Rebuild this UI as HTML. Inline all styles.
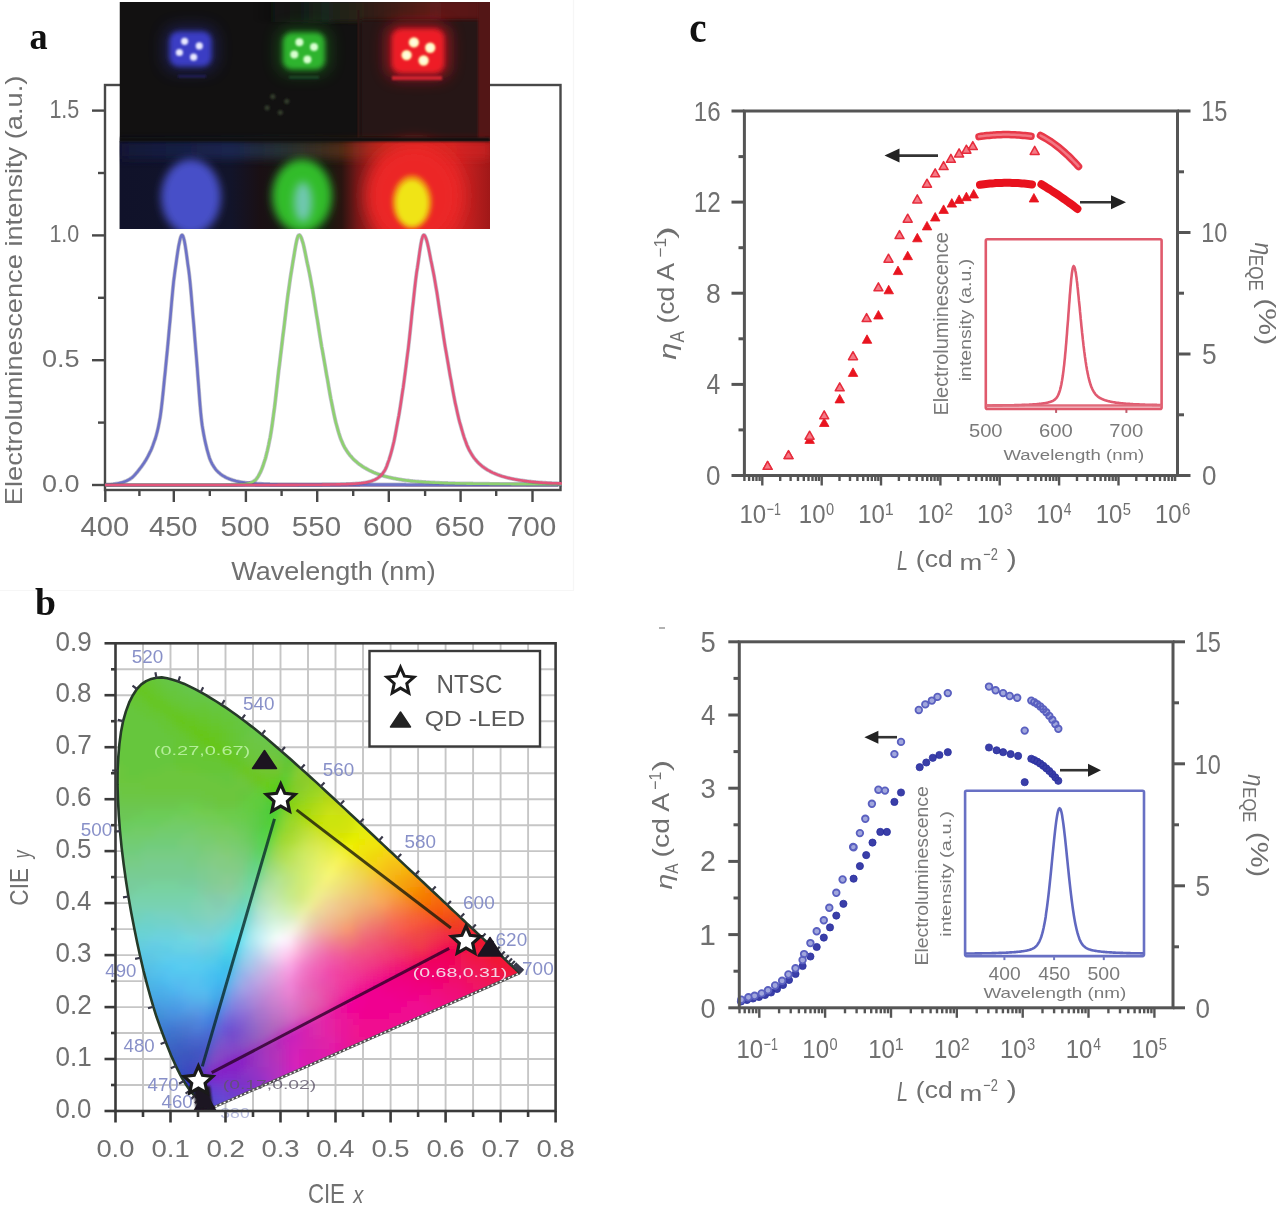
<!DOCTYPE html><html><head><meta charset="utf-8"><style>html,body{margin:0;padding:0;background:#fff;overflow:hidden}svg{display:block;filter:blur(0.45px)}</style></head><body>
<svg width="1280" height="1209" viewBox="0 0 1280 1209">
<rect width="1280" height="1209" fill="#fff"/>
<path d="M0 590.5 H573.5 V0" stroke="#f6f6f6" stroke-width="1.2" fill="none"/>
<rect x="105" y="85" width="455.5" height="405" fill="none" stroke="#484848" stroke-width="2.4"/>
<line x1="92.0" y1="485.0" x2="105.0" y2="485.0" stroke="#484848" stroke-width="2.4" />
<line x1="98.0" y1="422.6" x2="105.0" y2="422.6" stroke="#484848" stroke-width="2.4" />
<line x1="92.0" y1="360.2" x2="105.0" y2="360.2" stroke="#484848" stroke-width="2.4" />
<line x1="98.0" y1="297.8" x2="105.0" y2="297.8" stroke="#484848" stroke-width="2.4" />
<line x1="92.0" y1="235.4" x2="105.0" y2="235.4" stroke="#484848" stroke-width="2.4" />
<line x1="98.0" y1="173.0" x2="105.0" y2="173.0" stroke="#484848" stroke-width="2.4" />
<line x1="92.0" y1="110.6" x2="105.0" y2="110.6" stroke="#484848" stroke-width="2.4" />
<line x1="105.3" y1="490.0" x2="105.3" y2="502.0" stroke="#484848" stroke-width="2.4" />
<line x1="139.4" y1="490.0" x2="139.4" y2="496.0" stroke="#484848" stroke-width="2.4" />
<line x1="173.8" y1="490.0" x2="173.8" y2="502.0" stroke="#484848" stroke-width="2.4" />
<line x1="209.8" y1="490.0" x2="209.8" y2="496.0" stroke="#484848" stroke-width="2.4" />
<line x1="245.9" y1="490.0" x2="245.9" y2="502.0" stroke="#484848" stroke-width="2.4" />
<line x1="281.6" y1="490.0" x2="281.6" y2="496.0" stroke="#484848" stroke-width="2.4" />
<line x1="317.2" y1="490.0" x2="317.2" y2="502.0" stroke="#484848" stroke-width="2.4" />
<line x1="353.2" y1="490.0" x2="353.2" y2="496.0" stroke="#484848" stroke-width="2.4" />
<line x1="388.8" y1="490.0" x2="388.8" y2="502.0" stroke="#484848" stroke-width="2.4" />
<line x1="425.1" y1="490.0" x2="425.1" y2="496.0" stroke="#484848" stroke-width="2.4" />
<line x1="460.6" y1="490.0" x2="460.6" y2="502.0" stroke="#484848" stroke-width="2.4" />
<line x1="496.2" y1="490.0" x2="496.2" y2="496.0" stroke="#484848" stroke-width="2.4" />
<line x1="532.5" y1="490.0" x2="532.5" y2="502.0" stroke="#484848" stroke-width="2.4" />
<path d="M107 485.5 H558" stroke="#b9a0c8" stroke-width="3" fill="none"/>
<path d="M120 485 H250" stroke="#c8d890" stroke-width="2" fill="none"/>
<path d="M255 485.5 H360" stroke="#a070b0" stroke-width="2" fill="none"/>
<path d="M105.0 484.7 L105.7 484.7 L106.4 484.7 L107.1 484.6 L107.9 484.6 L108.6 484.5 L109.3 484.5 L110.0 484.4 L110.7 484.4 L111.4 484.3 L112.2 484.2 L112.9 484.2 L113.6 484.1 L114.3 484.0 L115.0 483.9 L115.7 483.8 L116.4 483.7 L117.2 483.6 L117.9 483.5 L118.6 483.3 L119.3 483.2 L120.0 483.0 L120.7 482.8 L121.4 482.6 L122.2 482.4 L122.9 482.2 L123.6 482.0 L124.3 481.7 L125.0 481.5 L125.7 481.2 L126.5 480.9 L127.2 480.5 L127.9 480.2 L128.6 479.8 L129.3 479.4 L130.0 479.0 L130.7 478.5 L131.5 478.0 L132.2 477.4 L132.9 476.8 L133.6 476.1 L134.3 475.4 L135.0 474.6 L135.7 473.8 L136.5 472.9 L137.2 472.1 L137.9 471.2 L138.6 470.3 L139.3 469.4 L140.0 468.5 L140.8 467.5 L141.5 466.6 L142.2 465.6 L142.9 464.6 L143.6 463.6 L144.3 462.5 L145.0 461.4 L145.8 460.2 L146.5 458.9 L147.2 457.7 L147.9 456.4 L148.6 455.0 L149.3 453.6 L150.0 452.2 L150.8 450.6 L151.5 449.0 L152.2 447.2 L152.9 445.4 L153.6 443.4 L154.3 441.4 L155.1 439.3 L155.8 437.0 L156.5 434.5 L157.2 431.8 L157.9 428.9 L158.6 425.6 L159.3 421.9 L160.1 417.6 L160.8 412.7 L161.5 407.2 L162.2 401.1 L162.9 394.5 L163.6 387.6 L164.3 380.3 L165.1 372.9 L165.8 365.6 L166.5 358.5 L167.2 351.5 L167.9 344.1 L168.6 336.4 L169.3 328.4 L170.1 320.3 L170.8 312.1 L171.5 304.0 L172.2 296.2 L172.9 288.7 L173.6 281.7 L174.4 275.4 L175.1 270.1 L175.8 265.2 L176.5 260.2 L177.2 255.3 L177.9 250.6 L178.6 246.3 L179.4 242.5 L180.1 239.2 L180.8 236.8 L181.5 235.4 L182.2 235.0 L182.9 235.9 L183.6 238.0 L184.4 241.1 L185.1 244.9 L185.8 249.4 L186.5 254.3 L187.2 259.5 L187.9 264.8 L188.7 270.1 L189.4 275.8 L190.1 282.4 L190.8 289.8 L191.5 297.8 L192.2 306.3 L192.9 315.0 L193.7 323.8 L194.4 332.7 L195.1 341.5 L195.8 350.1 L196.5 358.5 L197.2 367.4 L197.9 377.2 L198.7 387.1 L199.4 396.7 L200.1 405.5 L200.8 413.3 L201.5 420.1 L202.2 425.6 L203.0 430.3 L203.7 434.3 L204.4 438.0 L205.1 441.3 L205.8 444.4 L206.5 447.3 L207.2 450.2 L208.0 452.9 L208.7 455.4 L209.4 457.7 L210.1 459.6 L210.8 461.2 L211.5 462.7 L212.2 464.1 L213.0 465.4 L213.7 466.5 L214.4 467.6 L215.1 468.6 L215.8 469.5 L216.5 470.3 L217.3 471.1 L218.0 471.8 L218.7 472.5 L219.4 473.1 L220.1 473.7 L220.8 474.3 L221.5 474.8 L222.3 475.3 L223.0 475.8 L223.7 476.2 L224.4 476.6 L225.1 477.0 L225.8 477.4 L226.6 477.8 L227.3 478.1 L228.0 478.4 L228.7 478.7 L229.4 479.0 L230.1 479.2 L230.8 479.5 L231.6 479.7 L232.3 480.0 L233.0 480.2 L233.7 480.4 L234.4 480.6 L235.1 480.8 L235.8 481.0 L236.6 481.2 L237.3 481.4 L238.0 481.5 L238.7 481.7 L239.4 481.8 L240.1 482.0 L240.8 482.1 L241.6 482.2 L242.3 482.3 L243.0 482.4 L243.7 482.5 L244.4 482.6 L245.1 482.7 L245.9 482.8 L246.6 482.9 L247.3 482.9 L248.0 483.0 L248.7 483.1 L249.4 483.1 L250.1 483.2 L250.9 483.2 L251.6 483.3 L252.3 483.3 L253.0 483.4 L253.7 483.4 L254.4 483.5 L255.2 483.5 L255.9 483.6 L256.6 483.6 L257.3 483.7 L258.0 483.7 L258.7 483.7 L259.4 483.8 L260.2 483.8 L260.9 483.8 L261.6 483.9 L262.3 483.9 L263.0 483.9 L263.7 484.0 L264.4 484.0 L265.2 484.0 L265.9 484.0 L266.6 484.1 L267.3 484.1 L268.0 484.1 L268.7 484.1 L269.4 484.1 L270.2 484.2 L270.9 484.2 L271.6 484.2 L272.3 484.2 L273.0 484.2 L273.7 484.2 L274.5 484.2 L275.2 484.2 L275.9 484.2 L276.6 484.2 L277.3 484.3 L278.0 484.3 L278.7 484.3 L279.5 484.3 L280.2 484.3 L280.9 484.3 L281.6 484.3 L282.3 484.3 L283.0 484.3 L283.8 484.3 L284.5 484.3 L285.2 484.3 L285.9 484.3 L286.6 484.3 L287.3 484.3 L288.0 484.3 L288.8 484.3 L289.5 484.3 L290.2 484.3 L290.9 484.3 L291.6 484.3 L292.3 484.3 L293.0 484.3 L293.8 484.3 L294.5 484.3 L295.2 484.3 L295.9 484.3 L296.6 484.3 L297.3 484.3 L298.0 484.4 L298.8 484.4 L299.5 484.4 L300.2 484.4 L300.9 484.4 L301.6 484.4 L302.3 484.4 L303.1 484.4 L303.8 484.4 L304.5 484.4 L305.2 484.4 L305.9 484.4 L306.6 484.4 L307.3 484.4 L308.1 484.4 L308.8 484.4 L309.5 484.4 L310.2 484.4 L310.9 484.4 L311.6 484.4 L312.4 484.4 L313.1 484.4 L313.8 484.4 L314.5 484.4 L315.2 484.4 L315.9 484.4 L316.6 484.4 L317.4 484.4 L318.1 484.4 L318.8 484.4 L319.5 484.4 L320.2 484.4 L320.9 484.4 L321.6 484.4 L322.4 484.4 L323.1 484.5 L323.8 484.5 L324.5 484.5 L325.2 484.5 L325.9 484.5 L326.6 484.5 L327.4 484.5 L328.1 484.5 L328.8 484.5 L329.5 484.5 L330.2 484.5 L330.9 484.5 L331.7 484.5 L332.4 484.5 L333.1 484.5 L333.8 484.5 L334.5 484.5 L335.2 484.5 L335.9 484.5 L336.7 484.5 L337.4 484.5 L338.1 484.5 L338.8 484.5 L339.5 484.5 L340.2 484.5 L340.9 484.5 L341.7 484.5 L342.4 484.5 L343.1 484.5 L343.8 484.5 L344.5 484.5 L345.2 484.5 L346.0 484.5 L346.7 484.5 L347.4 484.5 L348.1 484.5 L348.8 484.5 L349.5 484.5 L350.2 484.5 L351.0 484.5 L351.7 484.5 L352.4 484.5 L353.1 484.5 L353.8 484.5 L354.5 484.5 L355.2 484.5 L356.0 484.5 L356.7 484.6 L357.4 484.6 L358.1 484.6 L358.8 484.6 L359.5 484.6 L360.3 484.6 L361.0 484.6 L361.7 484.6 L362.4 484.6 L363.1 484.6 L363.8 484.6 L364.5 484.6 L365.3 484.6 L366.0 484.6 L366.7 484.6 L367.4 484.6 L368.1 484.6 L368.8 484.6 L369.6 484.6 L370.3 484.6 L371.0 484.6 L371.7 484.6 L372.4 484.6 L373.1 484.6 L373.8 484.6 L374.6 484.6 L375.3 484.6 L376.0 484.6 L376.7 484.6 L377.4 484.6 L378.1 484.6 L378.8 484.6 L379.6 484.6 L380.3 484.6 L381.0 484.6 L381.7 484.6 L382.4 484.6 L383.1 484.6 L383.8 484.6 L384.6 484.6 L385.3 484.6 L386.0 484.6 L386.7 484.6 L387.4 484.6 L388.1 484.6 L388.9 484.6 L389.6 484.6 L390.3 484.6 L391.0 484.6 L391.7 484.6 L392.4 484.6 L393.1 484.6 L393.9 484.6 L394.6 484.6 L395.3 484.6 L396.0 484.6 L396.7 484.6 L397.4 484.6 L398.1 484.6 L398.9 484.6 L399.6 484.6 L400.3 484.6 L401.0 484.6 L401.7 484.6 L402.4 484.6 L403.2 484.6 L403.9 484.6 L404.6 484.6 L405.3 484.6 L406.0 484.7 L406.7 484.7 L407.4 484.7 L408.2 484.7 L408.9 484.7 L409.6 484.7 L410.3 484.7 L411.0 484.7 L411.7 484.7 L412.4 484.7 L413.2 484.7 L413.9 484.7 L414.6 484.7 L415.3 484.7 L416.0 484.7 L416.7 484.7 L417.5 484.7 L418.2 484.7 L418.9 484.7 L419.6 484.7 L420.3 484.7 L421.0 484.7 L421.7 484.7 L422.5 484.7 L423.2 484.7 L423.9 484.7 L424.6 484.7 L425.3 484.7 L426.0 484.7 L426.8 484.7 L427.5 484.7 L428.2 484.7 L428.9 484.7 L429.6 484.7 L430.3 484.7 L431.0 484.7 L431.8 484.7 L432.5 484.7 L433.2 484.7 L433.9 484.7 L434.6 484.7 L435.3 484.7 L436.0 484.7 L436.8 484.7 L437.5 484.7 L438.2 484.7 L438.9 484.7 L439.6 484.7 L440.3 484.7 L441.1 484.7 L441.8 484.7 L442.5 484.7 L443.2 484.7 L443.9 484.7 L444.6 484.7 L445.3 484.7 L446.1 484.7 L446.8 484.7 L447.5 484.7 L448.2 484.7 L448.9 484.7 L449.6 484.7 L450.3 484.7 L451.1 484.7 L451.8 484.7 L452.5 484.7 L453.2 484.7 L453.9 484.7 L454.6 484.7 L455.3 484.7 L456.1 484.7 L456.8 484.7 L457.5 484.7 L458.2 484.7 L458.9 484.7 L459.6 484.7 L460.4 484.7 L461.1 484.7 L461.8 484.7 L462.5 484.7 L463.2 484.7 L463.9 484.7 L464.6 484.7 L465.4 484.7 L466.1 484.7 L466.8 484.7 L467.5 484.7 L468.2 484.7 L468.9 484.7 L469.6 484.7 L470.4 484.7 L471.1 484.7 L471.8 484.7 L472.5 484.7 L473.2 484.7 L473.9 484.7 L474.7 484.7 L475.4 484.7 L476.1 484.7 L476.8 484.7 L477.5 484.7 L478.2 484.7 L478.9 484.7 L479.7 484.7 L480.4 484.7 L481.1 484.7 L481.8 484.7 L482.5 484.7 L483.2 484.7 L483.9 484.7 L484.7 484.7 L485.4 484.7 L486.1 484.7 L486.8 484.7 L487.5 484.7 L488.2 484.7 L489.0 484.7 L489.7 484.7 L490.4 484.7 L491.1 484.7 L491.8 484.7 L492.5 484.7 L493.2 484.7 L494.0 484.7 L494.7 484.7 L495.4 484.7 L496.1 484.7 L496.8 484.7 L497.5 484.7 L498.2 484.7 L499.0 484.7 L499.7 484.7 L500.4 484.7 L501.1 484.7 L501.8 484.7 L502.5 484.7 L503.3 484.7 L504.0 484.7 L504.7 484.7 L505.4 484.7 L506.1 484.7 L506.8 484.7 L507.5 484.7 L508.3 484.7 L509.0 484.7 L509.7 484.7 L510.4 484.7 L511.1 484.7 L511.8 484.7 L512.5 484.7 L513.3 484.7 L514.0 484.7 L514.7 484.7 L515.4 484.7 L516.1 484.7 L516.8 484.7 L517.6 484.7 L518.3 484.7 L519.0 484.7 L519.7 484.7 L520.4 484.7 L521.1 484.7 L521.8 484.7 L522.6 484.7 L523.3 484.7 L524.0 484.7 L524.7 484.7 L525.4 484.7 L526.1 484.7 L526.8 484.7 L527.6 484.7 L528.3 484.7 L529.0 484.7 L529.7 484.7 L530.4 484.7 L531.1 484.7 L531.9 484.7 L532.6 484.7 L533.3 484.7 L534.0 484.7 L534.7 484.7 L535.4 484.7 L536.1 484.7 L536.9 484.7 L537.6 484.7 L538.3 484.7 L539.0 484.7 L539.7 484.7 L540.4 484.7 L541.1 484.7 L541.9 484.7 L542.6 484.7 L543.3 484.7 L544.0 484.7 L544.7 484.7 L545.4 484.7 L546.2 484.7 L546.9 484.7 L547.6 484.7 L548.3 484.7 L549.0 484.7 L549.7 484.7 L550.4 484.7 L551.2 484.7 L551.9 484.7 L552.6 484.7 L553.3 484.7 L554.0 484.7 L554.7 484.7 L555.5 484.7 L556.2 484.7 L556.9 484.7 L557.6 484.7 L558.3 484.7 L559.0 484.7 L559.7 484.7 L560.5 484.7 L561.2 484.7 L561.9 484.7" stroke="#505070" stroke-opacity="0.35" stroke-width="4" fill="none" stroke-linejoin="round"/>
<path d="M105.0 484.7 L105.7 484.7 L106.4 484.7 L107.1 484.6 L107.9 484.6 L108.6 484.5 L109.3 484.5 L110.0 484.4 L110.7 484.4 L111.4 484.3 L112.2 484.2 L112.9 484.2 L113.6 484.1 L114.3 484.0 L115.0 483.9 L115.7 483.8 L116.4 483.7 L117.2 483.6 L117.9 483.5 L118.6 483.3 L119.3 483.2 L120.0 483.0 L120.7 482.8 L121.4 482.6 L122.2 482.4 L122.9 482.2 L123.6 482.0 L124.3 481.7 L125.0 481.5 L125.7 481.2 L126.5 480.9 L127.2 480.5 L127.9 480.2 L128.6 479.8 L129.3 479.4 L130.0 479.0 L130.7 478.5 L131.5 478.0 L132.2 477.4 L132.9 476.8 L133.6 476.1 L134.3 475.4 L135.0 474.6 L135.7 473.8 L136.5 472.9 L137.2 472.1 L137.9 471.2 L138.6 470.3 L139.3 469.4 L140.0 468.5 L140.8 467.5 L141.5 466.6 L142.2 465.6 L142.9 464.6 L143.6 463.6 L144.3 462.5 L145.0 461.4 L145.8 460.2 L146.5 458.9 L147.2 457.7 L147.9 456.4 L148.6 455.0 L149.3 453.6 L150.0 452.2 L150.8 450.6 L151.5 449.0 L152.2 447.2 L152.9 445.4 L153.6 443.4 L154.3 441.4 L155.1 439.3 L155.8 437.0 L156.5 434.5 L157.2 431.8 L157.9 428.9 L158.6 425.6 L159.3 421.9 L160.1 417.6 L160.8 412.7 L161.5 407.2 L162.2 401.1 L162.9 394.5 L163.6 387.6 L164.3 380.3 L165.1 372.9 L165.8 365.6 L166.5 358.5 L167.2 351.5 L167.9 344.1 L168.6 336.4 L169.3 328.4 L170.1 320.3 L170.8 312.1 L171.5 304.0 L172.2 296.2 L172.9 288.7 L173.6 281.7 L174.4 275.4 L175.1 270.1 L175.8 265.2 L176.5 260.2 L177.2 255.3 L177.9 250.6 L178.6 246.3 L179.4 242.5 L180.1 239.2 L180.8 236.8 L181.5 235.4 L182.2 235.0 L182.9 235.9 L183.6 238.0 L184.4 241.1 L185.1 244.9 L185.8 249.4 L186.5 254.3 L187.2 259.5 L187.9 264.8 L188.7 270.1 L189.4 275.8 L190.1 282.4 L190.8 289.8 L191.5 297.8 L192.2 306.3 L192.9 315.0 L193.7 323.8 L194.4 332.7 L195.1 341.5 L195.8 350.1 L196.5 358.5 L197.2 367.4 L197.9 377.2 L198.7 387.1 L199.4 396.7 L200.1 405.5 L200.8 413.3 L201.5 420.1 L202.2 425.6 L203.0 430.3 L203.7 434.3 L204.4 438.0 L205.1 441.3 L205.8 444.4 L206.5 447.3 L207.2 450.2 L208.0 452.9 L208.7 455.4 L209.4 457.7 L210.1 459.6 L210.8 461.2 L211.5 462.7 L212.2 464.1 L213.0 465.4 L213.7 466.5 L214.4 467.6 L215.1 468.6 L215.8 469.5 L216.5 470.3 L217.3 471.1 L218.0 471.8 L218.7 472.5 L219.4 473.1 L220.1 473.7 L220.8 474.3 L221.5 474.8 L222.3 475.3 L223.0 475.8 L223.7 476.2 L224.4 476.6 L225.1 477.0 L225.8 477.4 L226.6 477.8 L227.3 478.1 L228.0 478.4 L228.7 478.7 L229.4 479.0 L230.1 479.2 L230.8 479.5 L231.6 479.7 L232.3 480.0 L233.0 480.2 L233.7 480.4 L234.4 480.6 L235.1 480.8 L235.8 481.0 L236.6 481.2 L237.3 481.4 L238.0 481.5 L238.7 481.7 L239.4 481.8 L240.1 482.0 L240.8 482.1 L241.6 482.2 L242.3 482.3 L243.0 482.4 L243.7 482.5 L244.4 482.6 L245.1 482.7 L245.9 482.8 L246.6 482.9 L247.3 482.9 L248.0 483.0 L248.7 483.1 L249.4 483.1 L250.1 483.2 L250.9 483.2 L251.6 483.3 L252.3 483.3 L253.0 483.4 L253.7 483.4 L254.4 483.5 L255.2 483.5 L255.9 483.6 L256.6 483.6 L257.3 483.7 L258.0 483.7 L258.7 483.7 L259.4 483.8 L260.2 483.8 L260.9 483.8 L261.6 483.9 L262.3 483.9 L263.0 483.9 L263.7 484.0 L264.4 484.0 L265.2 484.0 L265.9 484.0 L266.6 484.1 L267.3 484.1 L268.0 484.1 L268.7 484.1 L269.4 484.1 L270.2 484.2 L270.9 484.2 L271.6 484.2 L272.3 484.2 L273.0 484.2 L273.7 484.2 L274.5 484.2 L275.2 484.2 L275.9 484.2 L276.6 484.2 L277.3 484.3 L278.0 484.3 L278.7 484.3 L279.5 484.3 L280.2 484.3 L280.9 484.3 L281.6 484.3 L282.3 484.3 L283.0 484.3 L283.8 484.3 L284.5 484.3 L285.2 484.3 L285.9 484.3 L286.6 484.3 L287.3 484.3 L288.0 484.3 L288.8 484.3 L289.5 484.3 L290.2 484.3 L290.9 484.3 L291.6 484.3 L292.3 484.3 L293.0 484.3 L293.8 484.3 L294.5 484.3 L295.2 484.3 L295.9 484.3 L296.6 484.3 L297.3 484.3 L298.0 484.4 L298.8 484.4 L299.5 484.4 L300.2 484.4 L300.9 484.4 L301.6 484.4 L302.3 484.4 L303.1 484.4 L303.8 484.4 L304.5 484.4 L305.2 484.4 L305.9 484.4 L306.6 484.4 L307.3 484.4 L308.1 484.4 L308.8 484.4 L309.5 484.4 L310.2 484.4 L310.9 484.4 L311.6 484.4 L312.4 484.4 L313.1 484.4 L313.8 484.4 L314.5 484.4 L315.2 484.4 L315.9 484.4 L316.6 484.4 L317.4 484.4 L318.1 484.4 L318.8 484.4 L319.5 484.4 L320.2 484.4 L320.9 484.4 L321.6 484.4 L322.4 484.4 L323.1 484.5 L323.8 484.5 L324.5 484.5 L325.2 484.5 L325.9 484.5 L326.6 484.5 L327.4 484.5 L328.1 484.5 L328.8 484.5 L329.5 484.5 L330.2 484.5 L330.9 484.5 L331.7 484.5 L332.4 484.5 L333.1 484.5 L333.8 484.5 L334.5 484.5 L335.2 484.5 L335.9 484.5 L336.7 484.5 L337.4 484.5 L338.1 484.5 L338.8 484.5 L339.5 484.5 L340.2 484.5 L340.9 484.5 L341.7 484.5 L342.4 484.5 L343.1 484.5 L343.8 484.5 L344.5 484.5 L345.2 484.5 L346.0 484.5 L346.7 484.5 L347.4 484.5 L348.1 484.5 L348.8 484.5 L349.5 484.5 L350.2 484.5 L351.0 484.5 L351.7 484.5 L352.4 484.5 L353.1 484.5 L353.8 484.5 L354.5 484.5 L355.2 484.5 L356.0 484.5 L356.7 484.6 L357.4 484.6 L358.1 484.6 L358.8 484.6 L359.5 484.6 L360.3 484.6 L361.0 484.6 L361.7 484.6 L362.4 484.6 L363.1 484.6 L363.8 484.6 L364.5 484.6 L365.3 484.6 L366.0 484.6 L366.7 484.6 L367.4 484.6 L368.1 484.6 L368.8 484.6 L369.6 484.6 L370.3 484.6 L371.0 484.6 L371.7 484.6 L372.4 484.6 L373.1 484.6 L373.8 484.6 L374.6 484.6 L375.3 484.6 L376.0 484.6 L376.7 484.6 L377.4 484.6 L378.1 484.6 L378.8 484.6 L379.6 484.6 L380.3 484.6 L381.0 484.6 L381.7 484.6 L382.4 484.6 L383.1 484.6 L383.8 484.6 L384.6 484.6 L385.3 484.6 L386.0 484.6 L386.7 484.6 L387.4 484.6 L388.1 484.6 L388.9 484.6 L389.6 484.6 L390.3 484.6 L391.0 484.6 L391.7 484.6 L392.4 484.6 L393.1 484.6 L393.9 484.6 L394.6 484.6 L395.3 484.6 L396.0 484.6 L396.7 484.6 L397.4 484.6 L398.1 484.6 L398.9 484.6 L399.6 484.6 L400.3 484.6 L401.0 484.6 L401.7 484.6 L402.4 484.6 L403.2 484.6 L403.9 484.6 L404.6 484.6 L405.3 484.6 L406.0 484.7 L406.7 484.7 L407.4 484.7 L408.2 484.7 L408.9 484.7 L409.6 484.7 L410.3 484.7 L411.0 484.7 L411.7 484.7 L412.4 484.7 L413.2 484.7 L413.9 484.7 L414.6 484.7 L415.3 484.7 L416.0 484.7 L416.7 484.7 L417.5 484.7 L418.2 484.7 L418.9 484.7 L419.6 484.7 L420.3 484.7 L421.0 484.7 L421.7 484.7 L422.5 484.7 L423.2 484.7 L423.9 484.7 L424.6 484.7 L425.3 484.7 L426.0 484.7 L426.8 484.7 L427.5 484.7 L428.2 484.7 L428.9 484.7 L429.6 484.7 L430.3 484.7 L431.0 484.7 L431.8 484.7 L432.5 484.7 L433.2 484.7 L433.9 484.7 L434.6 484.7 L435.3 484.7 L436.0 484.7 L436.8 484.7 L437.5 484.7 L438.2 484.7 L438.9 484.7 L439.6 484.7 L440.3 484.7 L441.1 484.7 L441.8 484.7 L442.5 484.7 L443.2 484.7 L443.9 484.7 L444.6 484.7 L445.3 484.7 L446.1 484.7 L446.8 484.7 L447.5 484.7 L448.2 484.7 L448.9 484.7 L449.6 484.7 L450.3 484.7 L451.1 484.7 L451.8 484.7 L452.5 484.7 L453.2 484.7 L453.9 484.7 L454.6 484.7 L455.3 484.7 L456.1 484.7 L456.8 484.7 L457.5 484.7 L458.2 484.7 L458.9 484.7 L459.6 484.7 L460.4 484.7 L461.1 484.7 L461.8 484.7 L462.5 484.7 L463.2 484.7 L463.9 484.7 L464.6 484.7 L465.4 484.7 L466.1 484.7 L466.8 484.7 L467.5 484.7 L468.2 484.7 L468.9 484.7 L469.6 484.7 L470.4 484.7 L471.1 484.7 L471.8 484.7 L472.5 484.7 L473.2 484.7 L473.9 484.7 L474.7 484.7 L475.4 484.7 L476.1 484.7 L476.8 484.7 L477.5 484.7 L478.2 484.7 L478.9 484.7 L479.7 484.7 L480.4 484.7 L481.1 484.7 L481.8 484.7 L482.5 484.7 L483.2 484.7 L483.9 484.7 L484.7 484.7 L485.4 484.7 L486.1 484.7 L486.8 484.7 L487.5 484.7 L488.2 484.7 L489.0 484.7 L489.7 484.7 L490.4 484.7 L491.1 484.7 L491.8 484.7 L492.5 484.7 L493.2 484.7 L494.0 484.7 L494.7 484.7 L495.4 484.7 L496.1 484.7 L496.8 484.7 L497.5 484.7 L498.2 484.7 L499.0 484.7 L499.7 484.7 L500.4 484.7 L501.1 484.7 L501.8 484.7 L502.5 484.7 L503.3 484.7 L504.0 484.7 L504.7 484.7 L505.4 484.7 L506.1 484.7 L506.8 484.7 L507.5 484.7 L508.3 484.7 L509.0 484.7 L509.7 484.7 L510.4 484.7 L511.1 484.7 L511.8 484.7 L512.5 484.7 L513.3 484.7 L514.0 484.7 L514.7 484.7 L515.4 484.7 L516.1 484.7 L516.8 484.7 L517.6 484.7 L518.3 484.7 L519.0 484.7 L519.7 484.7 L520.4 484.7 L521.1 484.7 L521.8 484.7 L522.6 484.7 L523.3 484.7 L524.0 484.7 L524.7 484.7 L525.4 484.7 L526.1 484.7 L526.8 484.7 L527.6 484.7 L528.3 484.7 L529.0 484.7 L529.7 484.7 L530.4 484.7 L531.1 484.7 L531.9 484.7 L532.6 484.7 L533.3 484.7 L534.0 484.7 L534.7 484.7 L535.4 484.7 L536.1 484.7 L536.9 484.7 L537.6 484.7 L538.3 484.7 L539.0 484.7 L539.7 484.7 L540.4 484.7 L541.1 484.7 L541.9 484.7 L542.6 484.7 L543.3 484.7 L544.0 484.7 L544.7 484.7 L545.4 484.7 L546.2 484.7 L546.9 484.7 L547.6 484.7 L548.3 484.7 L549.0 484.7 L549.7 484.7 L550.4 484.7 L551.2 484.7 L551.9 484.7 L552.6 484.7 L553.3 484.7 L554.0 484.7 L554.7 484.7 L555.5 484.7 L556.2 484.7 L556.9 484.7 L557.6 484.7 L558.3 484.7 L559.0 484.7 L559.7 484.7 L560.5 484.7 L561.2 484.7 L561.9 484.7" stroke="#6d72c6" stroke-width="2.6" fill="none" stroke-linejoin="round"/>
<path d="M105.0 485.0 L105.7 485.0 L106.4 485.0 L107.1 485.0 L107.9 485.0 L108.6 485.0 L109.3 485.0 L110.0 485.0 L110.7 485.0 L111.4 485.0 L112.2 485.0 L112.9 485.0 L113.6 485.0 L114.3 485.0 L115.0 485.0 L115.7 485.0 L116.4 485.0 L117.2 485.0 L117.9 485.0 L118.6 485.0 L119.3 485.0 L120.0 485.0 L120.7 485.0 L121.4 485.0 L122.2 485.0 L122.9 485.0 L123.6 485.0 L124.3 485.0 L125.0 485.0 L125.7 485.0 L126.5 485.0 L127.2 485.0 L127.9 485.0 L128.6 485.0 L129.3 485.0 L130.0 485.0 L130.7 485.0 L131.5 485.0 L132.2 485.0 L132.9 485.0 L133.6 485.0 L134.3 485.0 L135.0 485.0 L135.7 485.0 L136.5 485.0 L137.2 485.0 L137.9 485.0 L138.6 485.0 L139.3 485.0 L140.0 485.0 L140.8 485.0 L141.5 485.0 L142.2 485.0 L142.9 485.0 L143.6 485.0 L144.3 485.0 L145.0 485.0 L145.8 485.0 L146.5 485.0 L147.2 485.0 L147.9 485.0 L148.6 485.0 L149.3 485.0 L150.0 485.0 L150.8 485.0 L151.5 485.0 L152.2 485.0 L152.9 485.0 L153.6 485.0 L154.3 485.0 L155.1 485.0 L155.8 485.0 L156.5 485.0 L157.2 485.0 L157.9 485.0 L158.6 485.0 L159.3 485.0 L160.1 485.0 L160.8 485.0 L161.5 485.0 L162.2 485.0 L162.9 485.0 L163.6 485.0 L164.3 485.0 L165.1 485.0 L165.8 485.0 L166.5 485.0 L167.2 485.0 L167.9 485.0 L168.6 485.0 L169.3 485.0 L170.1 485.0 L170.8 485.0 L171.5 485.0 L172.2 485.0 L172.9 485.0 L173.6 485.0 L174.4 485.0 L175.1 485.0 L175.8 485.0 L176.5 485.0 L177.2 485.0 L177.9 485.0 L178.6 485.0 L179.4 485.0 L180.1 485.0 L180.8 485.0 L181.5 485.0 L182.2 485.0 L182.9 485.0 L183.6 485.0 L184.4 485.0 L185.1 485.0 L185.8 485.0 L186.5 485.0 L187.2 485.0 L187.9 485.0 L188.7 485.0 L189.4 485.0 L190.1 485.0 L190.8 485.0 L191.5 485.0 L192.2 485.0 L192.9 485.0 L193.7 485.0 L194.4 485.0 L195.1 485.0 L195.8 485.0 L196.5 485.0 L197.2 485.0 L197.9 485.0 L198.7 485.0 L199.4 485.0 L200.1 485.0 L200.8 485.0 L201.5 485.0 L202.2 485.0 L203.0 485.0 L203.7 485.0 L204.4 485.0 L205.1 485.0 L205.8 485.0 L206.5 485.0 L207.2 485.0 L208.0 485.0 L208.7 485.0 L209.4 485.0 L210.1 485.0 L210.8 485.0 L211.5 485.0 L212.2 485.0 L213.0 485.0 L213.7 485.0 L214.4 485.0 L215.1 485.0 L215.8 485.0 L216.5 485.0 L217.3 485.0 L218.0 485.0 L218.7 485.0 L219.4 485.0 L220.1 485.0 L220.8 485.0 L221.5 485.0 L222.3 485.0 L223.0 485.0 L223.7 485.0 L224.4 485.0 L225.1 485.0 L225.8 485.0 L226.6 484.9 L227.3 484.9 L228.0 484.9 L228.7 484.9 L229.4 484.9 L230.1 484.9 L230.8 484.9 L231.6 484.8 L232.3 484.8 L233.0 484.8 L233.7 484.8 L234.4 484.8 L235.1 484.7 L235.8 484.7 L236.6 484.7 L237.3 484.6 L238.0 484.6 L238.7 484.6 L239.4 484.5 L240.1 484.5 L240.8 484.4 L241.6 484.4 L242.3 484.4 L243.0 484.3 L243.7 484.2 L244.4 484.2 L245.1 484.1 L245.9 484.0 L246.6 483.9 L247.3 483.8 L248.0 483.6 L248.7 483.4 L249.4 483.2 L250.1 483.0 L250.9 482.7 L251.6 482.4 L252.3 482.1 L253.0 481.7 L253.7 481.3 L254.4 480.8 L255.2 480.3 L255.9 479.6 L256.6 478.7 L257.3 477.8 L258.0 476.7 L258.7 475.5 L259.4 474.1 L260.2 472.7 L260.9 471.1 L261.6 469.5 L262.3 467.7 L263.0 465.8 L263.7 463.7 L264.4 461.5 L265.2 459.1 L265.9 456.6 L266.6 453.8 L267.3 451.0 L268.0 447.9 L268.7 444.7 L269.4 441.1 L270.2 437.3 L270.9 433.1 L271.6 428.7 L272.3 423.9 L273.0 418.8 L273.7 413.4 L274.5 407.8 L275.2 401.9 L275.9 395.8 L276.6 389.5 L277.3 383.2 L278.0 376.8 L278.7 370.5 L279.5 364.4 L280.2 358.5 L280.9 352.7 L281.6 346.9 L282.3 341.0 L283.0 335.1 L283.8 329.1 L284.5 323.2 L285.2 317.2 L285.9 311.4 L286.6 305.6 L287.3 299.9 L288.0 294.4 L288.8 289.1 L289.5 283.9 L290.2 279.0 L290.9 274.4 L291.6 270.1 L292.3 265.8 L293.0 261.4 L293.8 256.9 L294.5 252.5 L295.2 248.4 L295.9 244.5 L296.6 241.1 L297.3 238.3 L298.0 236.3 L298.8 235.2 L299.5 235.1 L300.2 235.7 L300.9 236.9 L301.6 238.6 L302.3 240.8 L303.1 243.4 L303.8 246.3 L304.5 249.5 L305.2 252.8 L305.9 256.3 L306.6 259.8 L307.3 263.3 L308.1 266.7 L308.8 270.1 L309.5 273.4 L310.2 277.0 L310.9 280.8 L311.6 284.8 L312.4 288.9 L313.1 293.2 L313.8 297.5 L314.5 301.9 L315.2 306.4 L315.9 310.9 L316.6 315.4 L317.4 319.9 L318.1 324.4 L318.8 328.9 L319.5 333.4 L320.2 337.8 L320.9 342.1 L321.6 346.3 L322.4 350.5 L323.1 354.5 L323.8 358.5 L324.5 362.5 L325.2 366.5 L325.9 370.7 L326.6 374.8 L327.4 379.0 L328.1 383.1 L328.8 387.3 L329.5 391.3 L330.2 395.3 L330.9 399.1 L331.7 402.9 L332.4 406.5 L333.1 410.0 L333.8 413.4 L334.5 416.6 L335.2 419.7 L335.9 422.7 L336.7 425.5 L337.4 428.1 L338.1 430.6 L338.8 433.0 L339.5 435.2 L340.2 437.3 L340.9 439.3 L341.7 441.1 L342.4 442.8 L343.1 444.4 L343.8 445.8 L344.5 447.2 L345.2 448.4 L346.0 449.6 L346.7 450.7 L347.4 451.8 L348.1 452.8 L348.8 453.7 L349.5 454.7 L350.2 455.6 L351.0 456.4 L351.7 457.2 L352.4 458.0 L353.1 458.8 L353.8 459.5 L354.5 460.2 L355.2 460.8 L356.0 461.5 L356.7 462.1 L357.4 462.7 L358.1 463.3 L358.8 463.8 L359.5 464.4 L360.3 464.9 L361.0 465.4 L361.7 465.9 L362.4 466.4 L363.1 466.8 L363.8 467.3 L364.5 467.7 L365.3 468.1 L366.0 468.5 L366.7 469.0 L367.4 469.3 L368.1 469.7 L368.8 470.1 L369.6 470.5 L370.3 470.8 L371.0 471.2 L371.7 471.5 L372.4 471.8 L373.1 472.2 L373.8 472.5 L374.6 472.8 L375.3 473.1 L376.0 473.3 L376.7 473.6 L377.4 473.9 L378.1 474.1 L378.8 474.4 L379.6 474.6 L380.3 474.9 L381.0 475.1 L381.7 475.3 L382.4 475.6 L383.1 475.8 L383.8 476.0 L384.6 476.2 L385.3 476.4 L386.0 476.6 L386.7 476.8 L387.4 476.9 L388.1 477.1 L388.9 477.3 L389.6 477.5 L390.3 477.6 L391.0 477.8 L391.7 477.9 L392.4 478.1 L393.1 478.2 L393.9 478.4 L394.6 478.5 L395.3 478.6 L396.0 478.8 L396.7 478.9 L397.4 479.0 L398.1 479.2 L398.9 479.3 L399.6 479.4 L400.3 479.5 L401.0 479.6 L401.7 479.8 L402.4 479.9 L403.2 480.0 L403.9 480.1 L404.6 480.2 L405.3 480.3 L406.0 480.4 L406.7 480.5 L407.4 480.6 L408.2 480.6 L408.9 480.7 L409.6 480.8 L410.3 480.9 L411.0 481.0 L411.7 481.1 L412.4 481.1 L413.2 481.2 L413.9 481.3 L414.6 481.3 L415.3 481.4 L416.0 481.5 L416.7 481.5 L417.5 481.6 L418.2 481.6 L418.9 481.7 L419.6 481.7 L420.3 481.8 L421.0 481.8 L421.7 481.9 L422.5 481.9 L423.2 482.0 L423.9 482.0 L424.6 482.1 L425.3 482.1 L426.0 482.2 L426.8 482.2 L427.5 482.3 L428.2 482.3 L428.9 482.3 L429.6 482.4 L430.3 482.4 L431.0 482.5 L431.8 482.5 L432.5 482.5 L433.2 482.6 L433.9 482.6 L434.6 482.6 L435.3 482.7 L436.0 482.7 L436.8 482.7 L437.5 482.8 L438.2 482.8 L438.9 482.8 L439.6 482.9 L440.3 482.9 L441.1 482.9 L441.8 482.9 L442.5 483.0 L443.2 483.0 L443.9 483.0 L444.6 483.1 L445.3 483.1 L446.1 483.1 L446.8 483.1 L447.5 483.1 L448.2 483.2 L448.9 483.2 L449.6 483.2 L450.3 483.2 L451.1 483.3 L451.8 483.3 L452.5 483.3 L453.2 483.3 L453.9 483.3 L454.6 483.3 L455.3 483.4 L456.1 483.4 L456.8 483.4 L457.5 483.4 L458.2 483.4 L458.9 483.4 L459.6 483.4 L460.4 483.5 L461.1 483.5 L461.8 483.5 L462.5 483.5 L463.2 483.5 L463.9 483.5 L464.6 483.5 L465.4 483.5 L466.1 483.5 L466.8 483.6 L467.5 483.6 L468.2 483.6 L468.9 483.6 L469.6 483.6 L470.4 483.6 L471.1 483.6 L471.8 483.6 L472.5 483.6 L473.2 483.7 L473.9 483.7 L474.7 483.7 L475.4 483.7 L476.1 483.7 L476.8 483.7 L477.5 483.7 L478.2 483.7 L478.9 483.7 L479.7 483.7 L480.4 483.7 L481.1 483.8 L481.8 483.8 L482.5 483.8 L483.2 483.8 L483.9 483.8 L484.7 483.8 L485.4 483.8 L486.1 483.8 L486.8 483.8 L487.5 483.8 L488.2 483.8 L489.0 483.8 L489.7 483.9 L490.4 483.9 L491.1 483.9 L491.8 483.9 L492.5 483.9 L493.2 483.9 L494.0 483.9 L494.7 483.9 L495.4 483.9 L496.1 483.9 L496.8 483.9 L497.5 483.9 L498.2 483.9 L499.0 483.9 L499.7 484.0 L500.4 484.0 L501.1 484.0 L501.8 484.0 L502.5 484.0 L503.3 484.0 L504.0 484.0 L504.7 484.0 L505.4 484.0 L506.1 484.0 L506.8 484.0 L507.5 484.0 L508.3 484.0 L509.0 484.0 L509.7 484.0 L510.4 484.0 L511.1 484.0 L511.8 484.1 L512.5 484.1 L513.3 484.1 L514.0 484.1 L514.7 484.1 L515.4 484.1 L516.1 484.1 L516.8 484.1 L517.6 484.1 L518.3 484.1 L519.0 484.1 L519.7 484.1 L520.4 484.1 L521.1 484.1 L521.8 484.1 L522.6 484.1 L523.3 484.1 L524.0 484.1 L524.7 484.1 L525.4 484.1 L526.1 484.1 L526.8 484.2 L527.6 484.2 L528.3 484.2 L529.0 484.2 L529.7 484.2 L530.4 484.2 L531.1 484.2 L531.9 484.2 L532.6 484.2 L533.3 484.2 L534.0 484.2 L534.7 484.2 L535.4 484.2 L536.1 484.2 L536.9 484.2 L537.6 484.2 L538.3 484.2 L539.0 484.2 L539.7 484.2 L540.4 484.2 L541.1 484.2 L541.9 484.2 L542.6 484.2 L543.3 484.2 L544.0 484.2 L544.7 484.2 L545.4 484.2 L546.2 484.2 L546.9 484.2 L547.6 484.2 L548.3 484.2 L549.0 484.2 L549.7 484.2 L550.4 484.2 L551.2 484.2 L551.9 484.2 L552.6 484.2 L553.3 484.2 L554.0 484.2 L554.7 484.2 L555.5 484.2 L556.2 484.2 L556.9 484.2 L557.6 484.2 L558.3 484.2 L559.0 484.2 L559.7 484.2 L560.5 484.2 L561.2 484.2 L561.9 484.2" stroke="#505070" stroke-opacity="0.35" stroke-width="4" fill="none" stroke-linejoin="round"/>
<path d="M105.0 485.0 L105.7 485.0 L106.4 485.0 L107.1 485.0 L107.9 485.0 L108.6 485.0 L109.3 485.0 L110.0 485.0 L110.7 485.0 L111.4 485.0 L112.2 485.0 L112.9 485.0 L113.6 485.0 L114.3 485.0 L115.0 485.0 L115.7 485.0 L116.4 485.0 L117.2 485.0 L117.9 485.0 L118.6 485.0 L119.3 485.0 L120.0 485.0 L120.7 485.0 L121.4 485.0 L122.2 485.0 L122.9 485.0 L123.6 485.0 L124.3 485.0 L125.0 485.0 L125.7 485.0 L126.5 485.0 L127.2 485.0 L127.9 485.0 L128.6 485.0 L129.3 485.0 L130.0 485.0 L130.7 485.0 L131.5 485.0 L132.2 485.0 L132.9 485.0 L133.6 485.0 L134.3 485.0 L135.0 485.0 L135.7 485.0 L136.5 485.0 L137.2 485.0 L137.9 485.0 L138.6 485.0 L139.3 485.0 L140.0 485.0 L140.8 485.0 L141.5 485.0 L142.2 485.0 L142.9 485.0 L143.6 485.0 L144.3 485.0 L145.0 485.0 L145.8 485.0 L146.5 485.0 L147.2 485.0 L147.9 485.0 L148.6 485.0 L149.3 485.0 L150.0 485.0 L150.8 485.0 L151.5 485.0 L152.2 485.0 L152.9 485.0 L153.6 485.0 L154.3 485.0 L155.1 485.0 L155.8 485.0 L156.5 485.0 L157.2 485.0 L157.9 485.0 L158.6 485.0 L159.3 485.0 L160.1 485.0 L160.8 485.0 L161.5 485.0 L162.2 485.0 L162.9 485.0 L163.6 485.0 L164.3 485.0 L165.1 485.0 L165.8 485.0 L166.5 485.0 L167.2 485.0 L167.9 485.0 L168.6 485.0 L169.3 485.0 L170.1 485.0 L170.8 485.0 L171.5 485.0 L172.2 485.0 L172.9 485.0 L173.6 485.0 L174.4 485.0 L175.1 485.0 L175.8 485.0 L176.5 485.0 L177.2 485.0 L177.9 485.0 L178.6 485.0 L179.4 485.0 L180.1 485.0 L180.8 485.0 L181.5 485.0 L182.2 485.0 L182.9 485.0 L183.6 485.0 L184.4 485.0 L185.1 485.0 L185.8 485.0 L186.5 485.0 L187.2 485.0 L187.9 485.0 L188.7 485.0 L189.4 485.0 L190.1 485.0 L190.8 485.0 L191.5 485.0 L192.2 485.0 L192.9 485.0 L193.7 485.0 L194.4 485.0 L195.1 485.0 L195.8 485.0 L196.5 485.0 L197.2 485.0 L197.9 485.0 L198.7 485.0 L199.4 485.0 L200.1 485.0 L200.8 485.0 L201.5 485.0 L202.2 485.0 L203.0 485.0 L203.7 485.0 L204.4 485.0 L205.1 485.0 L205.8 485.0 L206.5 485.0 L207.2 485.0 L208.0 485.0 L208.7 485.0 L209.4 485.0 L210.1 485.0 L210.8 485.0 L211.5 485.0 L212.2 485.0 L213.0 485.0 L213.7 485.0 L214.4 485.0 L215.1 485.0 L215.8 485.0 L216.5 485.0 L217.3 485.0 L218.0 485.0 L218.7 485.0 L219.4 485.0 L220.1 485.0 L220.8 485.0 L221.5 485.0 L222.3 485.0 L223.0 485.0 L223.7 485.0 L224.4 485.0 L225.1 485.0 L225.8 485.0 L226.6 484.9 L227.3 484.9 L228.0 484.9 L228.7 484.9 L229.4 484.9 L230.1 484.9 L230.8 484.9 L231.6 484.8 L232.3 484.8 L233.0 484.8 L233.7 484.8 L234.4 484.8 L235.1 484.7 L235.8 484.7 L236.6 484.7 L237.3 484.6 L238.0 484.6 L238.7 484.6 L239.4 484.5 L240.1 484.5 L240.8 484.4 L241.6 484.4 L242.3 484.4 L243.0 484.3 L243.7 484.2 L244.4 484.2 L245.1 484.1 L245.9 484.0 L246.6 483.9 L247.3 483.8 L248.0 483.6 L248.7 483.4 L249.4 483.2 L250.1 483.0 L250.9 482.7 L251.6 482.4 L252.3 482.1 L253.0 481.7 L253.7 481.3 L254.4 480.8 L255.2 480.3 L255.9 479.6 L256.6 478.7 L257.3 477.8 L258.0 476.7 L258.7 475.5 L259.4 474.1 L260.2 472.7 L260.9 471.1 L261.6 469.5 L262.3 467.7 L263.0 465.8 L263.7 463.7 L264.4 461.5 L265.2 459.1 L265.9 456.6 L266.6 453.8 L267.3 451.0 L268.0 447.9 L268.7 444.7 L269.4 441.1 L270.2 437.3 L270.9 433.1 L271.6 428.7 L272.3 423.9 L273.0 418.8 L273.7 413.4 L274.5 407.8 L275.2 401.9 L275.9 395.8 L276.6 389.5 L277.3 383.2 L278.0 376.8 L278.7 370.5 L279.5 364.4 L280.2 358.5 L280.9 352.7 L281.6 346.9 L282.3 341.0 L283.0 335.1 L283.8 329.1 L284.5 323.2 L285.2 317.2 L285.9 311.4 L286.6 305.6 L287.3 299.9 L288.0 294.4 L288.8 289.1 L289.5 283.9 L290.2 279.0 L290.9 274.4 L291.6 270.1 L292.3 265.8 L293.0 261.4 L293.8 256.9 L294.5 252.5 L295.2 248.4 L295.9 244.5 L296.6 241.1 L297.3 238.3 L298.0 236.3 L298.8 235.2 L299.5 235.1 L300.2 235.7 L300.9 236.9 L301.6 238.6 L302.3 240.8 L303.1 243.4 L303.8 246.3 L304.5 249.5 L305.2 252.8 L305.9 256.3 L306.6 259.8 L307.3 263.3 L308.1 266.7 L308.8 270.1 L309.5 273.4 L310.2 277.0 L310.9 280.8 L311.6 284.8 L312.4 288.9 L313.1 293.2 L313.8 297.5 L314.5 301.9 L315.2 306.4 L315.9 310.9 L316.6 315.4 L317.4 319.9 L318.1 324.4 L318.8 328.9 L319.5 333.4 L320.2 337.8 L320.9 342.1 L321.6 346.3 L322.4 350.5 L323.1 354.5 L323.8 358.5 L324.5 362.5 L325.2 366.5 L325.9 370.7 L326.6 374.8 L327.4 379.0 L328.1 383.1 L328.8 387.3 L329.5 391.3 L330.2 395.3 L330.9 399.1 L331.7 402.9 L332.4 406.5 L333.1 410.0 L333.8 413.4 L334.5 416.6 L335.2 419.7 L335.9 422.7 L336.7 425.5 L337.4 428.1 L338.1 430.6 L338.8 433.0 L339.5 435.2 L340.2 437.3 L340.9 439.3 L341.7 441.1 L342.4 442.8 L343.1 444.4 L343.8 445.8 L344.5 447.2 L345.2 448.4 L346.0 449.6 L346.7 450.7 L347.4 451.8 L348.1 452.8 L348.8 453.7 L349.5 454.7 L350.2 455.6 L351.0 456.4 L351.7 457.2 L352.4 458.0 L353.1 458.8 L353.8 459.5 L354.5 460.2 L355.2 460.8 L356.0 461.5 L356.7 462.1 L357.4 462.7 L358.1 463.3 L358.8 463.8 L359.5 464.4 L360.3 464.9 L361.0 465.4 L361.7 465.9 L362.4 466.4 L363.1 466.8 L363.8 467.3 L364.5 467.7 L365.3 468.1 L366.0 468.5 L366.7 469.0 L367.4 469.3 L368.1 469.7 L368.8 470.1 L369.6 470.5 L370.3 470.8 L371.0 471.2 L371.7 471.5 L372.4 471.8 L373.1 472.2 L373.8 472.5 L374.6 472.8 L375.3 473.1 L376.0 473.3 L376.7 473.6 L377.4 473.9 L378.1 474.1 L378.8 474.4 L379.6 474.6 L380.3 474.9 L381.0 475.1 L381.7 475.3 L382.4 475.6 L383.1 475.8 L383.8 476.0 L384.6 476.2 L385.3 476.4 L386.0 476.6 L386.7 476.8 L387.4 476.9 L388.1 477.1 L388.9 477.3 L389.6 477.5 L390.3 477.6 L391.0 477.8 L391.7 477.9 L392.4 478.1 L393.1 478.2 L393.9 478.4 L394.6 478.5 L395.3 478.6 L396.0 478.8 L396.7 478.9 L397.4 479.0 L398.1 479.2 L398.9 479.3 L399.6 479.4 L400.3 479.5 L401.0 479.6 L401.7 479.8 L402.4 479.9 L403.2 480.0 L403.9 480.1 L404.6 480.2 L405.3 480.3 L406.0 480.4 L406.7 480.5 L407.4 480.6 L408.2 480.6 L408.9 480.7 L409.6 480.8 L410.3 480.9 L411.0 481.0 L411.7 481.1 L412.4 481.1 L413.2 481.2 L413.9 481.3 L414.6 481.3 L415.3 481.4 L416.0 481.5 L416.7 481.5 L417.5 481.6 L418.2 481.6 L418.9 481.7 L419.6 481.7 L420.3 481.8 L421.0 481.8 L421.7 481.9 L422.5 481.9 L423.2 482.0 L423.9 482.0 L424.6 482.1 L425.3 482.1 L426.0 482.2 L426.8 482.2 L427.5 482.3 L428.2 482.3 L428.9 482.3 L429.6 482.4 L430.3 482.4 L431.0 482.5 L431.8 482.5 L432.5 482.5 L433.2 482.6 L433.9 482.6 L434.6 482.6 L435.3 482.7 L436.0 482.7 L436.8 482.7 L437.5 482.8 L438.2 482.8 L438.9 482.8 L439.6 482.9 L440.3 482.9 L441.1 482.9 L441.8 482.9 L442.5 483.0 L443.2 483.0 L443.9 483.0 L444.6 483.1 L445.3 483.1 L446.1 483.1 L446.8 483.1 L447.5 483.1 L448.2 483.2 L448.9 483.2 L449.6 483.2 L450.3 483.2 L451.1 483.3 L451.8 483.3 L452.5 483.3 L453.2 483.3 L453.9 483.3 L454.6 483.3 L455.3 483.4 L456.1 483.4 L456.8 483.4 L457.5 483.4 L458.2 483.4 L458.9 483.4 L459.6 483.4 L460.4 483.5 L461.1 483.5 L461.8 483.5 L462.5 483.5 L463.2 483.5 L463.9 483.5 L464.6 483.5 L465.4 483.5 L466.1 483.5 L466.8 483.6 L467.5 483.6 L468.2 483.6 L468.9 483.6 L469.6 483.6 L470.4 483.6 L471.1 483.6 L471.8 483.6 L472.5 483.6 L473.2 483.7 L473.9 483.7 L474.7 483.7 L475.4 483.7 L476.1 483.7 L476.8 483.7 L477.5 483.7 L478.2 483.7 L478.9 483.7 L479.7 483.7 L480.4 483.7 L481.1 483.8 L481.8 483.8 L482.5 483.8 L483.2 483.8 L483.9 483.8 L484.7 483.8 L485.4 483.8 L486.1 483.8 L486.8 483.8 L487.5 483.8 L488.2 483.8 L489.0 483.8 L489.7 483.9 L490.4 483.9 L491.1 483.9 L491.8 483.9 L492.5 483.9 L493.2 483.9 L494.0 483.9 L494.7 483.9 L495.4 483.9 L496.1 483.9 L496.8 483.9 L497.5 483.9 L498.2 483.9 L499.0 483.9 L499.7 484.0 L500.4 484.0 L501.1 484.0 L501.8 484.0 L502.5 484.0 L503.3 484.0 L504.0 484.0 L504.7 484.0 L505.4 484.0 L506.1 484.0 L506.8 484.0 L507.5 484.0 L508.3 484.0 L509.0 484.0 L509.7 484.0 L510.4 484.0 L511.1 484.0 L511.8 484.1 L512.5 484.1 L513.3 484.1 L514.0 484.1 L514.7 484.1 L515.4 484.1 L516.1 484.1 L516.8 484.1 L517.6 484.1 L518.3 484.1 L519.0 484.1 L519.7 484.1 L520.4 484.1 L521.1 484.1 L521.8 484.1 L522.6 484.1 L523.3 484.1 L524.0 484.1 L524.7 484.1 L525.4 484.1 L526.1 484.1 L526.8 484.2 L527.6 484.2 L528.3 484.2 L529.0 484.2 L529.7 484.2 L530.4 484.2 L531.1 484.2 L531.9 484.2 L532.6 484.2 L533.3 484.2 L534.0 484.2 L534.7 484.2 L535.4 484.2 L536.1 484.2 L536.9 484.2 L537.6 484.2 L538.3 484.2 L539.0 484.2 L539.7 484.2 L540.4 484.2 L541.1 484.2 L541.9 484.2 L542.6 484.2 L543.3 484.2 L544.0 484.2 L544.7 484.2 L545.4 484.2 L546.2 484.2 L546.9 484.2 L547.6 484.2 L548.3 484.2 L549.0 484.2 L549.7 484.2 L550.4 484.2 L551.2 484.2 L551.9 484.2 L552.6 484.2 L553.3 484.2 L554.0 484.2 L554.7 484.2 L555.5 484.2 L556.2 484.2 L556.9 484.2 L557.6 484.2 L558.3 484.2 L559.0 484.2 L559.7 484.2 L560.5 484.2 L561.2 484.2 L561.9 484.2" stroke="#8ed070" stroke-width="2.6" fill="none" stroke-linejoin="round"/>
<path d="M105.0 485.0 L105.7 485.0 L106.4 485.0 L107.1 485.0 L107.9 485.0 L108.6 485.0 L109.3 485.0 L110.0 485.0 L110.7 485.0 L111.4 485.0 L112.2 485.0 L112.9 485.0 L113.6 485.0 L114.3 485.0 L115.0 485.0 L115.7 485.0 L116.4 485.0 L117.2 485.0 L117.9 485.0 L118.6 485.0 L119.3 485.0 L120.0 485.0 L120.7 485.0 L121.4 485.0 L122.2 485.0 L122.9 485.0 L123.6 485.0 L124.3 485.0 L125.0 485.0 L125.7 485.0 L126.5 485.0 L127.2 485.0 L127.9 485.0 L128.6 485.0 L129.3 485.0 L130.0 485.0 L130.7 485.0 L131.5 485.0 L132.2 485.0 L132.9 485.0 L133.6 485.0 L134.3 485.0 L135.0 485.0 L135.7 485.0 L136.5 485.0 L137.2 485.0 L137.9 485.0 L138.6 485.0 L139.3 485.0 L140.0 485.0 L140.8 485.0 L141.5 485.0 L142.2 485.0 L142.9 485.0 L143.6 485.0 L144.3 485.0 L145.0 485.0 L145.8 485.0 L146.5 485.0 L147.2 485.0 L147.9 485.0 L148.6 485.0 L149.3 485.0 L150.0 485.0 L150.8 485.0 L151.5 485.0 L152.2 485.0 L152.9 485.0 L153.6 485.0 L154.3 485.0 L155.1 485.0 L155.8 485.0 L156.5 485.0 L157.2 485.0 L157.9 485.0 L158.6 485.0 L159.3 485.0 L160.1 485.0 L160.8 485.0 L161.5 485.0 L162.2 485.0 L162.9 485.0 L163.6 485.0 L164.3 485.0 L165.1 485.0 L165.8 485.0 L166.5 485.0 L167.2 485.0 L167.9 485.0 L168.6 485.0 L169.3 485.0 L170.1 485.0 L170.8 485.0 L171.5 485.0 L172.2 485.0 L172.9 485.0 L173.6 485.0 L174.4 485.0 L175.1 485.0 L175.8 485.0 L176.5 485.0 L177.2 485.0 L177.9 485.0 L178.6 485.0 L179.4 485.0 L180.1 485.0 L180.8 485.0 L181.5 485.0 L182.2 485.0 L182.9 485.0 L183.6 485.0 L184.4 485.0 L185.1 485.0 L185.8 485.0 L186.5 485.0 L187.2 485.0 L187.9 485.0 L188.7 485.0 L189.4 485.0 L190.1 485.0 L190.8 485.0 L191.5 485.0 L192.2 485.0 L192.9 485.0 L193.7 485.0 L194.4 485.0 L195.1 485.0 L195.8 485.0 L196.5 485.0 L197.2 485.0 L197.9 485.0 L198.7 485.0 L199.4 485.0 L200.1 485.0 L200.8 485.0 L201.5 485.0 L202.2 485.0 L203.0 485.0 L203.7 485.0 L204.4 485.0 L205.1 485.0 L205.8 485.0 L206.5 485.0 L207.2 485.0 L208.0 485.0 L208.7 485.0 L209.4 485.0 L210.1 485.0 L210.8 485.0 L211.5 485.0 L212.2 485.0 L213.0 485.0 L213.7 485.0 L214.4 485.0 L215.1 485.0 L215.8 485.0 L216.5 485.0 L217.3 485.0 L218.0 485.0 L218.7 485.0 L219.4 485.0 L220.1 485.0 L220.8 485.0 L221.5 485.0 L222.3 485.0 L223.0 485.0 L223.7 485.0 L224.4 485.0 L225.1 485.0 L225.8 485.0 L226.6 485.0 L227.3 485.0 L228.0 485.0 L228.7 485.0 L229.4 485.0 L230.1 485.0 L230.8 485.0 L231.6 485.0 L232.3 485.0 L233.0 485.0 L233.7 485.0 L234.4 485.0 L235.1 485.0 L235.8 485.0 L236.6 485.0 L237.3 485.0 L238.0 485.0 L238.7 485.0 L239.4 485.0 L240.1 485.0 L240.8 485.0 L241.6 485.0 L242.3 485.0 L243.0 485.0 L243.7 485.0 L244.4 485.0 L245.1 485.0 L245.9 485.0 L246.6 485.0 L247.3 485.0 L248.0 485.0 L248.7 485.0 L249.4 485.0 L250.1 485.0 L250.9 485.0 L251.6 485.0 L252.3 485.0 L253.0 485.0 L253.7 485.0 L254.4 485.0 L255.2 485.0 L255.9 485.0 L256.6 485.0 L257.3 485.0 L258.0 485.0 L258.7 485.0 L259.4 485.0 L260.2 485.0 L260.9 485.0 L261.6 485.0 L262.3 485.0 L263.0 485.0 L263.7 485.0 L264.4 485.0 L265.2 485.0 L265.9 485.0 L266.6 485.0 L267.3 485.0 L268.0 485.0 L268.7 485.0 L269.4 485.0 L270.2 485.0 L270.9 485.0 L271.6 485.0 L272.3 485.0 L273.0 485.0 L273.7 485.0 L274.5 485.0 L275.2 485.0 L275.9 485.0 L276.6 485.0 L277.3 485.0 L278.0 484.9 L278.7 484.9 L279.5 484.9 L280.2 484.9 L280.9 484.9 L281.6 484.9 L282.3 484.9 L283.0 484.9 L283.8 484.9 L284.5 484.9 L285.2 484.9 L285.9 484.9 L286.6 484.9 L287.3 484.9 L288.0 484.9 L288.8 484.9 L289.5 484.9 L290.2 484.9 L290.9 484.9 L291.6 484.9 L292.3 484.9 L293.0 484.9 L293.8 484.9 L294.5 484.9 L295.2 484.9 L295.9 484.9 L296.6 484.9 L297.3 484.9 L298.0 484.9 L298.8 484.8 L299.5 484.8 L300.2 484.8 L300.9 484.8 L301.6 484.8 L302.3 484.8 L303.1 484.8 L303.8 484.8 L304.5 484.8 L305.2 484.8 L305.9 484.8 L306.6 484.8 L307.3 484.8 L308.1 484.8 L308.8 484.8 L309.5 484.8 L310.2 484.8 L310.9 484.8 L311.6 484.7 L312.4 484.7 L313.1 484.7 L313.8 484.7 L314.5 484.7 L315.2 484.7 L315.9 484.7 L316.6 484.7 L317.4 484.7 L318.1 484.7 L318.8 484.7 L319.5 484.7 L320.2 484.7 L320.9 484.7 L321.6 484.7 L322.4 484.6 L323.1 484.6 L323.8 484.6 L324.5 484.6 L325.2 484.6 L325.9 484.6 L326.6 484.6 L327.4 484.6 L328.1 484.6 L328.8 484.6 L329.5 484.6 L330.2 484.5 L330.9 484.5 L331.7 484.5 L332.4 484.5 L333.1 484.5 L333.8 484.5 L334.5 484.5 L335.2 484.5 L335.9 484.5 L336.7 484.4 L337.4 484.4 L338.1 484.4 L338.8 484.4 L339.5 484.4 L340.2 484.4 L340.9 484.3 L341.7 484.3 L342.4 484.3 L343.1 484.3 L343.8 484.3 L344.5 484.2 L345.2 484.2 L346.0 484.2 L346.7 484.1 L347.4 484.1 L348.1 484.1 L348.8 484.0 L349.5 484.0 L350.2 484.0 L351.0 483.9 L351.7 483.9 L352.4 483.9 L353.1 483.8 L353.8 483.8 L354.5 483.7 L355.2 483.7 L356.0 483.6 L356.7 483.5 L357.4 483.5 L358.1 483.4 L358.8 483.4 L359.5 483.3 L360.3 483.2 L361.0 483.2 L361.7 483.1 L362.4 483.0 L363.1 482.9 L363.8 482.8 L364.5 482.7 L365.3 482.6 L366.0 482.5 L366.7 482.3 L367.4 482.2 L368.1 482.0 L368.8 481.8 L369.6 481.6 L370.3 481.4 L371.0 481.2 L371.7 481.0 L372.4 480.7 L373.1 480.4 L373.8 480.1 L374.6 479.8 L375.3 479.5 L376.0 479.1 L376.7 478.7 L377.4 478.3 L378.1 477.8 L378.8 477.3 L379.6 476.7 L380.3 476.1 L381.0 475.4 L381.7 474.6 L382.4 473.8 L383.1 472.8 L383.8 471.8 L384.6 470.7 L385.3 469.4 L386.0 467.9 L386.7 466.2 L387.4 464.3 L388.1 462.2 L388.9 460.1 L389.6 457.9 L390.3 455.6 L391.0 453.2 L391.7 450.6 L392.4 447.9 L393.1 445.0 L393.9 441.8 L394.6 438.3 L395.3 434.7 L396.0 430.9 L396.7 427.1 L397.4 423.3 L398.1 419.4 L398.9 415.3 L399.6 411.0 L400.3 406.6 L401.0 402.0 L401.7 397.3 L402.4 392.5 L403.2 387.5 L403.9 382.4 L404.6 377.1 L405.3 371.8 L406.0 366.3 L406.7 360.7 L407.4 355.1 L408.2 349.1 L408.9 342.9 L409.6 336.5 L410.3 329.9 L411.0 323.1 L411.7 316.2 L412.4 309.3 L413.2 302.5 L413.9 295.8 L414.6 289.3 L415.3 283.1 L416.0 277.3 L416.7 272.0 L417.5 267.2 L418.2 262.2 L418.9 257.2 L419.6 252.2 L420.3 247.6 L421.0 243.4 L421.7 239.8 L422.5 237.1 L423.2 235.4 L423.9 235.0 L424.6 235.5 L425.3 236.7 L426.0 238.5 L426.8 240.8 L427.5 243.5 L428.2 246.6 L428.9 249.9 L429.6 253.4 L430.3 257.1 L431.0 260.8 L431.8 264.4 L432.5 268.0 L433.2 271.5 L433.9 275.1 L434.6 279.0 L435.3 283.1 L436.0 287.4 L436.8 291.8 L437.5 296.4 L438.2 301.0 L438.9 305.7 L439.6 310.5 L440.3 315.2 L441.1 320.0 L441.8 324.7 L442.5 329.4 L443.2 334.1 L443.9 338.7 L444.6 343.2 L445.3 347.6 L446.1 351.9 L446.8 356.0 L447.5 360.1 L448.2 364.2 L448.9 368.3 L449.6 372.5 L450.3 376.6 L451.1 380.6 L451.8 384.6 L452.5 388.6 L453.2 392.4 L453.9 396.2 L454.6 399.8 L455.3 403.4 L456.1 406.8 L456.8 410.1 L457.5 413.3 L458.2 416.3 L458.9 419.2 L459.6 422.0 L460.4 424.6 L461.1 427.1 L461.8 429.6 L462.5 432.0 L463.2 434.4 L463.9 436.7 L464.6 438.8 L465.4 440.9 L466.1 442.8 L466.8 444.7 L467.5 446.4 L468.2 447.9 L468.9 449.4 L469.6 450.8 L470.4 452.1 L471.1 453.4 L471.8 454.5 L472.5 455.7 L473.2 456.7 L473.9 457.7 L474.7 458.7 L475.4 459.5 L476.1 460.4 L476.8 461.2 L477.5 462.0 L478.2 462.7 L478.9 463.4 L479.7 464.1 L480.4 464.7 L481.1 465.3 L481.8 465.9 L482.5 466.5 L483.2 467.0 L483.9 467.5 L484.7 468.1 L485.4 468.5 L486.1 469.0 L486.8 469.5 L487.5 469.9 L488.2 470.3 L489.0 470.7 L489.7 471.1 L490.4 471.5 L491.1 471.9 L491.8 472.2 L492.5 472.6 L493.2 472.9 L494.0 473.2 L494.7 473.5 L495.4 473.8 L496.1 474.1 L496.8 474.4 L497.5 474.7 L498.2 474.9 L499.0 475.2 L499.7 475.5 L500.4 475.7 L501.1 475.9 L501.8 476.2 L502.5 476.4 L503.3 476.6 L504.0 476.8 L504.7 477.0 L505.4 477.2 L506.1 477.4 L506.8 477.6 L507.5 477.8 L508.3 478.0 L509.0 478.1 L509.7 478.3 L510.4 478.4 L511.1 478.6 L511.8 478.8 L512.5 478.9 L513.3 479.0 L514.0 479.2 L514.7 479.3 L515.4 479.5 L516.1 479.6 L516.8 479.7 L517.6 479.8 L518.3 480.0 L519.0 480.1 L519.7 480.2 L520.4 480.3 L521.1 480.4 L521.8 480.5 L522.6 480.6 L523.3 480.7 L524.0 480.8 L524.7 480.9 L525.4 481.0 L526.1 481.1 L526.8 481.2 L527.6 481.3 L528.3 481.4 L529.0 481.5 L529.7 481.6 L530.4 481.6 L531.1 481.7 L531.9 481.8 L532.6 481.9 L533.3 481.9 L534.0 482.0 L534.7 482.1 L535.4 482.1 L536.1 482.2 L536.9 482.3 L537.6 482.3 L538.3 482.4 L539.0 482.4 L539.7 482.5 L540.4 482.5 L541.1 482.6 L541.9 482.6 L542.6 482.7 L543.3 482.7 L544.0 482.8 L544.7 482.8 L545.4 482.8 L546.2 482.9 L546.9 482.9 L547.6 483.0 L548.3 483.0 L549.0 483.0 L549.7 483.1 L550.4 483.1 L551.2 483.1 L551.9 483.2 L552.6 483.2 L553.3 483.2 L554.0 483.2 L554.7 483.3 L555.5 483.3 L556.2 483.3 L556.9 483.3 L557.6 483.4 L558.3 483.4 L559.0 483.4 L559.7 483.4 L560.5 483.4 L561.2 483.5 L561.9 483.5" stroke="#505070" stroke-opacity="0.35" stroke-width="4" fill="none" stroke-linejoin="round"/>
<path d="M105.0 485.0 L105.7 485.0 L106.4 485.0 L107.1 485.0 L107.9 485.0 L108.6 485.0 L109.3 485.0 L110.0 485.0 L110.7 485.0 L111.4 485.0 L112.2 485.0 L112.9 485.0 L113.6 485.0 L114.3 485.0 L115.0 485.0 L115.7 485.0 L116.4 485.0 L117.2 485.0 L117.9 485.0 L118.6 485.0 L119.3 485.0 L120.0 485.0 L120.7 485.0 L121.4 485.0 L122.2 485.0 L122.9 485.0 L123.6 485.0 L124.3 485.0 L125.0 485.0 L125.7 485.0 L126.5 485.0 L127.2 485.0 L127.9 485.0 L128.6 485.0 L129.3 485.0 L130.0 485.0 L130.7 485.0 L131.5 485.0 L132.2 485.0 L132.9 485.0 L133.6 485.0 L134.3 485.0 L135.0 485.0 L135.7 485.0 L136.5 485.0 L137.2 485.0 L137.9 485.0 L138.6 485.0 L139.3 485.0 L140.0 485.0 L140.8 485.0 L141.5 485.0 L142.2 485.0 L142.9 485.0 L143.6 485.0 L144.3 485.0 L145.0 485.0 L145.8 485.0 L146.5 485.0 L147.2 485.0 L147.9 485.0 L148.6 485.0 L149.3 485.0 L150.0 485.0 L150.8 485.0 L151.5 485.0 L152.2 485.0 L152.9 485.0 L153.6 485.0 L154.3 485.0 L155.1 485.0 L155.8 485.0 L156.5 485.0 L157.2 485.0 L157.9 485.0 L158.6 485.0 L159.3 485.0 L160.1 485.0 L160.8 485.0 L161.5 485.0 L162.2 485.0 L162.9 485.0 L163.6 485.0 L164.3 485.0 L165.1 485.0 L165.8 485.0 L166.5 485.0 L167.2 485.0 L167.9 485.0 L168.6 485.0 L169.3 485.0 L170.1 485.0 L170.8 485.0 L171.5 485.0 L172.2 485.0 L172.9 485.0 L173.6 485.0 L174.4 485.0 L175.1 485.0 L175.8 485.0 L176.5 485.0 L177.2 485.0 L177.9 485.0 L178.6 485.0 L179.4 485.0 L180.1 485.0 L180.8 485.0 L181.5 485.0 L182.2 485.0 L182.9 485.0 L183.6 485.0 L184.4 485.0 L185.1 485.0 L185.8 485.0 L186.5 485.0 L187.2 485.0 L187.9 485.0 L188.7 485.0 L189.4 485.0 L190.1 485.0 L190.8 485.0 L191.5 485.0 L192.2 485.0 L192.9 485.0 L193.7 485.0 L194.4 485.0 L195.1 485.0 L195.8 485.0 L196.5 485.0 L197.2 485.0 L197.9 485.0 L198.7 485.0 L199.4 485.0 L200.1 485.0 L200.8 485.0 L201.5 485.0 L202.2 485.0 L203.0 485.0 L203.7 485.0 L204.4 485.0 L205.1 485.0 L205.8 485.0 L206.5 485.0 L207.2 485.0 L208.0 485.0 L208.7 485.0 L209.4 485.0 L210.1 485.0 L210.8 485.0 L211.5 485.0 L212.2 485.0 L213.0 485.0 L213.7 485.0 L214.4 485.0 L215.1 485.0 L215.8 485.0 L216.5 485.0 L217.3 485.0 L218.0 485.0 L218.7 485.0 L219.4 485.0 L220.1 485.0 L220.8 485.0 L221.5 485.0 L222.3 485.0 L223.0 485.0 L223.7 485.0 L224.4 485.0 L225.1 485.0 L225.8 485.0 L226.6 485.0 L227.3 485.0 L228.0 485.0 L228.7 485.0 L229.4 485.0 L230.1 485.0 L230.8 485.0 L231.6 485.0 L232.3 485.0 L233.0 485.0 L233.7 485.0 L234.4 485.0 L235.1 485.0 L235.8 485.0 L236.6 485.0 L237.3 485.0 L238.0 485.0 L238.7 485.0 L239.4 485.0 L240.1 485.0 L240.8 485.0 L241.6 485.0 L242.3 485.0 L243.0 485.0 L243.7 485.0 L244.4 485.0 L245.1 485.0 L245.9 485.0 L246.6 485.0 L247.3 485.0 L248.0 485.0 L248.7 485.0 L249.4 485.0 L250.1 485.0 L250.9 485.0 L251.6 485.0 L252.3 485.0 L253.0 485.0 L253.7 485.0 L254.4 485.0 L255.2 485.0 L255.9 485.0 L256.6 485.0 L257.3 485.0 L258.0 485.0 L258.7 485.0 L259.4 485.0 L260.2 485.0 L260.9 485.0 L261.6 485.0 L262.3 485.0 L263.0 485.0 L263.7 485.0 L264.4 485.0 L265.2 485.0 L265.9 485.0 L266.6 485.0 L267.3 485.0 L268.0 485.0 L268.7 485.0 L269.4 485.0 L270.2 485.0 L270.9 485.0 L271.6 485.0 L272.3 485.0 L273.0 485.0 L273.7 485.0 L274.5 485.0 L275.2 485.0 L275.9 485.0 L276.6 485.0 L277.3 485.0 L278.0 484.9 L278.7 484.9 L279.5 484.9 L280.2 484.9 L280.9 484.9 L281.6 484.9 L282.3 484.9 L283.0 484.9 L283.8 484.9 L284.5 484.9 L285.2 484.9 L285.9 484.9 L286.6 484.9 L287.3 484.9 L288.0 484.9 L288.8 484.9 L289.5 484.9 L290.2 484.9 L290.9 484.9 L291.6 484.9 L292.3 484.9 L293.0 484.9 L293.8 484.9 L294.5 484.9 L295.2 484.9 L295.9 484.9 L296.6 484.9 L297.3 484.9 L298.0 484.9 L298.8 484.8 L299.5 484.8 L300.2 484.8 L300.9 484.8 L301.6 484.8 L302.3 484.8 L303.1 484.8 L303.8 484.8 L304.5 484.8 L305.2 484.8 L305.9 484.8 L306.6 484.8 L307.3 484.8 L308.1 484.8 L308.8 484.8 L309.5 484.8 L310.2 484.8 L310.9 484.8 L311.6 484.7 L312.4 484.7 L313.1 484.7 L313.8 484.7 L314.5 484.7 L315.2 484.7 L315.9 484.7 L316.6 484.7 L317.4 484.7 L318.1 484.7 L318.8 484.7 L319.5 484.7 L320.2 484.7 L320.9 484.7 L321.6 484.7 L322.4 484.6 L323.1 484.6 L323.8 484.6 L324.5 484.6 L325.2 484.6 L325.9 484.6 L326.6 484.6 L327.4 484.6 L328.1 484.6 L328.8 484.6 L329.5 484.6 L330.2 484.5 L330.9 484.5 L331.7 484.5 L332.4 484.5 L333.1 484.5 L333.8 484.5 L334.5 484.5 L335.2 484.5 L335.9 484.5 L336.7 484.4 L337.4 484.4 L338.1 484.4 L338.8 484.4 L339.5 484.4 L340.2 484.4 L340.9 484.3 L341.7 484.3 L342.4 484.3 L343.1 484.3 L343.8 484.3 L344.5 484.2 L345.2 484.2 L346.0 484.2 L346.7 484.1 L347.4 484.1 L348.1 484.1 L348.8 484.0 L349.5 484.0 L350.2 484.0 L351.0 483.9 L351.7 483.9 L352.4 483.9 L353.1 483.8 L353.8 483.8 L354.5 483.7 L355.2 483.7 L356.0 483.6 L356.7 483.5 L357.4 483.5 L358.1 483.4 L358.8 483.4 L359.5 483.3 L360.3 483.2 L361.0 483.2 L361.7 483.1 L362.4 483.0 L363.1 482.9 L363.8 482.8 L364.5 482.7 L365.3 482.6 L366.0 482.5 L366.7 482.3 L367.4 482.2 L368.1 482.0 L368.8 481.8 L369.6 481.6 L370.3 481.4 L371.0 481.2 L371.7 481.0 L372.4 480.7 L373.1 480.4 L373.8 480.1 L374.6 479.8 L375.3 479.5 L376.0 479.1 L376.7 478.7 L377.4 478.3 L378.1 477.8 L378.8 477.3 L379.6 476.7 L380.3 476.1 L381.0 475.4 L381.7 474.6 L382.4 473.8 L383.1 472.8 L383.8 471.8 L384.6 470.7 L385.3 469.4 L386.0 467.9 L386.7 466.2 L387.4 464.3 L388.1 462.2 L388.9 460.1 L389.6 457.9 L390.3 455.6 L391.0 453.2 L391.7 450.6 L392.4 447.9 L393.1 445.0 L393.9 441.8 L394.6 438.3 L395.3 434.7 L396.0 430.9 L396.7 427.1 L397.4 423.3 L398.1 419.4 L398.9 415.3 L399.6 411.0 L400.3 406.6 L401.0 402.0 L401.7 397.3 L402.4 392.5 L403.2 387.5 L403.9 382.4 L404.6 377.1 L405.3 371.8 L406.0 366.3 L406.7 360.7 L407.4 355.1 L408.2 349.1 L408.9 342.9 L409.6 336.5 L410.3 329.9 L411.0 323.1 L411.7 316.2 L412.4 309.3 L413.2 302.5 L413.9 295.8 L414.6 289.3 L415.3 283.1 L416.0 277.3 L416.7 272.0 L417.5 267.2 L418.2 262.2 L418.9 257.2 L419.6 252.2 L420.3 247.6 L421.0 243.4 L421.7 239.8 L422.5 237.1 L423.2 235.4 L423.9 235.0 L424.6 235.5 L425.3 236.7 L426.0 238.5 L426.8 240.8 L427.5 243.5 L428.2 246.6 L428.9 249.9 L429.6 253.4 L430.3 257.1 L431.0 260.8 L431.8 264.4 L432.5 268.0 L433.2 271.5 L433.9 275.1 L434.6 279.0 L435.3 283.1 L436.0 287.4 L436.8 291.8 L437.5 296.4 L438.2 301.0 L438.9 305.7 L439.6 310.5 L440.3 315.2 L441.1 320.0 L441.8 324.7 L442.5 329.4 L443.2 334.1 L443.9 338.7 L444.6 343.2 L445.3 347.6 L446.1 351.9 L446.8 356.0 L447.5 360.1 L448.2 364.2 L448.9 368.3 L449.6 372.5 L450.3 376.6 L451.1 380.6 L451.8 384.6 L452.5 388.6 L453.2 392.4 L453.9 396.2 L454.6 399.8 L455.3 403.4 L456.1 406.8 L456.8 410.1 L457.5 413.3 L458.2 416.3 L458.9 419.2 L459.6 422.0 L460.4 424.6 L461.1 427.1 L461.8 429.6 L462.5 432.0 L463.2 434.4 L463.9 436.7 L464.6 438.8 L465.4 440.9 L466.1 442.8 L466.8 444.7 L467.5 446.4 L468.2 447.9 L468.9 449.4 L469.6 450.8 L470.4 452.1 L471.1 453.4 L471.8 454.5 L472.5 455.7 L473.2 456.7 L473.9 457.7 L474.7 458.7 L475.4 459.5 L476.1 460.4 L476.8 461.2 L477.5 462.0 L478.2 462.7 L478.9 463.4 L479.7 464.1 L480.4 464.7 L481.1 465.3 L481.8 465.9 L482.5 466.5 L483.2 467.0 L483.9 467.5 L484.7 468.1 L485.4 468.5 L486.1 469.0 L486.8 469.5 L487.5 469.9 L488.2 470.3 L489.0 470.7 L489.7 471.1 L490.4 471.5 L491.1 471.9 L491.8 472.2 L492.5 472.6 L493.2 472.9 L494.0 473.2 L494.7 473.5 L495.4 473.8 L496.1 474.1 L496.8 474.4 L497.5 474.7 L498.2 474.9 L499.0 475.2 L499.7 475.5 L500.4 475.7 L501.1 475.9 L501.8 476.2 L502.5 476.4 L503.3 476.6 L504.0 476.8 L504.7 477.0 L505.4 477.2 L506.1 477.4 L506.8 477.6 L507.5 477.8 L508.3 478.0 L509.0 478.1 L509.7 478.3 L510.4 478.4 L511.1 478.6 L511.8 478.8 L512.5 478.9 L513.3 479.0 L514.0 479.2 L514.7 479.3 L515.4 479.5 L516.1 479.6 L516.8 479.7 L517.6 479.8 L518.3 480.0 L519.0 480.1 L519.7 480.2 L520.4 480.3 L521.1 480.4 L521.8 480.5 L522.6 480.6 L523.3 480.7 L524.0 480.8 L524.7 480.9 L525.4 481.0 L526.1 481.1 L526.8 481.2 L527.6 481.3 L528.3 481.4 L529.0 481.5 L529.7 481.6 L530.4 481.6 L531.1 481.7 L531.9 481.8 L532.6 481.9 L533.3 481.9 L534.0 482.0 L534.7 482.1 L535.4 482.1 L536.1 482.2 L536.9 482.3 L537.6 482.3 L538.3 482.4 L539.0 482.4 L539.7 482.5 L540.4 482.5 L541.1 482.6 L541.9 482.6 L542.6 482.7 L543.3 482.7 L544.0 482.8 L544.7 482.8 L545.4 482.8 L546.2 482.9 L546.9 482.9 L547.6 483.0 L548.3 483.0 L549.0 483.0 L549.7 483.1 L550.4 483.1 L551.2 483.1 L551.9 483.2 L552.6 483.2 L553.3 483.2 L554.0 483.2 L554.7 483.3 L555.5 483.3 L556.2 483.3 L556.9 483.3 L557.6 483.4 L558.3 483.4 L559.0 483.4 L559.7 483.4 L560.5 483.4 L561.2 483.5 L561.9 483.5" stroke="#e2547a" stroke-width="2.6" fill="none" stroke-linejoin="round"/>
<text x="49.38" y="117.60" font-size="25.00" textLength="29.98" lengthAdjust="spacingAndGlyphs" fill="#707070" font-family="'Liberation Sans',sans-serif" font-weight="normal" >1.5</text>
<text x="49.39" y="242.40" font-size="24.65" textLength="29.87" lengthAdjust="spacingAndGlyphs" fill="#707070" font-family="'Liberation Sans',sans-serif" font-weight="normal" >1.0</text>
<text x="41.92" y="367.20" font-size="24.65" textLength="37.67" lengthAdjust="spacingAndGlyphs" fill="#707070" font-family="'Liberation Sans',sans-serif" font-weight="normal" >0.5</text>
<text x="41.92" y="492.00" font-size="24.65" textLength="37.53" lengthAdjust="spacingAndGlyphs" fill="#707070" font-family="'Liberation Sans',sans-serif" font-weight="normal" >0.0</text>
<text x="80.47" y="535.72" font-size="28.17" textLength="48.71" lengthAdjust="spacingAndGlyphs" fill="#707070" font-family="'Liberation Sans',sans-serif" font-weight="normal" >400</text>
<text x="148.92" y="535.72" font-size="28.17" textLength="48.71" lengthAdjust="spacingAndGlyphs" fill="#707070" font-family="'Liberation Sans',sans-serif" font-weight="normal" >450</text>
<text x="220.47" y="535.72" font-size="28.17" textLength="49.32" lengthAdjust="spacingAndGlyphs" fill="#707070" font-family="'Liberation Sans',sans-serif" font-weight="normal" >500</text>
<text x="291.77" y="535.72" font-size="28.17" textLength="49.32" lengthAdjust="spacingAndGlyphs" fill="#707070" font-family="'Liberation Sans',sans-serif" font-weight="normal" >550</text>
<text x="363.01" y="535.72" font-size="28.17" textLength="49.63" lengthAdjust="spacingAndGlyphs" fill="#707070" font-family="'Liberation Sans',sans-serif" font-weight="normal" >600</text>
<text x="434.86" y="535.72" font-size="28.17" textLength="49.63" lengthAdjust="spacingAndGlyphs" fill="#707070" font-family="'Liberation Sans',sans-serif" font-weight="normal" >650</text>
<text x="506.76" y="535.72" font-size="28.17" textLength="49.63" lengthAdjust="spacingAndGlyphs" fill="#707070" font-family="'Liberation Sans',sans-serif" font-weight="normal" >700</text>
<text x="231.37" y="579.72" font-size="25.13" textLength="204.30" lengthAdjust="spacingAndGlyphs" fill="#707070" font-family="'Liberation Sans',sans-serif" font-weight="normal" >Wavelength (nm)</text>
<text transform="translate(21.67,505.18) rotate(-90)" x="0" y="0" font-size="22.99" textLength="429.45" lengthAdjust="spacingAndGlyphs" fill="#707070" font-family="'Liberation Sans',sans-serif" font-weight="normal" >Electroluminescence intensity (a.u.)</text>
<text x="29.41" y="49.11" font-size="38.96" textLength="18.13" lengthAdjust="spacingAndGlyphs" fill="#111" font-family="'Liberation Serif',serif" font-weight="bold" >a</text>
<defs><filter id="b2" x="-50%" y="-50%" width="200%" height="200%"><feGaussianBlur stdDeviation="2"/></filter><filter id="b4" x="-50%" y="-50%" width="200%" height="200%"><feGaussianBlur stdDeviation="4"/></filter><filter id="b8" x="-50%" y="-50%" width="200%" height="200%"><feGaussianBlur stdDeviation="8"/></filter><filter id="b1" x="-50%" y="-50%" width="200%" height="200%"><feGaussianBlur stdDeviation="1.2"/></filter><filter id="b25" x="-50%" y="-50%" width="200%" height="200%"><feGaussianBlur stdDeviation="2.6"/></filter><clipPath id="photo"><rect x="119.5" y="2" width="370.5" height="227"/></clipPath><linearGradient id="topband" x1="0" x2="1" y1="0" y2="0"><stop offset="0" stop-color="#121212"/><stop offset="0.35" stop-color="#141a16"/><stop offset="0.55" stop-color="#1c1c14"/><stop offset="0.7" stop-color="#4a1614"/><stop offset="0.9" stop-color="#5a1818"/><stop offset="1" stop-color="#4a1414"/></linearGradient><linearGradient id="botband" x1="0" x2="1" y1="0" y2="0"><stop offset="0" stop-color="#15183a"/><stop offset="0.3" stop-color="#1c2a5a"/><stop offset="0.45" stop-color="#2a3a3a"/><stop offset="0.6" stop-color="#5a3018"/><stop offset="0.68" stop-color="#b02a1c"/><stop offset="0.8" stop-color="#e02a24"/><stop offset="1" stop-color="#c82020"/></linearGradient><linearGradient id="botbg" x1="0" x2="1" y1="0" y2="0"><stop offset="0" stop-color="#10122a"/><stop offset="0.3" stop-color="#12142a"/><stop offset="0.38" stop-color="#1a1014"/><stop offset="0.55" stop-color="#141a10"/><stop offset="0.6" stop-color="#2a1410"/><stop offset="0.64" stop-color="#701818"/><stop offset="0.72" stop-color="#d02020"/><stop offset="0.9" stop-color="#d82424"/><stop offset="1" stop-color="#a01818"/></linearGradient></defs>
<g clip-path="url(#photo)">
<rect x="119.5" y="2" width="370.5" height="227" fill="#121111"/>
<linearGradient id="tb2" x1="0" x2="1" y1="0" y2="0"><stop offset="0" stop-color="#121212" stop-opacity="0"/><stop offset="0.3" stop-color="#1a2a1e" stop-opacity="0.8"/><stop offset="0.55" stop-color="#3a1c14"/><stop offset="0.75" stop-color="#5e1a1a"/><stop offset="1" stop-color="#561616"/></linearGradient>
<rect x="250" y="0" width="245" height="22" fill="url(#tb2)" filter="url(#b2)"/>
<rect x="360" y="20" width="135" height="118" fill="#281414" filter="url(#b2)"/>
<rect x="478" y="0" width="16" height="140" fill="#521616" filter="url(#b1)"/>
<line x1="358.5" y1="10" x2="358.5" y2="138" stroke="#2a1614" stroke-width="2"/>
<rect x="164.5" y="26.5" width="52" height="45" rx="12" fill="#2a2ea0" filter="url(#b8)" opacity="0.45"/>
<rect x="169.5" y="31.5" width="42" height="35" rx="9" fill="#3a3ec4" filter="url(#b25)"/>
<circle cx="184.6" cy="41.3" r="3.6" fill="#e8e8ff" filter="url(#b1)"/>
<circle cx="199.3" cy="45.9" r="3.6" fill="#e8e8ff" filter="url(#b1)"/>
<circle cx="179.4" cy="52.5" r="3.6" fill="#e8e8ff" filter="url(#b1)"/>
<circle cx="193.6" cy="57.2" r="3.6" fill="#e8e8ff" filter="url(#b1)"/>
<rect x="277.8" y="27.5" width="52" height="47" rx="12" fill="#1a8a1e" filter="url(#b8)" opacity="0.45"/>
<rect x="282.8" y="32.5" width="42" height="37" rx="9" fill="#2eb42e" filter="url(#b25)"/>
<circle cx="299.4" cy="42.2" r="4.0" fill="#d8ffd0" filter="url(#b1)"/>
<circle cx="314" cy="46.9" r="4.0" fill="#d8ffd0" filter="url(#b1)"/>
<circle cx="294.3" cy="54.4" r="4.0" fill="#d8ffd0" filter="url(#b1)"/>
<circle cx="307.4" cy="59.6" r="4.0" fill="#d8ffd0" filter="url(#b1)"/>
<rect x="387.0" y="24.0" width="62" height="54" rx="12" fill="#d01820" filter="url(#b8)" opacity="0.75"/>
<rect x="392.0" y="29.0" width="52" height="44" rx="9" fill="#ee1a26" filter="url(#b25)"/>
<circle cx="413.9" cy="42.4" r="5.2" fill="#fff4b0" filter="url(#b1)"/>
<circle cx="430.2" cy="47.8" r="5.2" fill="#fff4b0" filter="url(#b1)"/>
<circle cx="406.6" cy="55.1" r="5.2" fill="#fff4b0" filter="url(#b1)"/>
<circle cx="423.6" cy="60.5" r="5.2" fill="#fff4b0" filter="url(#b1)"/>
<circle cx="413.9" cy="42.4" r="3.2" fill="#fffce0" filter="url(#b1)"/>
<circle cx="430.2" cy="47.8" r="3.2" fill="#fffce0" filter="url(#b1)"/>
<circle cx="406.6" cy="55.1" r="3.2" fill="#fffce0" filter="url(#b1)"/>
<circle cx="423.6" cy="60.5" r="3.2" fill="#fffce0" filter="url(#b1)"/>
<rect x="178" y="75" width="28" height="2.5" fill="#221e58" filter="url(#b1)"/>
<rect x="289" y="76" width="30" height="2.5" fill="#1a4a28" filter="url(#b1)"/>
<rect x="392" y="76" width="50" height="4" fill="#d02030" filter="url(#b1)"/>
<circle cx="272.8" cy="96.6" r="2.6" fill="#303a2c" filter="url(#b1)"/>
<circle cx="286.8" cy="101.3" r="2.6" fill="#303a2c" filter="url(#b1)"/>
<circle cx="267.1" cy="107.8" r="2.6" fill="#303a2c" filter="url(#b1)"/>
<circle cx="280.3" cy="112.5" r="2.6" fill="#303a2c" filter="url(#b1)"/>
<rect x="119.5" y="141" width="370.5" height="88" fill="url(#botbg)"/>
<rect x="119.5" y="141" width="370.5" height="18" fill="url(#botband)" filter="url(#b4)" opacity="0.8"/>
<ellipse cx="191" cy="197" rx="30" ry="38" fill="#4650c8" filter="url(#b4)"/>
<ellipse cx="302" cy="196" rx="30" ry="37" fill="#30bc2a" filter="url(#b4)"/>
<ellipse cx="303" cy="202" rx="9" ry="20" fill="#70c8b0" filter="url(#b4)"/>
<ellipse cx="414" cy="196" rx="48" ry="52" fill="#ec2626" filter="url(#b8)"/>
<ellipse cx="412" cy="202" rx="20" ry="27" fill="#f08a18" filter="url(#b2)"/>
<ellipse cx="412" cy="203" rx="16" ry="23" fill="#f0e418" filter="url(#b2)"/>
<rect x="119.5" y="137.5" width="370.5" height="4" fill="#0e0e0e" filter="url(#b1)"/>
</g>
<path d="M143.0 643.3V1111M170.5 643.3V1111M198.0 643.3V1111M225.5 643.3V1111M253.0 643.3V1111M280.5 643.3V1111M308.0 643.3V1111M335.5 643.3V1111M363.0 643.3V1111M390.6 643.3V1111M418.1 643.3V1111M445.6 643.3V1111M473.1 643.3V1111M500.6 643.3V1111M528.1 643.3V1111M115.5 1085.0H555.6M115.5 1059.0H555.6M115.5 1033.0H555.6M115.5 1007.1H555.6M115.5 981.1H555.6M115.5 955.1H555.6M115.5 929.1H555.6M115.5 903.1H555.6M115.5 877.1H555.6M115.5 851.1H555.6M115.5 825.2H555.6M115.5 799.2H555.6M115.5 773.2H555.6M115.5 747.2H555.6M115.5 721.2H555.6M115.5 695.2H555.6M115.5 669.3H555.6" stroke="#c6c6c6" stroke-width="1.9" fill="none"/>
<defs><clipPath id="hs"><path d="M211.3 1108.4 L211.3 1108.4 L211.3 1108.4 L211.2 1108.4 L211.2 1108.4 L211.2 1108.4 L211.2 1108.4 L211.1 1108.4 L211.1 1108.5 L211.1 1108.5 L211.1 1108.5 L211.0 1108.5 L211.0 1108.5 L211.0 1108.5 L210.9 1108.5 L210.9 1108.5 L210.8 1108.5 L210.8 1108.5 L210.8 1108.5 L210.7 1108.5 L210.7 1108.5 L210.6 1108.5 L210.6 1108.5 L210.5 1108.5 L210.4 1108.5 L210.4 1108.5 L210.3 1108.5 L210.2 1108.5 L210.2 1108.5 L210.1 1108.5 L210.0 1108.5 L209.9 1108.4 L209.8 1108.3 L209.7 1108.3 L209.5 1108.2 L209.4 1108.1 L209.2 1108.0 L209.0 1107.9 L208.8 1107.7 L208.6 1107.6 L208.4 1107.4 L208.2 1107.2 L207.9 1107.0 L207.6 1106.8 L207.3 1106.5 L207.0 1106.3 L206.7 1106.0 L206.3 1105.7 L205.9 1105.3 L205.5 1105.0 L205.1 1104.6 L204.6 1104.2 L204.1 1103.8 L203.6 1103.4 L203.0 1102.9 L202.3 1102.4 L201.6 1101.8 L200.9 1101.2 L200.2 1100.6 L199.4 1099.9 L198.6 1099.2 L197.7 1098.4 L196.7 1097.6 L195.8 1096.6 L194.7 1095.6 L193.6 1094.5 L192.5 1093.3 L191.3 1091.9 L190.0 1090.3 L188.6 1088.4 L187.1 1086.2 L185.5 1083.8 L183.8 1081.0 L181.9 1077.8 L180.0 1074.3 L178.0 1070.4 L175.8 1065.9 L173.5 1060.8 L171.0 1055.2 L168.5 1049.0 L165.7 1042.0 L162.8 1034.3 L159.7 1025.9 L156.5 1016.8 L153.3 1006.7 L150.1 995.7 L146.9 983.8 L143.6 971.1 L140.5 957.7 L137.3 943.3 L134.2 928.1 L131.2 912.4 L128.4 896.5 L125.9 880.4 L123.6 863.8 L121.6 847.3 L120.0 831.2 L118.8 815.5 L118.0 800.0 L117.5 784.9 L117.6 770.7 L118.3 757.1 L119.4 744.1 L121.0 732.0 L123.1 721.1 L125.9 711.4 L129.1 702.7 L132.9 695.2 L136.9 689.0 L141.3 684.4 L146.1 681.1 L151.2 678.9 L156.4 677.7 L161.7 677.4 L167.2 678.3 L172.8 679.8 L178.3 681.6 L183.9 683.7 L189.5 686.4 L195.1 689.2 L200.6 692.2 L206.0 695.1 L211.2 698.3 L216.4 701.5 L221.6 704.8 L226.7 708.2 L231.8 711.7 L236.8 715.3 L241.8 719.0 L246.8 722.8 L251.8 726.6 L256.8 730.6 L261.7 734.6 L266.7 738.6 L271.6 742.8 L276.5 747.0 L281.4 751.2 L286.3 755.5 L291.2 759.8 L296.1 764.2 L301.0 768.6 L306.0 773.0 L310.9 777.5 L315.8 781.9 L320.7 786.4 L325.6 791.0 L330.5 795.5 L335.4 800.0 L340.3 804.6 L345.2 809.1 L350.1 813.7 L355.0 818.2 L359.8 822.7 L364.6 827.2 L369.4 831.7 L374.2 836.2 L378.9 840.7 L383.6 845.1 L388.2 849.5 L392.9 853.8 L397.4 858.1 L401.9 862.4 L406.4 866.6 L410.8 870.8 L415.2 874.8 L419.5 878.9 L423.7 882.8 L427.9 886.7 L431.9 890.5 L435.9 894.3 L439.8 897.9 L443.5 901.5 L447.2 904.9 L450.6 908.2 L454.0 911.4 L457.3 914.4 L460.4 917.4 L463.5 920.3 L466.5 923.1 L469.3 925.8 L472.1 928.4 L474.7 930.8 L477.2 933.1 L479.5 935.3 L481.8 937.4 L483.9 939.4 L485.9 941.3 L487.8 943.1 L489.6 944.9 L491.3 946.5 L492.9 948.0 L494.5 949.4 L495.9 950.8 L497.3 952.1 L498.5 953.2 L499.7 954.4 L500.9 955.5 L502.0 956.5 L503.0 957.4 L504.0 958.4 L504.9 959.2 L505.8 960.1 L506.7 960.9 L507.5 961.7 L508.3 962.4 L509.0 963.1 L509.7 963.8 L510.4 964.4 L511.0 965.0 L511.6 965.6 L512.2 966.1 L512.7 966.6 L513.2 967.0 L513.7 967.5 L514.1 967.9 L514.5 968.2 L514.9 968.6 L515.2 968.9 L515.5 969.2 L515.9 969.5 L516.1 969.8 L516.4 970.0 L516.6 970.3 L516.9 970.5 L517.1 970.7 L517.3 970.8 L517.4 971.0 L517.5 971.1 L517.7 971.3 L517.8 971.4 L517.9 971.5 L518.1 971.6 L518.2 971.7 L518.3 971.8 L518.4 971.9 L518.5 972.0 L518.6 972.1 L518.7 972.2 L518.8 972.3 L518.9 972.4 L518.9 972.4 L519.0 972.5 L519.1 972.6 L519.2 972.7 L519.3 972.8 L519.3 972.8 L519.4 972.9 L519.4 972.9 L519.5 973.0 L519.5 973.0 L519.6 973.0 L519.6 973.1 L519.6 973.1 L519.6 973.1 L519.6 973.1 L519.6 973.1 L519.7 973.1 Z"/></clipPath><filter id="cb" x="0" y="0" width="1" height="1"><feGaussianBlur stdDeviation="3"/></filter></defs>
<style>.cc rect{height:6px}</style>
<g clip-path="url(#hs)"><g class="cc" filter="url(#cb)">
<rect x="143" y="671" width="6" fill="#66c636"/>
<rect x="149" y="671" width="6" fill="#66c63c"/>
<rect x="155" y="671" width="6" fill="#66c642"/>
<rect x="161" y="671" width="12" fill="#66c648"/>
<rect x="173" y="671" width="6" fill="#66c64e"/>
<rect x="131" y="677" width="6" fill="#66c624"/>
<rect x="137" y="677" width="6" fill="#66c62a"/>
<rect x="143" y="677" width="6" fill="#66c630"/>
<rect x="149" y="677" width="6" fill="#66c636"/>
<rect x="155" y="677" width="6" fill="#66c63c"/>
<rect x="161" y="677" width="6" fill="#66c642"/>
<rect x="167" y="677" width="12" fill="#66c648"/>
<rect x="179" y="677" width="12" fill="#66c64e"/>
<rect x="191" y="677" width="6" fill="#66c654"/>
<rect x="125" y="683" width="18" fill="#66c624"/>
<rect x="143" y="683" width="6" fill="#66c62a"/>
<rect x="149" y="683" width="6" fill="#66c630"/>
<rect x="155" y="683" width="6" fill="#66c636"/>
<rect x="161" y="683" width="6" fill="#66c63c"/>
<rect x="167" y="683" width="12" fill="#66c642"/>
<rect x="179" y="683" width="12" fill="#66c648"/>
<rect x="191" y="683" width="18" fill="#66c64e"/>
<rect x="125" y="689" width="6" fill="#66c630"/>
<rect x="131" y="689" width="6" fill="#66c62a"/>
<rect x="137" y="689" width="12" fill="#66c624"/>
<rect x="149" y="689" width="6" fill="#66c62a"/>
<rect x="155" y="689" width="6" fill="#66c630"/>
<rect x="161" y="689" width="6" fill="#66c636"/>
<rect x="167" y="689" width="12" fill="#66c63c"/>
<rect x="179" y="689" width="6" fill="#66c642"/>
<rect x="185" y="689" width="24" fill="#66c648"/>
<rect x="209" y="689" width="6" fill="#66c64e"/>
<rect x="119" y="695" width="6" fill="#66c63c"/>
<rect x="125" y="695" width="6" fill="#66c636"/>
<rect x="131" y="695" width="12" fill="#66c630"/>
<rect x="143" y="695" width="12" fill="#66c624"/>
<rect x="155" y="695" width="6" fill="#66c62a"/>
<rect x="161" y="695" width="6" fill="#66c630"/>
<rect x="167" y="695" width="6" fill="#66c636"/>
<rect x="173" y="695" width="18" fill="#66c63c"/>
<rect x="191" y="695" width="12" fill="#66c642"/>
<rect x="203" y="695" width="24" fill="#66c648"/>
<rect x="119" y="701" width="12" fill="#66c63c"/>
<rect x="131" y="701" width="12" fill="#66c636"/>
<rect x="143" y="701" width="6" fill="#66c630"/>
<rect x="149" y="701" width="18" fill="#66c624"/>
<rect x="167" y="701" width="12" fill="#66c630"/>
<rect x="179" y="701" width="6" fill="#66c636"/>
<rect x="185" y="701" width="24" fill="#66c63c"/>
<rect x="209" y="701" width="18" fill="#66c642"/>
<rect x="227" y="701" width="6" fill="#66c648"/>
<rect x="119" y="707" width="18" fill="#66c63c"/>
<rect x="137" y="707" width="12" fill="#66c636"/>
<rect x="149" y="707" width="6" fill="#66c630"/>
<rect x="155" y="707" width="6" fill="#66c62a"/>
<rect x="161" y="707" width="12" fill="#66c624"/>
<rect x="173" y="707" width="6" fill="#66c62a"/>
<rect x="179" y="707" width="12" fill="#66c630"/>
<rect x="191" y="707" width="18" fill="#66c636"/>
<rect x="209" y="707" width="18" fill="#66c63c"/>
<rect x="227" y="707" width="6" fill="#66c642"/>
<rect x="233" y="707" width="12" fill="#66c648"/>
<rect x="119" y="713" width="24" fill="#66c63c"/>
<rect x="143" y="713" width="18" fill="#66c636"/>
<rect x="161" y="713" width="6" fill="#66c630"/>
<rect x="167" y="713" width="18" fill="#66c624"/>
<rect x="185" y="713" width="12" fill="#66c62a"/>
<rect x="197" y="713" width="12" fill="#66c630"/>
<rect x="209" y="713" width="12" fill="#66c636"/>
<rect x="221" y="713" width="12" fill="#66c63c"/>
<rect x="233" y="713" width="12" fill="#66c642"/>
<rect x="245" y="713" width="6" fill="#66c648"/>
<rect x="113" y="719" width="42" fill="#66c63c"/>
<rect x="155" y="719" width="12" fill="#66c636"/>
<rect x="167" y="719" width="6" fill="#66c630"/>
<rect x="173" y="719" width="6" fill="#66c624"/>
<rect x="179" y="719" width="6" fill="#66c61e"/>
<rect x="185" y="719" width="12" fill="#66c624"/>
<rect x="197" y="719" width="12" fill="#66c62a"/>
<rect x="209" y="719" width="12" fill="#66c630"/>
<rect x="221" y="719" width="12" fill="#66c636"/>
<rect x="233" y="719" width="6" fill="#66c63c"/>
<rect x="239" y="719" width="6" fill="#66c642"/>
<rect x="245" y="719" width="12" fill="#66c648"/>
<rect x="113" y="725" width="48" fill="#66c63c"/>
<rect x="161" y="725" width="12" fill="#66c636"/>
<rect x="173" y="725" width="6" fill="#66c630"/>
<rect x="179" y="725" width="6" fill="#66c624"/>
<rect x="185" y="725" width="12" fill="#66c61e"/>
<rect x="197" y="725" width="12" fill="#66c624"/>
<rect x="209" y="725" width="12" fill="#66c62a"/>
<rect x="221" y="725" width="6" fill="#66c630"/>
<rect x="227" y="725" width="6" fill="#66c636"/>
<rect x="233" y="725" width="12" fill="#66c63c"/>
<rect x="245" y="725" width="6" fill="#66c642"/>
<rect x="251" y="725" width="18" fill="#66c648"/>
<rect x="113" y="731" width="54" fill="#66c63c"/>
<rect x="167" y="731" width="12" fill="#66c636"/>
<rect x="179" y="731" width="6" fill="#66c630"/>
<rect x="185" y="731" width="6" fill="#66c62a"/>
<rect x="191" y="731" width="6" fill="#66c61e"/>
<rect x="197" y="731" width="6" fill="#66c618"/>
<rect x="203" y="731" width="6" fill="#66c61e"/>
<rect x="209" y="731" width="12" fill="#66c624"/>
<rect x="221" y="731" width="6" fill="#66c62a"/>
<rect x="227" y="731" width="6" fill="#66c630"/>
<rect x="233" y="731" width="6" fill="#66c636"/>
<rect x="239" y="731" width="6" fill="#66c63c"/>
<rect x="245" y="731" width="6" fill="#66c642"/>
<rect x="251" y="731" width="6" fill="#6cc648"/>
<rect x="257" y="731" width="18" fill="#66c648"/>
<rect x="113" y="737" width="60" fill="#66c63c"/>
<rect x="173" y="737" width="12" fill="#66c636"/>
<rect x="185" y="737" width="6" fill="#66c630"/>
<rect x="191" y="737" width="6" fill="#66c62a"/>
<rect x="197" y="737" width="6" fill="#66c61e"/>
<rect x="203" y="737" width="6" fill="#66c618"/>
<rect x="209" y="737" width="6" fill="#66c61e"/>
<rect x="215" y="737" width="6" fill="#66c624"/>
<rect x="221" y="737" width="6" fill="#66c62a"/>
<rect x="227" y="737" width="6" fill="#66c630"/>
<rect x="233" y="737" width="6" fill="#66c636"/>
<rect x="239" y="737" width="6" fill="#66c63c"/>
<rect x="245" y="737" width="12" fill="#6cc642"/>
<rect x="257" y="737" width="12" fill="#6cc648"/>
<rect x="269" y="737" width="12" fill="#66c648"/>
<rect x="113" y="743" width="60" fill="#66c63c"/>
<rect x="173" y="743" width="18" fill="#66c636"/>
<rect x="191" y="743" width="6" fill="#66c630"/>
<rect x="197" y="743" width="6" fill="#66c62a"/>
<rect x="203" y="743" width="6" fill="#66c624"/>
<rect x="209" y="743" width="6" fill="#66c618"/>
<rect x="215" y="743" width="6" fill="#66c61e"/>
<rect x="221" y="743" width="6" fill="#66c624"/>
<rect x="227" y="743" width="6" fill="#66c62a"/>
<rect x="233" y="743" width="6" fill="#66c630"/>
<rect x="239" y="743" width="6" fill="#66c636"/>
<rect x="245" y="743" width="6" fill="#6cc63c"/>
<rect x="251" y="743" width="12" fill="#6cc642"/>
<rect x="263" y="743" width="6" fill="#6cc648"/>
<rect x="269" y="743" width="6" fill="#6cc642"/>
<rect x="275" y="743" width="6" fill="#66c642"/>
<rect x="281" y="743" width="6" fill="#60c642"/>
<rect x="113" y="749" width="60" fill="#66c63c"/>
<rect x="173" y="749" width="24" fill="#66c636"/>
<rect x="197" y="749" width="12" fill="#66c630"/>
<rect x="209" y="749" width="6" fill="#66c624"/>
<rect x="215" y="749" width="12" fill="#66c61e"/>
<rect x="227" y="749" width="6" fill="#66c624"/>
<rect x="233" y="749" width="6" fill="#66c630"/>
<rect x="239" y="749" width="6" fill="#66c636"/>
<rect x="245" y="749" width="12" fill="#6cc63c"/>
<rect x="257" y="749" width="24" fill="#6cc642"/>
<rect x="281" y="749" width="6" fill="#66c63c"/>
<rect x="287" y="749" width="6" fill="#5ac63c"/>
<rect x="293" y="749" width="6" fill="#60c63c"/>
<rect x="113" y="755" width="60" fill="#66c63c"/>
<rect x="173" y="755" width="30" fill="#66c636"/>
<rect x="203" y="755" width="18" fill="#66c630"/>
<rect x="221" y="755" width="6" fill="#66c624"/>
<rect x="227" y="755" width="6" fill="#66c61e"/>
<rect x="233" y="755" width="6" fill="#66c624"/>
<rect x="239" y="755" width="6" fill="#66c630"/>
<rect x="245" y="755" width="6" fill="#6cc636"/>
<rect x="251" y="755" width="12" fill="#6cc63c"/>
<rect x="263" y="755" width="12" fill="#72c63c"/>
<rect x="275" y="755" width="6" fill="#6cc63c"/>
<rect x="281" y="755" width="6" fill="#66c63c"/>
<rect x="287" y="755" width="6" fill="#5ac636"/>
<rect x="293" y="755" width="6" fill="#6cc636"/>
<rect x="299" y="755" width="6" fill="#84c636"/>
<rect x="113" y="761" width="6" fill="#6cc63c"/>
<rect x="119" y="761" width="54" fill="#66c63c"/>
<rect x="173" y="761" width="48" fill="#66c636"/>
<rect x="221" y="761" width="6" fill="#66c630"/>
<rect x="227" y="761" width="6" fill="#66c62a"/>
<rect x="233" y="761" width="6" fill="#66c624"/>
<rect x="239" y="761" width="6" fill="#66c62a"/>
<rect x="245" y="761" width="6" fill="#6cc630"/>
<rect x="251" y="761" width="6" fill="#6cc636"/>
<rect x="257" y="761" width="24" fill="#72c636"/>
<rect x="281" y="761" width="6" fill="#66c636"/>
<rect x="287" y="761" width="6" fill="#60c636"/>
<rect x="293" y="761" width="6" fill="#78c630"/>
<rect x="299" y="761" width="6" fill="#84cc30"/>
<rect x="305" y="761" width="6" fill="#8acc30"/>
<rect x="113" y="767" width="12" fill="#6cc63c"/>
<rect x="125" y="767" width="36" fill="#66c63c"/>
<rect x="161" y="767" width="18" fill="#6cc63c"/>
<rect x="179" y="767" width="18" fill="#6cc636"/>
<rect x="197" y="767" width="36" fill="#66c636"/>
<rect x="233" y="767" width="6" fill="#66c630"/>
<rect x="239" y="767" width="12" fill="#6cc624"/>
<rect x="251" y="767" width="6" fill="#6cc62a"/>
<rect x="257" y="767" width="24" fill="#72c630"/>
<rect x="281" y="767" width="12" fill="#66c630"/>
<rect x="293" y="767" width="6" fill="#7ecc30"/>
<rect x="299" y="767" width="6" fill="#8acc30"/>
<rect x="305" y="767" width="6" fill="#8acc2a"/>
<rect x="311" y="767" width="6" fill="#90cc2a"/>
<rect x="113" y="773" width="12" fill="#6cc63c"/>
<rect x="125" y="773" width="18" fill="#66c63c"/>
<rect x="143" y="773" width="66" fill="#6cc63c"/>
<rect x="209" y="773" width="24" fill="#66c63c"/>
<rect x="233" y="773" width="12" fill="#6cc636"/>
<rect x="245" y="773" width="6" fill="#6cc62a"/>
<rect x="251" y="773" width="12" fill="#6cc624"/>
<rect x="263" y="773" width="18" fill="#6cc62a"/>
<rect x="281" y="773" width="6" fill="#60cc30"/>
<rect x="287" y="773" width="6" fill="#6ccc30"/>
<rect x="293" y="773" width="6" fill="#84cc30"/>
<rect x="299" y="773" width="12" fill="#8acc2a"/>
<rect x="311" y="773" width="6" fill="#90cc24"/>
<rect x="317" y="773" width="6" fill="#96cc24"/>
<rect x="113" y="779" width="108" fill="#6cc63c"/>
<rect x="221" y="779" width="12" fill="#66c63c"/>
<rect x="233" y="779" width="12" fill="#6cc63c"/>
<rect x="245" y="779" width="6" fill="#6cc636"/>
<rect x="251" y="779" width="6" fill="#6cc62a"/>
<rect x="257" y="779" width="6" fill="#6cc61e"/>
<rect x="263" y="779" width="6" fill="#6ccc1e"/>
<rect x="269" y="779" width="6" fill="#66cc24"/>
<rect x="275" y="779" width="6" fill="#60cc24"/>
<rect x="281" y="779" width="6" fill="#5acc2a"/>
<rect x="287" y="779" width="6" fill="#72cc2a"/>
<rect x="293" y="779" width="6" fill="#84cc2a"/>
<rect x="299" y="779" width="6" fill="#8acc2a"/>
<rect x="305" y="779" width="6" fill="#90cc2a"/>
<rect x="311" y="779" width="6" fill="#90d224"/>
<rect x="317" y="779" width="6" fill="#96d224"/>
<rect x="323" y="779" width="6" fill="#9cd224"/>
<rect x="113" y="785" width="30" fill="#6cc642"/>
<rect x="143" y="785" width="108" fill="#6cc63c"/>
<rect x="251" y="785" width="6" fill="#66c636"/>
<rect x="257" y="785" width="6" fill="#66cc30"/>
<rect x="263" y="785" width="6" fill="#66cc1e"/>
<rect x="269" y="785" width="6" fill="#60cc18"/>
<rect x="275" y="785" width="6" fill="#5acc1e"/>
<rect x="281" y="785" width="6" fill="#5acc24"/>
<rect x="287" y="785" width="6" fill="#78cc24"/>
<rect x="293" y="785" width="6" fill="#84cc2a"/>
<rect x="299" y="785" width="6" fill="#8acc2a"/>
<rect x="305" y="785" width="6" fill="#90d22a"/>
<rect x="311" y="785" width="6" fill="#96d224"/>
<rect x="317" y="785" width="6" fill="#9cd224"/>
<rect x="323" y="785" width="6" fill="#a2d824"/>
<rect x="329" y="785" width="6" fill="#a8d81e"/>
<rect x="113" y="791" width="6" fill="#6cc648"/>
<rect x="119" y="791" width="84" fill="#6cc642"/>
<rect x="203" y="791" width="36" fill="#6cc63c"/>
<rect x="239" y="791" width="12" fill="#66c63c"/>
<rect x="251" y="791" width="6" fill="#66cc3c"/>
<rect x="257" y="791" width="6" fill="#60cc36"/>
<rect x="263" y="791" width="6" fill="#60cc30"/>
<rect x="269" y="791" width="6" fill="#5acc24"/>
<rect x="275" y="791" width="6" fill="#4ecc18"/>
<rect x="281" y="791" width="6" fill="#60cc1e"/>
<rect x="287" y="791" width="6" fill="#7ecc24"/>
<rect x="293" y="791" width="6" fill="#84d224"/>
<rect x="299" y="791" width="6" fill="#90d22a"/>
<rect x="305" y="791" width="6" fill="#96d224"/>
<rect x="311" y="791" width="6" fill="#9cd824"/>
<rect x="317" y="791" width="6" fill="#a2d824"/>
<rect x="323" y="791" width="6" fill="#aed81e"/>
<rect x="329" y="791" width="12" fill="#b4d81e"/>
<rect x="113" y="797" width="84" fill="#6cc648"/>
<rect x="197" y="797" width="18" fill="#6cc642"/>
<rect x="215" y="797" width="24" fill="#6cc63c"/>
<rect x="239" y="797" width="6" fill="#66c63c"/>
<rect x="245" y="797" width="6" fill="#66cc3c"/>
<rect x="251" y="797" width="12" fill="#60cc3c"/>
<rect x="263" y="797" width="6" fill="#5acc36"/>
<rect x="269" y="797" width="6" fill="#54cc30"/>
<rect x="275" y="797" width="6" fill="#48cc24"/>
<rect x="281" y="797" width="6" fill="#66cc18"/>
<rect x="287" y="797" width="6" fill="#84d218"/>
<rect x="293" y="797" width="6" fill="#8ad21e"/>
<rect x="299" y="797" width="6" fill="#90d224"/>
<rect x="305" y="797" width="6" fill="#9cd81e"/>
<rect x="311" y="797" width="6" fill="#a2d81e"/>
<rect x="317" y="797" width="6" fill="#aed81e"/>
<rect x="323" y="797" width="6" fill="#b4d818"/>
<rect x="329" y="797" width="6" fill="#bad818"/>
<rect x="335" y="797" width="6" fill="#c0d818"/>
<rect x="341" y="797" width="6" fill="#c0de18"/>
<rect x="113" y="803" width="66" fill="#6cc64e"/>
<rect x="179" y="803" width="12" fill="#6ccc4e"/>
<rect x="191" y="803" width="12" fill="#6ccc48"/>
<rect x="203" y="803" width="12" fill="#6cc648"/>
<rect x="215" y="803" width="24" fill="#6cc642"/>
<rect x="239" y="803" width="12" fill="#66cc42"/>
<rect x="251" y="803" width="12" fill="#60cc3c"/>
<rect x="263" y="803" width="6" fill="#54cc3c"/>
<rect x="269" y="803" width="6" fill="#4ecc36"/>
<rect x="275" y="803" width="6" fill="#4ecc30"/>
<rect x="281" y="803" width="6" fill="#72d224"/>
<rect x="287" y="803" width="6" fill="#84d218"/>
<rect x="293" y="803" width="6" fill="#90d212"/>
<rect x="299" y="803" width="6" fill="#9cd818"/>
<rect x="305" y="803" width="6" fill="#a2d818"/>
<rect x="311" y="803" width="6" fill="#aed818"/>
<rect x="317" y="803" width="6" fill="#b4de18"/>
<rect x="323" y="803" width="12" fill="#c0de18"/>
<rect x="335" y="803" width="12" fill="#c6de18"/>
<rect x="347" y="803" width="6" fill="#c6e412"/>
<rect x="113" y="809" width="30" fill="#6cc654"/>
<rect x="143" y="809" width="48" fill="#6ccc54"/>
<rect x="191" y="809" width="6" fill="#72cc54"/>
<rect x="197" y="809" width="18" fill="#72cc4e"/>
<rect x="215" y="809" width="24" fill="#6ccc48"/>
<rect x="239" y="809" width="6" fill="#66cc48"/>
<rect x="245" y="809" width="6" fill="#66cc42"/>
<rect x="251" y="809" width="6" fill="#60cc42"/>
<rect x="257" y="809" width="6" fill="#5acc3c"/>
<rect x="263" y="809" width="6" fill="#54cc3c"/>
<rect x="269" y="809" width="6" fill="#48cc36"/>
<rect x="275" y="809" width="6" fill="#54d230"/>
<rect x="281" y="809" width="6" fill="#7ed230"/>
<rect x="287" y="809" width="6" fill="#8ad224"/>
<rect x="293" y="809" width="6" fill="#96d818"/>
<rect x="299" y="809" width="6" fill="#a2d80c"/>
<rect x="305" y="809" width="6" fill="#a8d80c"/>
<rect x="311" y="809" width="6" fill="#b4de12"/>
<rect x="317" y="809" width="6" fill="#bade12"/>
<rect x="323" y="809" width="6" fill="#c6de12"/>
<rect x="329" y="809" width="6" fill="#cce412"/>
<rect x="335" y="809" width="12" fill="#ccde12"/>
<rect x="347" y="809" width="6" fill="#cce412"/>
<rect x="353" y="809" width="6" fill="#d2e412"/>
<rect x="113" y="815" width="18" fill="#6cc654"/>
<rect x="131" y="815" width="6" fill="#6ccc54"/>
<rect x="137" y="815" width="36" fill="#6ccc5a"/>
<rect x="173" y="815" width="6" fill="#72cc60"/>
<rect x="179" y="815" width="24" fill="#72cc5a"/>
<rect x="203" y="815" width="18" fill="#72cc54"/>
<rect x="221" y="815" width="6" fill="#72cc4e"/>
<rect x="227" y="815" width="12" fill="#6ccc4e"/>
<rect x="239" y="815" width="6" fill="#6ccc48"/>
<rect x="245" y="815" width="6" fill="#66cc48"/>
<rect x="251" y="815" width="6" fill="#60cc48"/>
<rect x="257" y="815" width="6" fill="#5acc42"/>
<rect x="263" y="815" width="6" fill="#54cc3c"/>
<rect x="269" y="815" width="6" fill="#48d236"/>
<rect x="275" y="815" width="6" fill="#66d230"/>
<rect x="281" y="815" width="6" fill="#84d230"/>
<rect x="287" y="815" width="6" fill="#90d82a"/>
<rect x="293" y="815" width="6" fill="#9cd824"/>
<rect x="299" y="815" width="6" fill="#a8d818"/>
<rect x="305" y="815" width="6" fill="#aede0c"/>
<rect x="311" y="815" width="6" fill="#bade0c"/>
<rect x="317" y="815" width="6" fill="#c0de0c"/>
<rect x="323" y="815" width="24" fill="#cce40c"/>
<rect x="347" y="815" width="6" fill="#d2e40c"/>
<rect x="353" y="815" width="6" fill="#d8e40c"/>
<rect x="359" y="815" width="6" fill="#def00c"/>
<rect x="113" y="821" width="6" fill="#6cc65a"/>
<rect x="119" y="821" width="6" fill="#6ccc5a"/>
<rect x="125" y="821" width="36" fill="#6ccc60"/>
<rect x="161" y="821" width="6" fill="#72cc60"/>
<rect x="167" y="821" width="24" fill="#72cc66"/>
<rect x="191" y="821" width="18" fill="#72cc60"/>
<rect x="209" y="821" width="12" fill="#72cc5a"/>
<rect x="221" y="821" width="12" fill="#72cc54"/>
<rect x="233" y="821" width="12" fill="#6ccc54"/>
<rect x="245" y="821" width="6" fill="#66cc4e"/>
<rect x="251" y="821" width="6" fill="#60cc48"/>
<rect x="257" y="821" width="6" fill="#5acc42"/>
<rect x="263" y="821" width="6" fill="#54cc3c"/>
<rect x="269" y="821" width="6" fill="#4ed236"/>
<rect x="275" y="821" width="6" fill="#72d230"/>
<rect x="281" y="821" width="6" fill="#8ad830"/>
<rect x="287" y="821" width="6" fill="#9cd82a"/>
<rect x="293" y="821" width="6" fill="#a2d82a"/>
<rect x="299" y="821" width="6" fill="#aede24"/>
<rect x="305" y="821" width="6" fill="#b4de1e"/>
<rect x="311" y="821" width="6" fill="#c0de0c"/>
<rect x="317" y="821" width="6" fill="#c6e406"/>
<rect x="323" y="821" width="18" fill="#cce40c"/>
<rect x="341" y="821" width="12" fill="#d2e40c"/>
<rect x="353" y="821" width="6" fill="#d8ea0c"/>
<rect x="359" y="821" width="12" fill="#e4f00c"/>
<rect x="371" y="821" width="6" fill="#e4ea0c"/>
<rect x="113" y="827" width="18" fill="#6ccc60"/>
<rect x="131" y="827" width="24" fill="#72cc66"/>
<rect x="155" y="827" width="42" fill="#72cc6c"/>
<rect x="197" y="827" width="12" fill="#78cc66"/>
<rect x="209" y="827" width="24" fill="#78cc60"/>
<rect x="233" y="827" width="6" fill="#72cc5a"/>
<rect x="239" y="827" width="6" fill="#6ccc5a"/>
<rect x="245" y="827" width="6" fill="#6ccc54"/>
<rect x="251" y="827" width="6" fill="#60cc4e"/>
<rect x="257" y="827" width="6" fill="#5acc48"/>
<rect x="263" y="827" width="6" fill="#4ed242"/>
<rect x="269" y="827" width="6" fill="#54d23c"/>
<rect x="275" y="827" width="6" fill="#7ed230"/>
<rect x="281" y="827" width="6" fill="#90d830"/>
<rect x="287" y="827" width="6" fill="#9cd82a"/>
<rect x="293" y="827" width="6" fill="#a8d830"/>
<rect x="299" y="827" width="6" fill="#b4de30"/>
<rect x="305" y="827" width="6" fill="#c0de30"/>
<rect x="311" y="827" width="6" fill="#c6e42a"/>
<rect x="317" y="827" width="6" fill="#cce418"/>
<rect x="323" y="827" width="6" fill="#cce40c"/>
<rect x="329" y="827" width="18" fill="#d2e40c"/>
<rect x="347" y="827" width="6" fill="#d8e40c"/>
<rect x="353" y="827" width="6" fill="#deea0c"/>
<rect x="359" y="827" width="12" fill="#e4ea0c"/>
<rect x="371" y="827" width="12" fill="#eaea0c"/>
<rect x="113" y="833" width="6" fill="#72cc66"/>
<rect x="119" y="833" width="36" fill="#72cc6c"/>
<rect x="155" y="833" width="30" fill="#72cc72"/>
<rect x="185" y="833" width="12" fill="#78cc72"/>
<rect x="197" y="833" width="18" fill="#78cc6c"/>
<rect x="215" y="833" width="18" fill="#78cc66"/>
<rect x="233" y="833" width="6" fill="#78cc60"/>
<rect x="239" y="833" width="6" fill="#72cc60"/>
<rect x="245" y="833" width="6" fill="#6ccc5a"/>
<rect x="251" y="833" width="6" fill="#60cc54"/>
<rect x="257" y="833" width="6" fill="#5ad24e"/>
<rect x="263" y="833" width="6" fill="#54d248"/>
<rect x="269" y="833" width="6" fill="#66d23c"/>
<rect x="275" y="833" width="6" fill="#8ad836"/>
<rect x="281" y="833" width="6" fill="#9cd830"/>
<rect x="287" y="833" width="6" fill="#a8d830"/>
<rect x="293" y="833" width="6" fill="#aede36"/>
<rect x="299" y="833" width="6" fill="#bade3c"/>
<rect x="305" y="833" width="6" fill="#c0e43c"/>
<rect x="311" y="833" width="6" fill="#cce43c"/>
<rect x="317" y="833" width="6" fill="#d2e430"/>
<rect x="323" y="833" width="6" fill="#d2e424"/>
<rect x="329" y="833" width="6" fill="#d8e40c"/>
<rect x="335" y="833" width="12" fill="#d8e406"/>
<rect x="347" y="833" width="6" fill="#deea06"/>
<rect x="353" y="833" width="6" fill="#e4f006"/>
<rect x="359" y="833" width="6" fill="#e4ea0c"/>
<rect x="365" y="833" width="12" fill="#eaea0c"/>
<rect x="377" y="833" width="12" fill="#f0e40c"/>
<rect x="113" y="839" width="6" fill="#72cc6c"/>
<rect x="119" y="839" width="24" fill="#72cc72"/>
<rect x="143" y="839" width="36" fill="#72cc78"/>
<rect x="179" y="839" width="18" fill="#78cc78"/>
<rect x="197" y="839" width="18" fill="#78cc72"/>
<rect x="215" y="839" width="12" fill="#7ecc6c"/>
<rect x="227" y="839" width="12" fill="#78cc6c"/>
<rect x="239" y="839" width="6" fill="#72cc66"/>
<rect x="245" y="839" width="6" fill="#6ccc60"/>
<rect x="251" y="839" width="6" fill="#66cc5a"/>
<rect x="257" y="839" width="6" fill="#5ad254"/>
<rect x="263" y="839" width="6" fill="#54d248"/>
<rect x="269" y="839" width="6" fill="#78d842"/>
<rect x="275" y="839" width="6" fill="#90d83c"/>
<rect x="281" y="839" width="6" fill="#a2d836"/>
<rect x="287" y="839" width="6" fill="#a8de36"/>
<rect x="293" y="839" width="6" fill="#b4de3c"/>
<rect x="299" y="839" width="6" fill="#c0e448"/>
<rect x="305" y="839" width="6" fill="#cce448"/>
<rect x="311" y="839" width="6" fill="#d2e448"/>
<rect x="317" y="839" width="6" fill="#d8ea42"/>
<rect x="323" y="839" width="6" fill="#d8ea3c"/>
<rect x="329" y="839" width="6" fill="#deea2a"/>
<rect x="335" y="839" width="6" fill="#deea12"/>
<rect x="341" y="839" width="6" fill="#e4ea06"/>
<rect x="347" y="839" width="6" fill="#eaf006"/>
<rect x="353" y="839" width="12" fill="#eaea06"/>
<rect x="365" y="839" width="24" fill="#f0e40c"/>
<rect x="389" y="839" width="6" fill="#f0de0c"/>
<rect x="113" y="845" width="30" fill="#72cc78"/>
<rect x="143" y="845" width="36" fill="#72cc7e"/>
<rect x="179" y="845" width="18" fill="#78cc7e"/>
<rect x="197" y="845" width="6" fill="#78cc78"/>
<rect x="203" y="845" width="18" fill="#7ecc78"/>
<rect x="221" y="845" width="12" fill="#7ecc72"/>
<rect x="233" y="845" width="6" fill="#78cc72"/>
<rect x="239" y="845" width="6" fill="#78cc6c"/>
<rect x="245" y="845" width="6" fill="#72cc6c"/>
<rect x="251" y="845" width="6" fill="#66cc60"/>
<rect x="257" y="845" width="6" fill="#5ad25a"/>
<rect x="263" y="845" width="6" fill="#5ad254"/>
<rect x="269" y="845" width="6" fill="#84d84e"/>
<rect x="275" y="845" width="6" fill="#9cd848"/>
<rect x="281" y="845" width="6" fill="#a8de42"/>
<rect x="287" y="845" width="6" fill="#b4de48"/>
<rect x="293" y="845" width="6" fill="#c0e44e"/>
<rect x="299" y="845" width="6" fill="#c6e454"/>
<rect x="305" y="845" width="6" fill="#d2ea54"/>
<rect x="311" y="845" width="6" fill="#d8ea54"/>
<rect x="317" y="845" width="6" fill="#deea54"/>
<rect x="323" y="845" width="6" fill="#deea48"/>
<rect x="329" y="845" width="6" fill="#e4f042"/>
<rect x="335" y="845" width="6" fill="#eaf030"/>
<rect x="341" y="845" width="6" fill="#f0f018"/>
<rect x="347" y="845" width="6" fill="#f0f00c"/>
<rect x="353" y="845" width="6" fill="#f0ea06"/>
<rect x="359" y="845" width="18" fill="#f0e40c"/>
<rect x="377" y="845" width="6" fill="#f0de0c"/>
<rect x="383" y="845" width="12" fill="#f0d80c"/>
<rect x="395" y="845" width="6" fill="#f6d80c"/>
<rect x="113" y="851" width="6" fill="#72cc78"/>
<rect x="119" y="851" width="18" fill="#72cc7e"/>
<rect x="137" y="851" width="6" fill="#72cc84"/>
<rect x="143" y="851" width="54" fill="#78cc84"/>
<rect x="197" y="851" width="6" fill="#78cc7e"/>
<rect x="203" y="851" width="12" fill="#7ecc7e"/>
<rect x="215" y="851" width="6" fill="#84cc7e"/>
<rect x="221" y="851" width="12" fill="#84cc78"/>
<rect x="233" y="851" width="6" fill="#7ecc78"/>
<rect x="239" y="851" width="6" fill="#78cc78"/>
<rect x="245" y="851" width="6" fill="#72cc72"/>
<rect x="251" y="851" width="6" fill="#66d26c"/>
<rect x="257" y="851" width="6" fill="#5ad266"/>
<rect x="263" y="851" width="6" fill="#6cd860"/>
<rect x="269" y="851" width="6" fill="#90d85a"/>
<rect x="275" y="851" width="6" fill="#a2d854"/>
<rect x="281" y="851" width="6" fill="#aede4e"/>
<rect x="287" y="851" width="6" fill="#b4e454"/>
<rect x="293" y="851" width="6" fill="#c0e45a"/>
<rect x="299" y="851" width="6" fill="#ccea60"/>
<rect x="305" y="851" width="6" fill="#d2ea60"/>
<rect x="311" y="851" width="6" fill="#d8ea60"/>
<rect x="317" y="851" width="6" fill="#e4f05a"/>
<rect x="323" y="851" width="6" fill="#e4f054"/>
<rect x="329" y="851" width="6" fill="#eaf04e"/>
<rect x="335" y="851" width="6" fill="#f0f048"/>
<rect x="341" y="851" width="6" fill="#f0f03c"/>
<rect x="347" y="851" width="6" fill="#f0ea24"/>
<rect x="353" y="851" width="12" fill="#f0e40c"/>
<rect x="365" y="851" width="6" fill="#f0de0c"/>
<rect x="371" y="851" width="12" fill="#f0d80c"/>
<rect x="383" y="851" width="18" fill="#f6d212"/>
<rect x="401" y="851" width="6" fill="#f6cc0c"/>
<rect x="113" y="857" width="30" fill="#78cc84"/>
<rect x="143" y="857" width="42" fill="#78cc8a"/>
<rect x="185" y="857" width="12" fill="#78cc84"/>
<rect x="197" y="857" width="12" fill="#7ecc84"/>
<rect x="209" y="857" width="18" fill="#84cc84"/>
<rect x="227" y="857" width="6" fill="#84cc7e"/>
<rect x="233" y="857" width="12" fill="#7ecc7e"/>
<rect x="245" y="857" width="6" fill="#72cc78"/>
<rect x="251" y="857" width="6" fill="#66d278"/>
<rect x="257" y="857" width="6" fill="#60d272"/>
<rect x="263" y="857" width="6" fill="#78d86c"/>
<rect x="269" y="857" width="6" fill="#96d866"/>
<rect x="275" y="857" width="6" fill="#a8de60"/>
<rect x="281" y="857" width="6" fill="#b4de5a"/>
<rect x="287" y="857" width="6" fill="#bae45a"/>
<rect x="293" y="857" width="6" fill="#c6e460"/>
<rect x="299" y="857" width="6" fill="#ccea66"/>
<rect x="305" y="857" width="6" fill="#d8ea66"/>
<rect x="311" y="857" width="6" fill="#def066"/>
<rect x="317" y="857" width="6" fill="#e4f060"/>
<rect x="323" y="857" width="6" fill="#eaf060"/>
<rect x="329" y="857" width="6" fill="#f0f05a"/>
<rect x="335" y="857" width="6" fill="#f6f654"/>
<rect x="341" y="857" width="6" fill="#f6f048"/>
<rect x="347" y="857" width="6" fill="#f0ea3c"/>
<rect x="353" y="857" width="6" fill="#f0e430"/>
<rect x="359" y="857" width="6" fill="#f0de18"/>
<rect x="365" y="857" width="12" fill="#f0d80c"/>
<rect x="377" y="857" width="6" fill="#f6d212"/>
<rect x="383" y="857" width="6" fill="#f6cc12"/>
<rect x="389" y="857" width="12" fill="#f6c612"/>
<rect x="401" y="857" width="6" fill="#f6c012"/>
<rect x="407" y="857" width="6" fill="#f6c00c"/>
<rect x="119" y="863" width="24" fill="#78cc8a"/>
<rect x="143" y="863" width="42" fill="#78cc90"/>
<rect x="185" y="863" width="12" fill="#78cc8a"/>
<rect x="197" y="863" width="12" fill="#7ecc8a"/>
<rect x="209" y="863" width="6" fill="#84cc8a"/>
<rect x="215" y="863" width="24" fill="#84cc84"/>
<rect x="239" y="863" width="6" fill="#7ecc84"/>
<rect x="245" y="863" width="6" fill="#72d284"/>
<rect x="251" y="863" width="6" fill="#66d284"/>
<rect x="257" y="863" width="6" fill="#60d87e"/>
<rect x="263" y="863" width="6" fill="#8ad878"/>
<rect x="269" y="863" width="6" fill="#9cd878"/>
<rect x="275" y="863" width="6" fill="#a8de72"/>
<rect x="281" y="863" width="6" fill="#b4e46c"/>
<rect x="287" y="863" width="6" fill="#c0e466"/>
<rect x="293" y="863" width="6" fill="#c6e46c"/>
<rect x="299" y="863" width="6" fill="#ccea6c"/>
<rect x="305" y="863" width="6" fill="#d8ea6c"/>
<rect x="311" y="863" width="6" fill="#def06c"/>
<rect x="317" y="863" width="6" fill="#eaf06c"/>
<rect x="323" y="863" width="6" fill="#f0f066"/>
<rect x="329" y="863" width="6" fill="#f6f666"/>
<rect x="335" y="863" width="6" fill="#f6f060"/>
<rect x="341" y="863" width="6" fill="#f6ea54"/>
<rect x="347" y="863" width="6" fill="#f0e44e"/>
<rect x="353" y="863" width="6" fill="#f0de42"/>
<rect x="359" y="863" width="6" fill="#f0d836"/>
<rect x="365" y="863" width="6" fill="#f0d81e"/>
<rect x="371" y="863" width="6" fill="#f6d212"/>
<rect x="377" y="863" width="6" fill="#f6cc12"/>
<rect x="383" y="863" width="6" fill="#f6c612"/>
<rect x="389" y="863" width="12" fill="#f6c012"/>
<rect x="401" y="863" width="6" fill="#f6ba0c"/>
<rect x="407" y="863" width="6" fill="#f6b40c"/>
<rect x="413" y="863" width="6" fill="#f6ae0c"/>
<rect x="119" y="869" width="78" fill="#78cc90"/>
<rect x="197" y="869" width="12" fill="#7ecc90"/>
<rect x="209" y="869" width="12" fill="#84cc90"/>
<rect x="221" y="869" width="18" fill="#84cc8a"/>
<rect x="239" y="869" width="6" fill="#7ecc8a"/>
<rect x="245" y="869" width="6" fill="#72d28a"/>
<rect x="251" y="869" width="6" fill="#66d28a"/>
<rect x="257" y="869" width="6" fill="#6cd88a"/>
<rect x="263" y="869" width="6" fill="#96d88a"/>
<rect x="269" y="869" width="6" fill="#a2de84"/>
<rect x="275" y="869" width="6" fill="#aede7e"/>
<rect x="281" y="869" width="6" fill="#b4e478"/>
<rect x="287" y="869" width="6" fill="#c0e472"/>
<rect x="293" y="869" width="6" fill="#c6ea72"/>
<rect x="299" y="869" width="6" fill="#d2ea6c"/>
<rect x="305" y="869" width="6" fill="#d8f06c"/>
<rect x="311" y="869" width="6" fill="#e4f072"/>
<rect x="317" y="869" width="6" fill="#eaf072"/>
<rect x="323" y="869" width="6" fill="#f0f672"/>
<rect x="329" y="869" width="6" fill="#f6f66c"/>
<rect x="335" y="869" width="6" fill="#f6f066"/>
<rect x="341" y="869" width="6" fill="#f0e460"/>
<rect x="347" y="869" width="6" fill="#f0e45a"/>
<rect x="353" y="869" width="6" fill="#f0d854"/>
<rect x="359" y="869" width="6" fill="#f0d848"/>
<rect x="365" y="869" width="6" fill="#f0d23c"/>
<rect x="371" y="869" width="6" fill="#f6cc2a"/>
<rect x="377" y="869" width="6" fill="#f6c618"/>
<rect x="383" y="869" width="6" fill="#f6c012"/>
<rect x="389" y="869" width="6" fill="#f6ba12"/>
<rect x="395" y="869" width="6" fill="#f6b412"/>
<rect x="401" y="869" width="6" fill="#f6b40c"/>
<rect x="407" y="869" width="6" fill="#f6ae0c"/>
<rect x="413" y="869" width="6" fill="#f6a80c"/>
<rect x="419" y="869" width="6" fill="#f69c0c"/>
<rect x="119" y="875" width="6" fill="#78cc90"/>
<rect x="125" y="875" width="72" fill="#78cc96"/>
<rect x="197" y="875" width="6" fill="#7ecc96"/>
<rect x="203" y="875" width="6" fill="#7ecc90"/>
<rect x="209" y="875" width="12" fill="#84cc90"/>
<rect x="221" y="875" width="12" fill="#8acc90"/>
<rect x="233" y="875" width="6" fill="#84cc90"/>
<rect x="239" y="875" width="6" fill="#7ed290"/>
<rect x="245" y="875" width="6" fill="#72d296"/>
<rect x="251" y="875" width="6" fill="#66d896"/>
<rect x="257" y="875" width="6" fill="#7ed896"/>
<rect x="263" y="875" width="6" fill="#9cd896"/>
<rect x="269" y="875" width="6" fill="#a8de90"/>
<rect x="275" y="875" width="6" fill="#b4e490"/>
<rect x="281" y="875" width="6" fill="#bae484"/>
<rect x="287" y="875" width="6" fill="#c0e47e"/>
<rect x="293" y="875" width="6" fill="#c6ea78"/>
<rect x="299" y="875" width="6" fill="#d2ea72"/>
<rect x="305" y="875" width="6" fill="#d8f072"/>
<rect x="311" y="875" width="6" fill="#e4f078"/>
<rect x="317" y="875" width="6" fill="#eaf078"/>
<rect x="323" y="875" width="6" fill="#f6f678"/>
<rect x="329" y="875" width="6" fill="#f6f078"/>
<rect x="335" y="875" width="6" fill="#f0ea72"/>
<rect x="341" y="875" width="6" fill="#f0e46c"/>
<rect x="347" y="875" width="6" fill="#f0de66"/>
<rect x="353" y="875" width="6" fill="#f0d85a"/>
<rect x="359" y="875" width="6" fill="#f0d254"/>
<rect x="365" y="875" width="6" fill="#f0cc48"/>
<rect x="371" y="875" width="6" fill="#f6c642"/>
<rect x="377" y="875" width="6" fill="#f6c030"/>
<rect x="383" y="875" width="6" fill="#f6ba1e"/>
<rect x="389" y="875" width="6" fill="#f6b412"/>
<rect x="395" y="875" width="6" fill="#f6ae0c"/>
<rect x="401" y="875" width="6" fill="#f6a80c"/>
<rect x="407" y="875" width="6" fill="#f6a20c"/>
<rect x="413" y="875" width="6" fill="#f69c0c"/>
<rect x="419" y="875" width="6" fill="#f6960c"/>
<rect x="425" y="875" width="6" fill="#f6900c"/>
<rect x="119" y="881" width="6" fill="#78cc96"/>
<rect x="125" y="881" width="24" fill="#78cc9c"/>
<rect x="149" y="881" width="30" fill="#78d29c"/>
<rect x="179" y="881" width="18" fill="#78cc9c"/>
<rect x="197" y="881" width="12" fill="#7ecc9c"/>
<rect x="209" y="881" width="12" fill="#84cc96"/>
<rect x="221" y="881" width="12" fill="#8acc96"/>
<rect x="233" y="881" width="6" fill="#84cc96"/>
<rect x="239" y="881" width="6" fill="#7ed29c"/>
<rect x="245" y="881" width="6" fill="#72d29c"/>
<rect x="251" y="881" width="6" fill="#6cd89c"/>
<rect x="257" y="881" width="6" fill="#90d89c"/>
<rect x="263" y="881" width="6" fill="#a8de9c"/>
<rect x="269" y="881" width="6" fill="#aede9c"/>
<rect x="275" y="881" width="6" fill="#b4e496"/>
<rect x="281" y="881" width="6" fill="#bae48a"/>
<rect x="287" y="881" width="6" fill="#c0e484"/>
<rect x="293" y="881" width="6" fill="#ccea78"/>
<rect x="299" y="881" width="6" fill="#d2ea78"/>
<rect x="305" y="881" width="6" fill="#d8f078"/>
<rect x="311" y="881" width="6" fill="#e4f078"/>
<rect x="317" y="881" width="6" fill="#f0f07e"/>
<rect x="323" y="881" width="6" fill="#f6f07e"/>
<rect x="329" y="881" width="6" fill="#f0ea78"/>
<rect x="335" y="881" width="6" fill="#f0e478"/>
<rect x="341" y="881" width="6" fill="#f0de72"/>
<rect x="347" y="881" width="6" fill="#f0d86c"/>
<rect x="353" y="881" width="6" fill="#f0d266"/>
<rect x="359" y="881" width="6" fill="#f0cc60"/>
<rect x="365" y="881" width="6" fill="#f0c654"/>
<rect x="371" y="881" width="6" fill="#f6c04e"/>
<rect x="377" y="881" width="6" fill="#f6ba42"/>
<rect x="383" y="881" width="6" fill="#f6b436"/>
<rect x="389" y="881" width="6" fill="#f6ae1e"/>
<rect x="395" y="881" width="6" fill="#f6a80c"/>
<rect x="401" y="881" width="6" fill="#f6a20c"/>
<rect x="407" y="881" width="6" fill="#f69c0c"/>
<rect x="413" y="881" width="6" fill="#f6960c"/>
<rect x="419" y="881" width="6" fill="#f6900c"/>
<rect x="425" y="881" width="12" fill="#f6840c"/>
<rect x="119" y="887" width="18" fill="#78cc9c"/>
<rect x="137" y="887" width="60" fill="#78d2a2"/>
<rect x="197" y="887" width="6" fill="#7ecca2"/>
<rect x="203" y="887" width="12" fill="#84cc9c"/>
<rect x="215" y="887" width="18" fill="#8acc9c"/>
<rect x="233" y="887" width="6" fill="#84d29c"/>
<rect x="239" y="887" width="6" fill="#7ed2a2"/>
<rect x="245" y="887" width="6" fill="#72d8a2"/>
<rect x="251" y="887" width="6" fill="#72d8a8"/>
<rect x="257" y="887" width="6" fill="#9cdea8"/>
<rect x="263" y="887" width="6" fill="#aedea8"/>
<rect x="269" y="887" width="6" fill="#b4e4a2"/>
<rect x="275" y="887" width="6" fill="#bae49c"/>
<rect x="281" y="887" width="6" fill="#c0e490"/>
<rect x="287" y="887" width="6" fill="#c6ea84"/>
<rect x="293" y="887" width="6" fill="#ccea7e"/>
<rect x="299" y="887" width="6" fill="#d2ea78"/>
<rect x="305" y="887" width="6" fill="#def078"/>
<rect x="311" y="887" width="6" fill="#eaf084"/>
<rect x="317" y="887" width="6" fill="#f0f084"/>
<rect x="323" y="887" width="6" fill="#f0ea84"/>
<rect x="329" y="887" width="6" fill="#f0e484"/>
<rect x="335" y="887" width="6" fill="#f0de7e"/>
<rect x="341" y="887" width="6" fill="#f0d878"/>
<rect x="347" y="887" width="6" fill="#f0d272"/>
<rect x="353" y="887" width="6" fill="#f0cc6c"/>
<rect x="359" y="887" width="6" fill="#f0c666"/>
<rect x="365" y="887" width="6" fill="#f0c060"/>
<rect x="371" y="887" width="6" fill="#f6ba54"/>
<rect x="377" y="887" width="6" fill="#f6b44e"/>
<rect x="383" y="887" width="6" fill="#f6ae42"/>
<rect x="389" y="887" width="6" fill="#f6a836"/>
<rect x="395" y="887" width="6" fill="#f6a224"/>
<rect x="401" y="887" width="6" fill="#f69c0c"/>
<rect x="407" y="887" width="6" fill="#f69606"/>
<rect x="413" y="887" width="6" fill="#f69006"/>
<rect x="419" y="887" width="6" fill="#f68406"/>
<rect x="425" y="887" width="6" fill="#f67e0c"/>
<rect x="431" y="887" width="12" fill="#f6780c"/>
<rect x="119" y="893" width="12" fill="#78cca2"/>
<rect x="131" y="893" width="66" fill="#78d2a8"/>
<rect x="197" y="893" width="6" fill="#7ed2a8"/>
<rect x="203" y="893" width="18" fill="#84cca8"/>
<rect x="221" y="893" width="6" fill="#8acca8"/>
<rect x="227" y="893" width="12" fill="#84d2a8"/>
<rect x="239" y="893" width="6" fill="#78d2a8"/>
<rect x="245" y="893" width="6" fill="#6cd8ae"/>
<rect x="251" y="893" width="6" fill="#7ed8ae"/>
<rect x="257" y="893" width="6" fill="#a2deb4"/>
<rect x="263" y="893" width="6" fill="#b4e4ae"/>
<rect x="269" y="893" width="6" fill="#bae4ae"/>
<rect x="275" y="893" width="6" fill="#c0e4a2"/>
<rect x="281" y="893" width="6" fill="#c0ea96"/>
<rect x="287" y="893" width="6" fill="#c6ea8a"/>
<rect x="293" y="893" width="6" fill="#ccea84"/>
<rect x="299" y="893" width="6" fill="#d8ea7e"/>
<rect x="305" y="893" width="6" fill="#def084"/>
<rect x="311" y="893" width="6" fill="#eaf08a"/>
<rect x="317" y="893" width="6" fill="#f0ea90"/>
<rect x="323" y="893" width="6" fill="#f0e490"/>
<rect x="329" y="893" width="6" fill="#f0de8a"/>
<rect x="335" y="893" width="6" fill="#f0d884"/>
<rect x="341" y="893" width="6" fill="#f0cc7e"/>
<rect x="347" y="893" width="6" fill="#f0cc78"/>
<rect x="353" y="893" width="6" fill="#f0c672"/>
<rect x="359" y="893" width="6" fill="#f0c06c"/>
<rect x="365" y="893" width="6" fill="#f0ba66"/>
<rect x="371" y="893" width="6" fill="#f6b460"/>
<rect x="377" y="893" width="6" fill="#f6ae54"/>
<rect x="383" y="893" width="6" fill="#f6a84e"/>
<rect x="389" y="893" width="6" fill="#f6a242"/>
<rect x="395" y="893" width="6" fill="#f69c30"/>
<rect x="401" y="893" width="6" fill="#f69024"/>
<rect x="407" y="893" width="6" fill="#f68a0c"/>
<rect x="413" y="893" width="6" fill="#f68406"/>
<rect x="419" y="893" width="6" fill="#f67e06"/>
<rect x="425" y="893" width="6" fill="#f67806"/>
<rect x="431" y="893" width="6" fill="#f6720c"/>
<rect x="437" y="893" width="6" fill="#f66c0c"/>
<rect x="443" y="893" width="6" fill="#f66c12"/>
<rect x="119" y="899" width="12" fill="#78cca8"/>
<rect x="131" y="899" width="60" fill="#78d2ae"/>
<rect x="191" y="899" width="12" fill="#7ed2ae"/>
<rect x="203" y="899" width="6" fill="#84d2ae"/>
<rect x="209" y="899" width="18" fill="#84ccae"/>
<rect x="227" y="899" width="6" fill="#84d2ae"/>
<rect x="233" y="899" width="6" fill="#7ed2b4"/>
<rect x="239" y="899" width="6" fill="#72d2b4"/>
<rect x="245" y="899" width="6" fill="#6cd8ba"/>
<rect x="251" y="899" width="6" fill="#90deba"/>
<rect x="257" y="899" width="6" fill="#a8deba"/>
<rect x="263" y="899" width="6" fill="#b4e4ba"/>
<rect x="269" y="899" width="6" fill="#c0e4b4"/>
<rect x="275" y="899" width="6" fill="#c6eaae"/>
<rect x="281" y="899" width="6" fill="#c6eaa2"/>
<rect x="287" y="899" width="6" fill="#ccea96"/>
<rect x="293" y="899" width="6" fill="#d2ea90"/>
<rect x="299" y="899" width="6" fill="#d8ea8a"/>
<rect x="305" y="899" width="6" fill="#e4f090"/>
<rect x="311" y="899" width="6" fill="#f0ea90"/>
<rect x="317" y="899" width="6" fill="#f0e490"/>
<rect x="323" y="899" width="6" fill="#f0d890"/>
<rect x="329" y="899" width="6" fill="#f0d290"/>
<rect x="335" y="899" width="6" fill="#f0cc8a"/>
<rect x="341" y="899" width="6" fill="#f0c684"/>
<rect x="347" y="899" width="6" fill="#f0c07e"/>
<rect x="353" y="899" width="6" fill="#f0c078"/>
<rect x="359" y="899" width="6" fill="#f0b472"/>
<rect x="365" y="899" width="6" fill="#f0b46c"/>
<rect x="371" y="899" width="6" fill="#f6ae66"/>
<rect x="377" y="899" width="6" fill="#f6a85a"/>
<rect x="383" y="899" width="6" fill="#f6a254"/>
<rect x="389" y="899" width="6" fill="#f69648"/>
<rect x="395" y="899" width="6" fill="#f6903c"/>
<rect x="401" y="899" width="6" fill="#f68a30"/>
<rect x="407" y="899" width="6" fill="#f68424"/>
<rect x="413" y="899" width="6" fill="#f67812"/>
<rect x="419" y="899" width="6" fill="#f67806"/>
<rect x="425" y="899" width="6" fill="#f67206"/>
<rect x="431" y="899" width="6" fill="#f66c0c"/>
<rect x="437" y="899" width="6" fill="#f6660c"/>
<rect x="443" y="899" width="6" fill="#f66612"/>
<rect x="449" y="899" width="6" fill="#f66618"/>
<rect x="125" y="905" width="66" fill="#78d2b4"/>
<rect x="191" y="905" width="12" fill="#7ed2b4"/>
<rect x="203" y="905" width="12" fill="#84d2b4"/>
<rect x="215" y="905" width="6" fill="#84ccb4"/>
<rect x="221" y="905" width="6" fill="#84d2b4"/>
<rect x="227" y="905" width="6" fill="#7ed2ba"/>
<rect x="233" y="905" width="6" fill="#78d2ba"/>
<rect x="239" y="905" width="12" fill="#6cd8c0"/>
<rect x="251" y="905" width="6" fill="#96dec6"/>
<rect x="257" y="905" width="6" fill="#b4e4c6"/>
<rect x="263" y="905" width="6" fill="#bae4c6"/>
<rect x="269" y="905" width="6" fill="#c6eac0"/>
<rect x="275" y="905" width="6" fill="#cceaba"/>
<rect x="281" y="905" width="6" fill="#ccf0ae"/>
<rect x="287" y="905" width="6" fill="#d2f0a8"/>
<rect x="293" y="905" width="6" fill="#d8f09c"/>
<rect x="299" y="905" width="6" fill="#e4f09c"/>
<rect x="305" y="905" width="6" fill="#eaf09c"/>
<rect x="311" y="905" width="6" fill="#f0e496"/>
<rect x="317" y="905" width="6" fill="#f0d896"/>
<rect x="323" y="905" width="6" fill="#f0d296"/>
<rect x="329" y="905" width="6" fill="#f0cc96"/>
<rect x="335" y="905" width="6" fill="#f0c68a"/>
<rect x="341" y="905" width="6" fill="#f0c084"/>
<rect x="347" y="905" width="6" fill="#f0ba7e"/>
<rect x="353" y="905" width="6" fill="#f0b478"/>
<rect x="359" y="905" width="6" fill="#f0ae72"/>
<rect x="365" y="905" width="6" fill="#f0a86c"/>
<rect x="371" y="905" width="6" fill="#f0a266"/>
<rect x="377" y="905" width="6" fill="#f69c60"/>
<rect x="383" y="905" width="6" fill="#f6965a"/>
<rect x="389" y="905" width="6" fill="#f68a4e"/>
<rect x="395" y="905" width="6" fill="#f68442"/>
<rect x="401" y="905" width="6" fill="#f67e3c"/>
<rect x="407" y="905" width="6" fill="#f67830"/>
<rect x="413" y="905" width="6" fill="#f67224"/>
<rect x="419" y="905" width="6" fill="#f66c18"/>
<rect x="425" y="905" width="6" fill="#f6660c"/>
<rect x="431" y="905" width="12" fill="#f6600c"/>
<rect x="443" y="905" width="6" fill="#f66012"/>
<rect x="449" y="905" width="6" fill="#f65a18"/>
<rect x="455" y="905" width="6" fill="#f05a1e"/>
<rect x="125" y="911" width="18" fill="#72d2ba"/>
<rect x="143" y="911" width="12" fill="#72d2c0"/>
<rect x="155" y="911" width="24" fill="#78d2c0"/>
<rect x="179" y="911" width="12" fill="#78d2ba"/>
<rect x="191" y="911" width="12" fill="#7ed2ba"/>
<rect x="203" y="911" width="18" fill="#84d2ba"/>
<rect x="221" y="911" width="6" fill="#84d2c0"/>
<rect x="227" y="911" width="6" fill="#7ed2c0"/>
<rect x="233" y="911" width="6" fill="#72d2c6"/>
<rect x="239" y="911" width="6" fill="#66d8cc"/>
<rect x="245" y="911" width="6" fill="#72d8cc"/>
<rect x="251" y="911" width="6" fill="#9cded2"/>
<rect x="257" y="911" width="6" fill="#b4e4d2"/>
<rect x="263" y="911" width="6" fill="#c0ead2"/>
<rect x="269" y="911" width="6" fill="#ccf0cc"/>
<rect x="275" y="911" width="6" fill="#ccf0c6"/>
<rect x="281" y="911" width="6" fill="#d2f0c0"/>
<rect x="287" y="911" width="6" fill="#d8f0b4"/>
<rect x="293" y="911" width="6" fill="#def0ae"/>
<rect x="299" y="911" width="6" fill="#eaf0ae"/>
<rect x="305" y="911" width="6" fill="#eae4a8"/>
<rect x="311" y="911" width="6" fill="#ead89c"/>
<rect x="317" y="911" width="6" fill="#ead29c"/>
<rect x="323" y="911" width="6" fill="#f0cc96"/>
<rect x="329" y="911" width="6" fill="#f0c090"/>
<rect x="335" y="911" width="6" fill="#f0c08a"/>
<rect x="341" y="911" width="6" fill="#f0ba84"/>
<rect x="347" y="911" width="6" fill="#f0b478"/>
<rect x="353" y="911" width="6" fill="#f0a878"/>
<rect x="359" y="911" width="6" fill="#f0a272"/>
<rect x="365" y="911" width="6" fill="#f09c6c"/>
<rect x="371" y="911" width="6" fill="#f0966c"/>
<rect x="377" y="911" width="6" fill="#f09060"/>
<rect x="383" y="911" width="6" fill="#f6845a"/>
<rect x="389" y="911" width="6" fill="#f67e54"/>
<rect x="395" y="911" width="6" fill="#f67848"/>
<rect x="401" y="911" width="6" fill="#f67242"/>
<rect x="407" y="911" width="6" fill="#f66c36"/>
<rect x="413" y="911" width="6" fill="#f66630"/>
<rect x="419" y="911" width="6" fill="#f6602a"/>
<rect x="425" y="911" width="6" fill="#f6601e"/>
<rect x="431" y="911" width="6" fill="#f65a12"/>
<rect x="437" y="911" width="6" fill="#f6540c"/>
<rect x="443" y="911" width="6" fill="#f65412"/>
<rect x="449" y="911" width="6" fill="#f05418"/>
<rect x="455" y="911" width="6" fill="#f04e1e"/>
<rect x="461" y="911" width="6" fill="#f04e24"/>
<rect x="125" y="917" width="18" fill="#72d2c0"/>
<rect x="143" y="917" width="30" fill="#72d2c6"/>
<rect x="173" y="917" width="12" fill="#78d2c6"/>
<rect x="185" y="917" width="12" fill="#78d2c0"/>
<rect x="197" y="917" width="12" fill="#7ed2c0"/>
<rect x="209" y="917" width="6" fill="#84d2c0"/>
<rect x="215" y="917" width="12" fill="#7ed2c6"/>
<rect x="227" y="917" width="6" fill="#78d2cc"/>
<rect x="233" y="917" width="6" fill="#6cd8cc"/>
<rect x="239" y="917" width="6" fill="#60d8d2"/>
<rect x="245" y="917" width="6" fill="#7eded8"/>
<rect x="251" y="917" width="6" fill="#a2ded8"/>
<rect x="257" y="917" width="6" fill="#bae4de"/>
<rect x="263" y="917" width="6" fill="#c6ead8"/>
<rect x="269" y="917" width="6" fill="#ccf0d8"/>
<rect x="275" y="917" width="6" fill="#d8f0d8"/>
<rect x="281" y="917" width="6" fill="#d8f0d2"/>
<rect x="287" y="917" width="6" fill="#def0cc"/>
<rect x="293" y="917" width="6" fill="#e4f0c6"/>
<rect x="299" y="917" width="6" fill="#f0eaba"/>
<rect x="305" y="917" width="6" fill="#eadeae"/>
<rect x="311" y="917" width="6" fill="#ead2a8"/>
<rect x="317" y="917" width="6" fill="#eac69c"/>
<rect x="323" y="917" width="6" fill="#f0c096"/>
<rect x="329" y="917" width="6" fill="#f0ba90"/>
<rect x="335" y="917" width="6" fill="#f0b484"/>
<rect x="341" y="917" width="6" fill="#f0ae7e"/>
<rect x="347" y="917" width="6" fill="#f0a878"/>
<rect x="353" y="917" width="6" fill="#f09c72"/>
<rect x="359" y="917" width="6" fill="#f09672"/>
<rect x="365" y="917" width="6" fill="#f09072"/>
<rect x="371" y="917" width="6" fill="#f0846c"/>
<rect x="377" y="917" width="6" fill="#f08466"/>
<rect x="383" y="917" width="6" fill="#f07860"/>
<rect x="389" y="917" width="6" fill="#f67254"/>
<rect x="395" y="917" width="6" fill="#f66c4e"/>
<rect x="401" y="917" width="6" fill="#f66648"/>
<rect x="407" y="917" width="12" fill="#f6603c"/>
<rect x="419" y="917" width="6" fill="#f65a30"/>
<rect x="425" y="917" width="6" fill="#f65430"/>
<rect x="431" y="917" width="6" fill="#f64e2a"/>
<rect x="437" y="917" width="6" fill="#f6481e"/>
<rect x="443" y="917" width="6" fill="#f04818"/>
<rect x="449" y="917" width="6" fill="#f0481e"/>
<rect x="455" y="917" width="6" fill="#f04224"/>
<rect x="461" y="917" width="6" fill="#f0422a"/>
<rect x="467" y="917" width="6" fill="#f04230"/>
<rect x="473" y="917" width="6" fill="#f04236"/>
<rect x="125" y="923" width="12" fill="#6cd2c6"/>
<rect x="137" y="923" width="18" fill="#6cd2cc"/>
<rect x="155" y="923" width="24" fill="#72d2cc"/>
<rect x="179" y="923" width="24" fill="#78d2cc"/>
<rect x="203" y="923" width="12" fill="#7ed2cc"/>
<rect x="215" y="923" width="6" fill="#78d2cc"/>
<rect x="221" y="923" width="6" fill="#78d2d2"/>
<rect x="227" y="923" width="6" fill="#6cd8d2"/>
<rect x="233" y="923" width="6" fill="#60d8d8"/>
<rect x="239" y="923" width="6" fill="#5ad8de"/>
<rect x="245" y="923" width="6" fill="#8adede"/>
<rect x="251" y="923" width="6" fill="#a8e4e4"/>
<rect x="257" y="923" width="6" fill="#baeae4"/>
<rect x="263" y="923" width="6" fill="#ccf0e4"/>
<rect x="269" y="923" width="6" fill="#d8f6e4"/>
<rect x="275" y="923" width="6" fill="#def6e4"/>
<rect x="281" y="923" width="6" fill="#e4f6de"/>
<rect x="287" y="923" width="6" fill="#eaf6de"/>
<rect x="293" y="923" width="6" fill="#f0f0d8"/>
<rect x="299" y="923" width="6" fill="#f0e4c6"/>
<rect x="305" y="923" width="6" fill="#ead2b4"/>
<rect x="311" y="923" width="6" fill="#eac6a8"/>
<rect x="317" y="923" width="6" fill="#f0baa2"/>
<rect x="323" y="923" width="6" fill="#f0b496"/>
<rect x="329" y="923" width="6" fill="#f0ae8a"/>
<rect x="335" y="923" width="6" fill="#f0a884"/>
<rect x="341" y="923" width="6" fill="#f6a278"/>
<rect x="347" y="923" width="6" fill="#f69c72"/>
<rect x="353" y="923" width="6" fill="#f09072"/>
<rect x="359" y="923" width="6" fill="#f08a78"/>
<rect x="365" y="923" width="6" fill="#f07e72"/>
<rect x="371" y="923" width="6" fill="#f0786c"/>
<rect x="377" y="923" width="6" fill="#f0726c"/>
<rect x="383" y="923" width="6" fill="#f06c60"/>
<rect x="389" y="923" width="6" fill="#f6665a"/>
<rect x="395" y="923" width="6" fill="#f66054"/>
<rect x="401" y="923" width="6" fill="#f66048"/>
<rect x="407" y="923" width="6" fill="#f65a42"/>
<rect x="413" y="923" width="6" fill="#f6543c"/>
<rect x="419" y="923" width="6" fill="#f64e3c"/>
<rect x="425" y="923" width="6" fill="#f64836"/>
<rect x="431" y="923" width="6" fill="#f04836"/>
<rect x="437" y="923" width="6" fill="#f04230"/>
<rect x="443" y="923" width="6" fill="#f03c2a"/>
<rect x="449" y="923" width="12" fill="#f03c24"/>
<rect x="461" y="923" width="6" fill="#f03c2a"/>
<rect x="467" y="923" width="6" fill="#f03c30"/>
<rect x="473" y="923" width="6" fill="#f03636"/>
<rect x="479" y="923" width="6" fill="#f0303c"/>
<rect x="125" y="929" width="6" fill="#6cd2cc"/>
<rect x="131" y="929" width="24" fill="#6cd2d2"/>
<rect x="155" y="929" width="18" fill="#6cd2d8"/>
<rect x="173" y="929" width="12" fill="#72d2d8"/>
<rect x="185" y="929" width="30" fill="#78d2d2"/>
<rect x="215" y="929" width="6" fill="#78d2d8"/>
<rect x="221" y="929" width="6" fill="#6cd8d8"/>
<rect x="227" y="929" width="6" fill="#66d8de"/>
<rect x="233" y="929" width="6" fill="#54d8de"/>
<rect x="239" y="929" width="6" fill="#60dee4"/>
<rect x="245" y="929" width="6" fill="#90e4ea"/>
<rect x="251" y="929" width="6" fill="#aeeaea"/>
<rect x="257" y="929" width="6" fill="#c0f0f0"/>
<rect x="263" y="929" width="6" fill="#d2f0f0"/>
<rect x="269" y="929" width="6" fill="#def6f0"/>
<rect x="275" y="929" width="6" fill="#eafcf0"/>
<rect x="281" y="929" width="6" fill="#f0f6f0"/>
<rect x="287" y="929" width="6" fill="#f6f6ea"/>
<rect x="293" y="929" width="6" fill="#f6eade"/>
<rect x="299" y="929" width="6" fill="#f0d8cc"/>
<rect x="305" y="929" width="6" fill="#f0c6c0"/>
<rect x="311" y="929" width="6" fill="#f0baae"/>
<rect x="317" y="929" width="6" fill="#f0aea2"/>
<rect x="323" y="929" width="6" fill="#f0a89c"/>
<rect x="329" y="929" width="6" fill="#f0a290"/>
<rect x="335" y="929" width="6" fill="#f09c84"/>
<rect x="341" y="929" width="6" fill="#f69678"/>
<rect x="347" y="929" width="6" fill="#f69072"/>
<rect x="353" y="929" width="6" fill="#f08472"/>
<rect x="359" y="929" width="6" fill="#f07878"/>
<rect x="365" y="929" width="6" fill="#f07278"/>
<rect x="371" y="929" width="6" fill="#f06c72"/>
<rect x="377" y="929" width="6" fill="#f0666c"/>
<rect x="383" y="929" width="6" fill="#f06066"/>
<rect x="389" y="929" width="6" fill="#f0605a"/>
<rect x="395" y="929" width="6" fill="#f65a54"/>
<rect x="401" y="929" width="6" fill="#f6544e"/>
<rect x="407" y="929" width="6" fill="#f64e48"/>
<rect x="413" y="929" width="6" fill="#f04e42"/>
<rect x="419" y="929" width="6" fill="#f04842"/>
<rect x="425" y="929" width="6" fill="#f04242"/>
<rect x="431" y="929" width="6" fill="#f03c42"/>
<rect x="437" y="929" width="6" fill="#f03642"/>
<rect x="443" y="929" width="6" fill="#f0303c"/>
<rect x="449" y="929" width="6" fill="#f03036"/>
<rect x="455" y="929" width="12" fill="#f0302a"/>
<rect x="467" y="929" width="6" fill="#f02a30"/>
<rect x="473" y="929" width="6" fill="#f02436"/>
<rect x="479" y="929" width="6" fill="#f01e36"/>
<rect x="485" y="929" width="6" fill="#f0183c"/>
<rect x="131" y="935" width="18" fill="#66d2d8"/>
<rect x="149" y="935" width="30" fill="#6cd2de"/>
<rect x="179" y="935" width="6" fill="#6cd8de"/>
<rect x="185" y="935" width="12" fill="#72d8de"/>
<rect x="197" y="935" width="12" fill="#78d2de"/>
<rect x="209" y="935" width="6" fill="#72d2de"/>
<rect x="215" y="935" width="6" fill="#6cd8de"/>
<rect x="221" y="935" width="6" fill="#66d8e4"/>
<rect x="227" y="935" width="6" fill="#5ad8e4"/>
<rect x="233" y="935" width="6" fill="#4edeea"/>
<rect x="239" y="935" width="6" fill="#6ce4f0"/>
<rect x="245" y="935" width="6" fill="#96e4f0"/>
<rect x="251" y="935" width="6" fill="#b4eaf0"/>
<rect x="257" y="935" width="6" fill="#c6f0f6"/>
<rect x="263" y="935" width="6" fill="#d8f6f6"/>
<rect x="269" y="935" width="6" fill="#eafcf6"/>
<rect x="275" y="935" width="6" fill="#f6fcfc"/>
<rect x="281" y="935" width="6" fill="#fcf6fc"/>
<rect x="287" y="935" width="6" fill="#fcf0f6"/>
<rect x="293" y="935" width="6" fill="#f6d8e4"/>
<rect x="299" y="935" width="6" fill="#f0ccd2"/>
<rect x="305" y="935" width="6" fill="#f0bac0"/>
<rect x="311" y="935" width="6" fill="#f0a8b4"/>
<rect x="317" y="935" width="6" fill="#f09ca8"/>
<rect x="323" y="935" width="6" fill="#f0969c"/>
<rect x="329" y="935" width="6" fill="#f09090"/>
<rect x="335" y="935" width="6" fill="#f08a84"/>
<rect x="341" y="935" width="6" fill="#f0847e"/>
<rect x="347" y="935" width="6" fill="#f07e78"/>
<rect x="353" y="935" width="6" fill="#f07878"/>
<rect x="359" y="935" width="6" fill="#f06c78"/>
<rect x="365" y="935" width="6" fill="#f06678"/>
<rect x="371" y="935" width="6" fill="#f06072"/>
<rect x="377" y="935" width="6" fill="#f05a6c"/>
<rect x="383" y="935" width="6" fill="#f05466"/>
<rect x="389" y="935" width="6" fill="#f05460"/>
<rect x="395" y="935" width="6" fill="#f04e5a"/>
<rect x="401" y="935" width="6" fill="#f04854"/>
<rect x="407" y="935" width="6" fill="#f0484e"/>
<rect x="413" y="935" width="12" fill="#f04248"/>
<rect x="425" y="935" width="6" fill="#f03c48"/>
<rect x="431" y="935" width="6" fill="#f03648"/>
<rect x="437" y="935" width="6" fill="#f03048"/>
<rect x="443" y="935" width="6" fill="#f02a48"/>
<rect x="449" y="935" width="6" fill="#f02442"/>
<rect x="455" y="935" width="6" fill="#f0243c"/>
<rect x="461" y="935" width="6" fill="#f01e36"/>
<rect x="467" y="935" width="12" fill="#f01830"/>
<rect x="479" y="935" width="12" fill="#f01836"/>
<rect x="491" y="935" width="6" fill="#f0183c"/>
<rect x="131" y="941" width="6" fill="#60ccde"/>
<rect x="137" y="941" width="12" fill="#66ccde"/>
<rect x="149" y="941" width="12" fill="#66cce4"/>
<rect x="161" y="941" width="12" fill="#66d2e4"/>
<rect x="173" y="941" width="24" fill="#6cd2e4"/>
<rect x="197" y="941" width="6" fill="#72d2e4"/>
<rect x="203" y="941" width="6" fill="#72d2de"/>
<rect x="209" y="941" width="6" fill="#6cd2e4"/>
<rect x="215" y="941" width="6" fill="#66d2e4"/>
<rect x="221" y="941" width="6" fill="#5ad2e4"/>
<rect x="227" y="941" width="6" fill="#4ed8ea"/>
<rect x="233" y="941" width="6" fill="#48d8ea"/>
<rect x="239" y="941" width="6" fill="#78def0"/>
<rect x="245" y="941" width="6" fill="#9ce4f0"/>
<rect x="251" y="941" width="6" fill="#aee4f0"/>
<rect x="257" y="941" width="6" fill="#c6eaf6"/>
<rect x="263" y="941" width="6" fill="#d8f0f6"/>
<rect x="269" y="941" width="6" fill="#eaf0f6"/>
<rect x="275" y="941" width="6" fill="#f6f0fc"/>
<rect x="281" y="941" width="6" fill="#fceafc"/>
<rect x="287" y="941" width="6" fill="#fce4f6"/>
<rect x="293" y="941" width="6" fill="#fccce4"/>
<rect x="299" y="941" width="6" fill="#f6bad2"/>
<rect x="305" y="941" width="6" fill="#f0a8c6"/>
<rect x="311" y="941" width="6" fill="#f09cba"/>
<rect x="317" y="941" width="6" fill="#f090ae"/>
<rect x="323" y="941" width="6" fill="#f084a2"/>
<rect x="329" y="941" width="6" fill="#f07e96"/>
<rect x="335" y="941" width="6" fill="#f07890"/>
<rect x="341" y="941" width="6" fill="#f07884"/>
<rect x="347" y="941" width="6" fill="#f0727e"/>
<rect x="353" y="941" width="6" fill="#f06c7e"/>
<rect x="359" y="941" width="6" fill="#f06078"/>
<rect x="365" y="941" width="6" fill="#f05a78"/>
<rect x="371" y="941" width="6" fill="#f05478"/>
<rect x="377" y="941" width="6" fill="#f05472"/>
<rect x="383" y="941" width="6" fill="#f04e6c"/>
<rect x="389" y="941" width="6" fill="#f04866"/>
<rect x="395" y="941" width="6" fill="#f04260"/>
<rect x="401" y="941" width="6" fill="#f0425a"/>
<rect x="407" y="941" width="6" fill="#f03c54"/>
<rect x="413" y="941" width="6" fill="#f03c4e"/>
<rect x="419" y="941" width="6" fill="#f03c48"/>
<rect x="425" y="941" width="6" fill="#f0304e"/>
<rect x="431" y="941" width="6" fill="#f02a4e"/>
<rect x="437" y="941" width="6" fill="#f0244e"/>
<rect x="443" y="941" width="6" fill="#f01e4e"/>
<rect x="449" y="941" width="6" fill="#f0184e"/>
<rect x="455" y="941" width="6" fill="#f00c48"/>
<rect x="461" y="941" width="6" fill="#f00c42"/>
<rect x="467" y="941" width="6" fill="#f01236"/>
<rect x="473" y="941" width="12" fill="#f01830"/>
<rect x="485" y="941" width="6" fill="#f01e30"/>
<rect x="491" y="941" width="6" fill="#f01836"/>
<rect x="497" y="941" width="6" fill="#f0183c"/>
<rect x="131" y="947" width="12" fill="#60ccde"/>
<rect x="143" y="947" width="30" fill="#60cce4"/>
<rect x="173" y="947" width="18" fill="#66d2e4"/>
<rect x="191" y="947" width="6" fill="#6cd2e4"/>
<rect x="197" y="947" width="6" fill="#6ccce4"/>
<rect x="203" y="947" width="12" fill="#66cce4"/>
<rect x="215" y="947" width="6" fill="#60cce4"/>
<rect x="221" y="947" width="6" fill="#54d2e4"/>
<rect x="227" y="947" width="12" fill="#48d2ea"/>
<rect x="239" y="947" width="6" fill="#7ed8f0"/>
<rect x="245" y="947" width="6" fill="#96d8f0"/>
<rect x="251" y="947" width="6" fill="#aedef0"/>
<rect x="257" y="947" width="6" fill="#c0def0"/>
<rect x="263" y="947" width="6" fill="#d8e4f0"/>
<rect x="269" y="947" width="6" fill="#e4e4f0"/>
<rect x="275" y="947" width="6" fill="#f0def6"/>
<rect x="281" y="947" width="6" fill="#fcd8f6"/>
<rect x="287" y="947" width="6" fill="#fcd2f0"/>
<rect x="293" y="947" width="6" fill="#fcc0de"/>
<rect x="299" y="947" width="6" fill="#f6a8d2"/>
<rect x="305" y="947" width="6" fill="#f09cc6"/>
<rect x="311" y="947" width="6" fill="#f08aba"/>
<rect x="317" y="947" width="6" fill="#f07eb4"/>
<rect x="323" y="947" width="6" fill="#f078a8"/>
<rect x="329" y="947" width="6" fill="#f06c9c"/>
<rect x="335" y="947" width="6" fill="#f06c96"/>
<rect x="341" y="947" width="6" fill="#f06690"/>
<rect x="347" y="947" width="6" fill="#f06084"/>
<rect x="353" y="947" width="6" fill="#f05a84"/>
<rect x="359" y="947" width="12" fill="#f0547e"/>
<rect x="371" y="947" width="6" fill="#f04e78"/>
<rect x="377" y="947" width="6" fill="#f04878"/>
<rect x="383" y="947" width="6" fill="#f04272"/>
<rect x="389" y="947" width="6" fill="#f03c6c"/>
<rect x="395" y="947" width="6" fill="#f03c66"/>
<rect x="401" y="947" width="6" fill="#f03660"/>
<rect x="407" y="947" width="6" fill="#f0365a"/>
<rect x="413" y="947" width="6" fill="#f03054"/>
<rect x="419" y="947" width="6" fill="#f0304e"/>
<rect x="425" y="947" width="6" fill="#f02a54"/>
<rect x="431" y="947" width="6" fill="#f01e54"/>
<rect x="437" y="947" width="6" fill="#f01254"/>
<rect x="443" y="947" width="12" fill="#f00654"/>
<rect x="455" y="947" width="6" fill="#f00c4e"/>
<rect x="461" y="947" width="6" fill="#f00c48"/>
<rect x="467" y="947" width="6" fill="#f01842"/>
<rect x="473" y="947" width="6" fill="#f0183c"/>
<rect x="479" y="947" width="12" fill="#f01e30"/>
<rect x="491" y="947" width="6" fill="#f01836"/>
<rect x="497" y="947" width="12" fill="#f0183c"/>
<rect x="131" y="953" width="6" fill="#5ac6de"/>
<rect x="137" y="953" width="12" fill="#5ac6e4"/>
<rect x="149" y="953" width="6" fill="#60c6e4"/>
<rect x="155" y="953" width="6" fill="#60cce4"/>
<rect x="161" y="953" width="42" fill="#60ccea"/>
<rect x="203" y="953" width="6" fill="#60cce4"/>
<rect x="209" y="953" width="6" fill="#5acce4"/>
<rect x="215" y="953" width="6" fill="#54ccea"/>
<rect x="221" y="953" width="6" fill="#48ccea"/>
<rect x="227" y="953" width="6" fill="#42ccea"/>
<rect x="233" y="953" width="6" fill="#54ccea"/>
<rect x="239" y="953" width="6" fill="#84d2ea"/>
<rect x="245" y="953" width="6" fill="#9cd2f0"/>
<rect x="251" y="953" width="6" fill="#aed2f0"/>
<rect x="257" y="953" width="6" fill="#c0d2f0"/>
<rect x="263" y="953" width="6" fill="#d2d8f0"/>
<rect x="269" y="953" width="6" fill="#e4d2f0"/>
<rect x="275" y="953" width="6" fill="#f0d2f0"/>
<rect x="281" y="953" width="6" fill="#fcccf0"/>
<rect x="287" y="953" width="6" fill="#fcc0ea"/>
<rect x="293" y="953" width="6" fill="#fcaede"/>
<rect x="299" y="953" width="6" fill="#f69cd2"/>
<rect x="305" y="953" width="6" fill="#f08ac6"/>
<rect x="311" y="953" width="6" fill="#f07eba"/>
<rect x="317" y="953" width="6" fill="#f072b4"/>
<rect x="323" y="953" width="6" fill="#f066ae"/>
<rect x="329" y="953" width="6" fill="#f060a2"/>
<rect x="335" y="953" width="6" fill="#f05a9c"/>
<rect x="341" y="953" width="6" fill="#f05a96"/>
<rect x="347" y="953" width="6" fill="#f05490"/>
<rect x="353" y="953" width="6" fill="#f04e8a"/>
<rect x="359" y="953" width="6" fill="#f04e84"/>
<rect x="365" y="953" width="6" fill="#f04884"/>
<rect x="371" y="953" width="6" fill="#f0427e"/>
<rect x="377" y="953" width="12" fill="#f03c78"/>
<rect x="389" y="953" width="6" fill="#f03672"/>
<rect x="395" y="953" width="6" fill="#f0306c"/>
<rect x="401" y="953" width="6" fill="#f03066"/>
<rect x="407" y="953" width="6" fill="#f02a60"/>
<rect x="413" y="953" width="6" fill="#f0245a"/>
<rect x="419" y="953" width="6" fill="#f02454"/>
<rect x="425" y="953" width="6" fill="#f01854"/>
<rect x="431" y="953" width="6" fill="#f00c5a"/>
<rect x="437" y="953" width="12" fill="#f0005a"/>
<rect x="449" y="953" width="6" fill="#f00654"/>
<rect x="455" y="953" width="6" fill="#f00c54"/>
<rect x="461" y="953" width="6" fill="#f0124e"/>
<rect x="467" y="953" width="6" fill="#f01848"/>
<rect x="473" y="953" width="6" fill="#f01842"/>
<rect x="479" y="953" width="6" fill="#f01e3c"/>
<rect x="485" y="953" width="6" fill="#f01e30"/>
<rect x="491" y="953" width="6" fill="#f01830"/>
<rect x="497" y="953" width="6" fill="#f01836"/>
<rect x="503" y="953" width="12" fill="#f0183c"/>
<rect x="131" y="959" width="6" fill="#5ac0de"/>
<rect x="137" y="959" width="6" fill="#5ac0e4"/>
<rect x="143" y="959" width="12" fill="#5ac6e4"/>
<rect x="155" y="959" width="6" fill="#5ac6ea"/>
<rect x="161" y="959" width="6" fill="#5accea"/>
<rect x="167" y="959" width="30" fill="#5accf0"/>
<rect x="197" y="959" width="6" fill="#5accea"/>
<rect x="203" y="959" width="12" fill="#54ccea"/>
<rect x="215" y="959" width="6" fill="#4ec6ea"/>
<rect x="221" y="959" width="6" fill="#42c6ea"/>
<rect x="227" y="959" width="6" fill="#3cc6ea"/>
<rect x="233" y="959" width="6" fill="#66c6ea"/>
<rect x="239" y="959" width="6" fill="#8ac6ea"/>
<rect x="245" y="959" width="6" fill="#9cccea"/>
<rect x="251" y="959" width="6" fill="#aec6ea"/>
<rect x="257" y="959" width="6" fill="#c0c6ea"/>
<rect x="263" y="959" width="6" fill="#ccc6ea"/>
<rect x="269" y="959" width="6" fill="#dec6ea"/>
<rect x="275" y="959" width="6" fill="#eac0ea"/>
<rect x="281" y="959" width="6" fill="#f6baea"/>
<rect x="287" y="959" width="6" fill="#fcaee4"/>
<rect x="293" y="959" width="6" fill="#f69cd8"/>
<rect x="299" y="959" width="6" fill="#f68acc"/>
<rect x="305" y="959" width="6" fill="#f07ec6"/>
<rect x="311" y="959" width="6" fill="#f072ba"/>
<rect x="317" y="959" width="6" fill="#f066b4"/>
<rect x="323" y="959" width="6" fill="#f060ae"/>
<rect x="329" y="959" width="6" fill="#f054a8"/>
<rect x="335" y="959" width="6" fill="#f054a2"/>
<rect x="341" y="959" width="6" fill="#f04e9c"/>
<rect x="347" y="959" width="12" fill="#f04890"/>
<rect x="359" y="959" width="6" fill="#f0428a"/>
<rect x="365" y="959" width="12" fill="#f03c84"/>
<rect x="377" y="959" width="6" fill="#f0367e"/>
<rect x="383" y="959" width="6" fill="#f03078"/>
<rect x="389" y="959" width="6" fill="#f02a78"/>
<rect x="395" y="959" width="6" fill="#f02472"/>
<rect x="401" y="959" width="6" fill="#f01e6c"/>
<rect x="407" y="959" width="6" fill="#f01e66"/>
<rect x="413" y="959" width="6" fill="#f01260"/>
<rect x="419" y="959" width="6" fill="#f00c60"/>
<rect x="425" y="959" width="18" fill="#f00060"/>
<rect x="443" y="959" width="6" fill="#f00660"/>
<rect x="449" y="959" width="6" fill="#f0065a"/>
<rect x="455" y="959" width="6" fill="#f00c5a"/>
<rect x="461" y="959" width="6" fill="#f01254"/>
<rect x="467" y="959" width="6" fill="#f0184e"/>
<rect x="473" y="959" width="12" fill="#f01848"/>
<rect x="485" y="959" width="6" fill="#f01842"/>
<rect x="491" y="959" width="6" fill="#f01836"/>
<rect x="497" y="959" width="6" fill="#f01830"/>
<rect x="503" y="959" width="6" fill="#f01836"/>
<rect x="509" y="959" width="6" fill="#f0183c"/>
<rect x="515" y="959" width="6" fill="#f0123c"/>
<rect x="137" y="965" width="12" fill="#54c0e4"/>
<rect x="149" y="965" width="6" fill="#54c0ea"/>
<rect x="155" y="965" width="6" fill="#54c6ea"/>
<rect x="161" y="965" width="12" fill="#54c6f0"/>
<rect x="173" y="965" width="6" fill="#54ccf0"/>
<rect x="179" y="965" width="12" fill="#5accf0"/>
<rect x="191" y="965" width="12" fill="#54ccf0"/>
<rect x="203" y="965" width="6" fill="#54c6f0"/>
<rect x="209" y="965" width="6" fill="#4ec6f0"/>
<rect x="215" y="965" width="6" fill="#48c6f0"/>
<rect x="221" y="965" width="12" fill="#3cc0ea"/>
<rect x="233" y="965" width="6" fill="#72c0ea"/>
<rect x="239" y="965" width="6" fill="#90c0ea"/>
<rect x="245" y="965" width="6" fill="#a2c0ea"/>
<rect x="251" y="965" width="6" fill="#aec0ea"/>
<rect x="257" y="965" width="6" fill="#c0bae4"/>
<rect x="263" y="965" width="6" fill="#ccbae4"/>
<rect x="269" y="965" width="6" fill="#d8b4e4"/>
<rect x="275" y="965" width="6" fill="#e4b4e4"/>
<rect x="281" y="965" width="6" fill="#f0a8e4"/>
<rect x="287" y="965" width="6" fill="#f6a2e4"/>
<rect x="293" y="965" width="6" fill="#f690d8"/>
<rect x="299" y="965" width="6" fill="#f07ecc"/>
<rect x="305" y="965" width="6" fill="#f072c0"/>
<rect x="311" y="965" width="6" fill="#f066ba"/>
<rect x="317" y="965" width="6" fill="#f060b4"/>
<rect x="323" y="965" width="6" fill="#f054ae"/>
<rect x="329" y="965" width="6" fill="#f04ea8"/>
<rect x="335" y="965" width="6" fill="#f048a2"/>
<rect x="341" y="965" width="6" fill="#f0489c"/>
<rect x="347" y="965" width="6" fill="#f04296"/>
<rect x="353" y="965" width="6" fill="#f03c90"/>
<rect x="359" y="965" width="6" fill="#f03c8a"/>
<rect x="365" y="965" width="6" fill="#f0368a"/>
<rect x="371" y="965" width="6" fill="#f03084"/>
<rect x="377" y="965" width="6" fill="#f02a84"/>
<rect x="383" y="965" width="6" fill="#f0247e"/>
<rect x="389" y="965" width="6" fill="#f01e78"/>
<rect x="395" y="965" width="6" fill="#f01878"/>
<rect x="401" y="965" width="6" fill="#f01272"/>
<rect x="407" y="965" width="6" fill="#f0066c"/>
<rect x="413" y="965" width="6" fill="#f0006c"/>
<rect x="419" y="965" width="18" fill="#f00066"/>
<rect x="437" y="965" width="6" fill="#f00666"/>
<rect x="443" y="965" width="6" fill="#f00660"/>
<rect x="449" y="965" width="12" fill="#f00c60"/>
<rect x="461" y="965" width="6" fill="#f0125a"/>
<rect x="467" y="965" width="6" fill="#f01254"/>
<rect x="473" y="965" width="6" fill="#f01854"/>
<rect x="479" y="965" width="6" fill="#f0184e"/>
<rect x="485" y="965" width="6" fill="#f01848"/>
<rect x="491" y="965" width="6" fill="#f01842"/>
<rect x="497" y="965" width="6" fill="#f0123c"/>
<rect x="503" y="965" width="12" fill="#f01236"/>
<rect x="515" y="965" width="12" fill="#f0123c"/>
<rect x="137" y="971" width="12" fill="#54bae4"/>
<rect x="149" y="971" width="12" fill="#54c0ea"/>
<rect x="161" y="971" width="6" fill="#54c0f0"/>
<rect x="167" y="971" width="36" fill="#54c6f0"/>
<rect x="203" y="971" width="6" fill="#4ec6f0"/>
<rect x="209" y="971" width="6" fill="#48c0f0"/>
<rect x="215" y="971" width="6" fill="#42c0f0"/>
<rect x="221" y="971" width="6" fill="#3cc0f0"/>
<rect x="227" y="971" width="6" fill="#48baea"/>
<rect x="233" y="971" width="6" fill="#78baea"/>
<rect x="239" y="971" width="6" fill="#90b4ea"/>
<rect x="245" y="971" width="6" fill="#a2b4ea"/>
<rect x="251" y="971" width="6" fill="#b4b4e4"/>
<rect x="257" y="971" width="6" fill="#c0aee4"/>
<rect x="263" y="971" width="6" fill="#ccaee4"/>
<rect x="269" y="971" width="6" fill="#d8a8e4"/>
<rect x="275" y="971" width="6" fill="#e4a2de"/>
<rect x="281" y="971" width="6" fill="#f09cde"/>
<rect x="287" y="971" width="6" fill="#f696de"/>
<rect x="293" y="971" width="6" fill="#f084d2"/>
<rect x="299" y="971" width="6" fill="#f078c6"/>
<rect x="305" y="971" width="6" fill="#f06cc0"/>
<rect x="311" y="971" width="6" fill="#f060ba"/>
<rect x="317" y="971" width="6" fill="#f05ab4"/>
<rect x="323" y="971" width="6" fill="#f04eae"/>
<rect x="329" y="971" width="6" fill="#f048a8"/>
<rect x="335" y="971" width="6" fill="#f042a2"/>
<rect x="341" y="971" width="6" fill="#f03c9c"/>
<rect x="347" y="971" width="6" fill="#f03c96"/>
<rect x="353" y="971" width="6" fill="#f03696"/>
<rect x="359" y="971" width="6" fill="#f03090"/>
<rect x="365" y="971" width="6" fill="#f02a8a"/>
<rect x="371" y="971" width="6" fill="#f0248a"/>
<rect x="377" y="971" width="6" fill="#f01e84"/>
<rect x="383" y="971" width="6" fill="#f01884"/>
<rect x="389" y="971" width="6" fill="#f00c7e"/>
<rect x="395" y="971" width="6" fill="#f0067e"/>
<rect x="401" y="971" width="12" fill="#f00078"/>
<rect x="413" y="971" width="12" fill="#f00072"/>
<rect x="425" y="971" width="12" fill="#f0006c"/>
<rect x="437" y="971" width="12" fill="#f0066c"/>
<rect x="449" y="971" width="12" fill="#f00c66"/>
<rect x="461" y="971" width="6" fill="#f00c60"/>
<rect x="467" y="971" width="12" fill="#f0125a"/>
<rect x="479" y="971" width="6" fill="#f01854"/>
<rect x="485" y="971" width="6" fill="#f0184e"/>
<rect x="491" y="971" width="6" fill="#f0124e"/>
<rect x="497" y="971" width="6" fill="#f01248"/>
<rect x="503" y="971" width="6" fill="#f01242"/>
<rect x="509" y="971" width="6" fill="#f0123c"/>
<rect x="515" y="971" width="6" fill="#f01236"/>
<rect x="521" y="971" width="6" fill="#f0123c"/>
<rect x="137" y="977" width="12" fill="#4eb4e4"/>
<rect x="149" y="977" width="12" fill="#4ebaea"/>
<rect x="161" y="977" width="6" fill="#4ec0f0"/>
<rect x="167" y="977" width="24" fill="#54c0f0"/>
<rect x="191" y="977" width="6" fill="#54c6f0"/>
<rect x="197" y="977" width="6" fill="#54c0f0"/>
<rect x="203" y="977" width="6" fill="#4ec0f0"/>
<rect x="209" y="977" width="6" fill="#48c0f0"/>
<rect x="215" y="977" width="6" fill="#42baf0"/>
<rect x="221" y="977" width="6" fill="#3cbaf0"/>
<rect x="227" y="977" width="6" fill="#5ab4ea"/>
<rect x="233" y="977" width="6" fill="#84b4ea"/>
<rect x="239" y="977" width="6" fill="#96aeea"/>
<rect x="245" y="977" width="6" fill="#a8a8e4"/>
<rect x="251" y="977" width="6" fill="#b4a8e4"/>
<rect x="257" y="977" width="6" fill="#c0a8e4"/>
<rect x="263" y="977" width="6" fill="#cca2de"/>
<rect x="269" y="977" width="6" fill="#d89cde"/>
<rect x="275" y="977" width="6" fill="#de9cde"/>
<rect x="281" y="977" width="6" fill="#ea96d8"/>
<rect x="287" y="977" width="6" fill="#f08ad8"/>
<rect x="293" y="977" width="6" fill="#f07ecc"/>
<rect x="299" y="977" width="6" fill="#f072c6"/>
<rect x="305" y="977" width="6" fill="#ea66ba"/>
<rect x="311" y="977" width="6" fill="#ea60b4"/>
<rect x="317" y="977" width="6" fill="#ea54b4"/>
<rect x="323" y="977" width="6" fill="#ea4eae"/>
<rect x="329" y="977" width="6" fill="#f048a8"/>
<rect x="335" y="977" width="6" fill="#f042a2"/>
<rect x="341" y="977" width="6" fill="#f03c9c"/>
<rect x="347" y="977" width="6" fill="#f0369c"/>
<rect x="353" y="977" width="6" fill="#f03096"/>
<rect x="359" y="977" width="6" fill="#f02a90"/>
<rect x="365" y="977" width="6" fill="#f02490"/>
<rect x="371" y="977" width="6" fill="#f0188a"/>
<rect x="377" y="977" width="6" fill="#f0128a"/>
<rect x="383" y="977" width="6" fill="#f00684"/>
<rect x="389" y="977" width="12" fill="#f00084"/>
<rect x="401" y="977" width="12" fill="#f0007e"/>
<rect x="413" y="977" width="18" fill="#f00078"/>
<rect x="431" y="977" width="12" fill="#f00672"/>
<rect x="443" y="977" width="6" fill="#f0066c"/>
<rect x="449" y="977" width="12" fill="#f00c6c"/>
<rect x="461" y="977" width="6" fill="#f00c66"/>
<rect x="467" y="977" width="12" fill="#f01260"/>
<rect x="479" y="977" width="6" fill="#f0125a"/>
<rect x="485" y="977" width="12" fill="#f01254"/>
<rect x="497" y="977" width="12" fill="#f0124e"/>
<rect x="509" y="977" width="6" fill="#f01248"/>
<rect x="515" y="977" width="6" fill="#f01242"/>
<rect x="137" y="983" width="6" fill="#48aee4"/>
<rect x="143" y="983" width="12" fill="#4eb4e4"/>
<rect x="155" y="983" width="12" fill="#4eb4ea"/>
<rect x="167" y="983" width="6" fill="#4ebaf0"/>
<rect x="173" y="983" width="12" fill="#54baf0"/>
<rect x="185" y="983" width="18" fill="#54c0f0"/>
<rect x="203" y="983" width="6" fill="#4ec0f0"/>
<rect x="209" y="983" width="6" fill="#48baf0"/>
<rect x="215" y="983" width="6" fill="#42b4f0"/>
<rect x="221" y="983" width="6" fill="#3cb4ea"/>
<rect x="227" y="983" width="6" fill="#6caeea"/>
<rect x="233" y="983" width="6" fill="#84a8ea"/>
<rect x="239" y="983" width="6" fill="#9ca8e4"/>
<rect x="245" y="983" width="6" fill="#a8a2e4"/>
<rect x="251" y="983" width="6" fill="#b49ce4"/>
<rect x="257" y="983" width="6" fill="#c09cde"/>
<rect x="263" y="983" width="6" fill="#c696de"/>
<rect x="269" y="983" width="6" fill="#d296d8"/>
<rect x="275" y="983" width="6" fill="#de90d8"/>
<rect x="281" y="983" width="6" fill="#e48ad8"/>
<rect x="287" y="983" width="6" fill="#f084d8"/>
<rect x="293" y="983" width="6" fill="#ea78cc"/>
<rect x="299" y="983" width="6" fill="#ea6cc0"/>
<rect x="305" y="983" width="6" fill="#ea66ba"/>
<rect x="311" y="983" width="6" fill="#ea5ab4"/>
<rect x="317" y="983" width="6" fill="#ea54ae"/>
<rect x="323" y="983" width="6" fill="#ea4ea8"/>
<rect x="329" y="983" width="6" fill="#ea48a8"/>
<rect x="335" y="983" width="6" fill="#f03ca2"/>
<rect x="341" y="983" width="6" fill="#f0369c"/>
<rect x="347" y="983" width="6" fill="#f0309c"/>
<rect x="353" y="983" width="6" fill="#f02496"/>
<rect x="359" y="983" width="6" fill="#f01e90"/>
<rect x="365" y="983" width="6" fill="#f01290"/>
<rect x="371" y="983" width="6" fill="#f00690"/>
<rect x="377" y="983" width="12" fill="#f0008a"/>
<rect x="389" y="983" width="24" fill="#f00084"/>
<rect x="413" y="983" width="12" fill="#f0007e"/>
<rect x="425" y="983" width="6" fill="#f0067e"/>
<rect x="431" y="983" width="12" fill="#f00678"/>
<rect x="443" y="983" width="6" fill="#f00c78"/>
<rect x="449" y="983" width="12" fill="#f00c72"/>
<rect x="461" y="983" width="6" fill="#f00c6c"/>
<rect x="467" y="983" width="6" fill="#f00c66"/>
<rect x="473" y="983" width="6" fill="#f01266"/>
<rect x="479" y="983" width="6" fill="#f01260"/>
<rect x="485" y="983" width="12" fill="#f0125a"/>
<rect x="497" y="983" width="12" fill="#f01254"/>
<rect x="143" y="989" width="6" fill="#48a8e4"/>
<rect x="149" y="989" width="6" fill="#48aee4"/>
<rect x="155" y="989" width="6" fill="#48aeea"/>
<rect x="161" y="989" width="6" fill="#4eaeea"/>
<rect x="167" y="989" width="6" fill="#4eb4ea"/>
<rect x="173" y="989" width="6" fill="#4eb4f0"/>
<rect x="179" y="989" width="6" fill="#54b4f0"/>
<rect x="185" y="989" width="24" fill="#54baf0"/>
<rect x="209" y="989" width="6" fill="#48b4f0"/>
<rect x="215" y="989" width="6" fill="#42aeea"/>
<rect x="221" y="989" width="6" fill="#48a8ea"/>
<rect x="227" y="989" width="6" fill="#72a2ea"/>
<rect x="233" y="989" width="6" fill="#8a9ce4"/>
<rect x="239" y="989" width="6" fill="#9c9ce4"/>
<rect x="245" y="989" width="6" fill="#a896e4"/>
<rect x="251" y="989" width="6" fill="#ae96de"/>
<rect x="257" y="989" width="6" fill="#ba90d8"/>
<rect x="263" y="989" width="6" fill="#c690d8"/>
<rect x="269" y="989" width="6" fill="#cc8ad8"/>
<rect x="275" y="989" width="6" fill="#d88ad2"/>
<rect x="281" y="989" width="6" fill="#e484d2"/>
<rect x="287" y="989" width="6" fill="#ea84d2"/>
<rect x="293" y="989" width="6" fill="#ea78cc"/>
<rect x="299" y="989" width="6" fill="#e46cc0"/>
<rect x="305" y="989" width="6" fill="#e466ba"/>
<rect x="311" y="989" width="6" fill="#e460b4"/>
<rect x="317" y="989" width="6" fill="#ea54ae"/>
<rect x="323" y="989" width="6" fill="#ea4ea8"/>
<rect x="329" y="989" width="6" fill="#ea42a8"/>
<rect x="335" y="989" width="6" fill="#ea3ca2"/>
<rect x="341" y="989" width="6" fill="#f0309c"/>
<rect x="347" y="989" width="6" fill="#f0249c"/>
<rect x="353" y="989" width="6" fill="#f01896"/>
<rect x="359" y="989" width="6" fill="#f00c90"/>
<rect x="365" y="989" width="18" fill="#f00090"/>
<rect x="383" y="989" width="24" fill="#f0008a"/>
<rect x="407" y="989" width="6" fill="#f00084"/>
<rect x="413" y="989" width="18" fill="#f00684"/>
<rect x="431" y="989" width="12" fill="#f00c7e"/>
<rect x="443" y="989" width="18" fill="#f00c78"/>
<rect x="461" y="989" width="6" fill="#f00c72"/>
<rect x="467" y="989" width="12" fill="#f00c6c"/>
<rect x="479" y="989" width="6" fill="#f01266"/>
<rect x="485" y="989" width="12" fill="#f01260"/>
<rect x="143" y="995" width="6" fill="#48a2de"/>
<rect x="149" y="995" width="18" fill="#48a8e4"/>
<rect x="167" y="995" width="12" fill="#4ea8ea"/>
<rect x="179" y="995" width="12" fill="#54aeea"/>
<rect x="191" y="995" width="18" fill="#54b4ea"/>
<rect x="209" y="995" width="6" fill="#48aeea"/>
<rect x="215" y="995" width="6" fill="#3ca8ea"/>
<rect x="221" y="995" width="6" fill="#549ce4"/>
<rect x="227" y="995" width="6" fill="#7896e4"/>
<rect x="233" y="995" width="6" fill="#8a90e4"/>
<rect x="239" y="995" width="6" fill="#9690de"/>
<rect x="245" y="995" width="6" fill="#a28ade"/>
<rect x="251" y="995" width="6" fill="#ae8ad8"/>
<rect x="257" y="995" width="6" fill="#b48ad8"/>
<rect x="263" y="995" width="6" fill="#c084d2"/>
<rect x="269" y="995" width="6" fill="#cc84d2"/>
<rect x="275" y="995" width="6" fill="#d284d2"/>
<rect x="281" y="995" width="6" fill="#de7ed2"/>
<rect x="287" y="995" width="6" fill="#e47ecc"/>
<rect x="293" y="995" width="6" fill="#e472c6"/>
<rect x="299" y="995" width="6" fill="#e46cc0"/>
<rect x="305" y="995" width="6" fill="#e466b4"/>
<rect x="311" y="995" width="6" fill="#e460b4"/>
<rect x="317" y="995" width="6" fill="#e454ae"/>
<rect x="323" y="995" width="6" fill="#ea48a8"/>
<rect x="329" y="995" width="6" fill="#ea42a2"/>
<rect x="335" y="995" width="6" fill="#ea30a2"/>
<rect x="341" y="995" width="6" fill="#f0249c"/>
<rect x="347" y="995" width="6" fill="#f0129c"/>
<rect x="353" y="995" width="6" fill="#f00696"/>
<rect x="359" y="995" width="6" fill="#f00096"/>
<rect x="365" y="995" width="30" fill="#f00090"/>
<rect x="395" y="995" width="12" fill="#f0008a"/>
<rect x="407" y="995" width="12" fill="#f0068a"/>
<rect x="419" y="995" width="6" fill="#f00c8a"/>
<rect x="425" y="995" width="18" fill="#f00c84"/>
<rect x="443" y="995" width="12" fill="#f00c7e"/>
<rect x="455" y="995" width="12" fill="#f00c78"/>
<rect x="467" y="995" width="6" fill="#f00c72"/>
<rect x="473" y="995" width="12" fill="#f00c6c"/>
<rect x="143" y="1001" width="6" fill="#429cde"/>
<rect x="149" y="1001" width="6" fill="#489cde"/>
<rect x="155" y="1001" width="6" fill="#489ce4"/>
<rect x="161" y="1001" width="12" fill="#48a2e4"/>
<rect x="173" y="1001" width="6" fill="#4ea2e4"/>
<rect x="179" y="1001" width="6" fill="#4ea2ea"/>
<rect x="185" y="1001" width="24" fill="#54a8ea"/>
<rect x="209" y="1001" width="6" fill="#48a2e4"/>
<rect x="215" y="1001" width="6" fill="#3c9ce4"/>
<rect x="221" y="1001" width="6" fill="#6090e4"/>
<rect x="227" y="1001" width="6" fill="#788ae4"/>
<rect x="233" y="1001" width="6" fill="#8a84de"/>
<rect x="239" y="1001" width="6" fill="#9084de"/>
<rect x="245" y="1001" width="6" fill="#9c84d8"/>
<rect x="251" y="1001" width="6" fill="#a884d8"/>
<rect x="257" y="1001" width="6" fill="#b47ed2"/>
<rect x="263" y="1001" width="6" fill="#ba7ed2"/>
<rect x="269" y="1001" width="6" fill="#c67ecc"/>
<rect x="275" y="1001" width="6" fill="#cc7ecc"/>
<rect x="281" y="1001" width="6" fill="#d878cc"/>
<rect x="287" y="1001" width="6" fill="#de78cc"/>
<rect x="293" y="1001" width="6" fill="#de72c6"/>
<rect x="299" y="1001" width="6" fill="#de6cba"/>
<rect x="305" y="1001" width="6" fill="#e460b4"/>
<rect x="311" y="1001" width="6" fill="#e45aae"/>
<rect x="317" y="1001" width="6" fill="#e454ae"/>
<rect x="323" y="1001" width="6" fill="#e448a8"/>
<rect x="329" y="1001" width="6" fill="#ea36a2"/>
<rect x="335" y="1001" width="6" fill="#ea24a2"/>
<rect x="341" y="1001" width="6" fill="#ea0c9c"/>
<rect x="347" y="1001" width="6" fill="#f0009c"/>
<rect x="353" y="1001" width="12" fill="#f00096"/>
<rect x="365" y="1001" width="30" fill="#f00090"/>
<rect x="395" y="1001" width="12" fill="#f00690"/>
<rect x="407" y="1001" width="18" fill="#f00c90"/>
<rect x="425" y="1001" width="12" fill="#f00c8a"/>
<rect x="437" y="1001" width="12" fill="#f00c84"/>
<rect x="449" y="1001" width="12" fill="#f00c7e"/>
<rect x="461" y="1001" width="6" fill="#f00c78"/>
<rect x="143" y="1007" width="12" fill="#4296d8"/>
<rect x="155" y="1007" width="6" fill="#4296de"/>
<rect x="161" y="1007" width="6" fill="#4896de"/>
<rect x="167" y="1007" width="12" fill="#4896e4"/>
<rect x="179" y="1007" width="6" fill="#4e9ce4"/>
<rect x="185" y="1007" width="18" fill="#549ce4"/>
<rect x="203" y="1007" width="6" fill="#4e9ce4"/>
<rect x="209" y="1007" width="6" fill="#4896e4"/>
<rect x="215" y="1007" width="6" fill="#428ae4"/>
<rect x="221" y="1007" width="6" fill="#6684e4"/>
<rect x="227" y="1007" width="6" fill="#787ede"/>
<rect x="233" y="1007" width="6" fill="#8478de"/>
<rect x="239" y="1007" width="6" fill="#9078d8"/>
<rect x="245" y="1007" width="6" fill="#9678d8"/>
<rect x="251" y="1007" width="6" fill="#a278d2"/>
<rect x="257" y="1007" width="6" fill="#a878cc"/>
<rect x="263" y="1007" width="6" fill="#b478cc"/>
<rect x="269" y="1007" width="6" fill="#c078cc"/>
<rect x="275" y="1007" width="6" fill="#c678cc"/>
<rect x="281" y="1007" width="6" fill="#cc78c6"/>
<rect x="287" y="1007" width="6" fill="#d872c6"/>
<rect x="293" y="1007" width="6" fill="#d86cc0"/>
<rect x="299" y="1007" width="6" fill="#de66ba"/>
<rect x="305" y="1007" width="6" fill="#de60b4"/>
<rect x="311" y="1007" width="6" fill="#de54ae"/>
<rect x="317" y="1007" width="6" fill="#e448a8"/>
<rect x="323" y="1007" width="6" fill="#e436a8"/>
<rect x="329" y="1007" width="6" fill="#ea1ea2"/>
<rect x="335" y="1007" width="6" fill="#ea129c"/>
<rect x="341" y="1007" width="6" fill="#ea0c9c"/>
<rect x="347" y="1007" width="12" fill="#f00696"/>
<rect x="359" y="1007" width="18" fill="#f00090"/>
<rect x="377" y="1007" width="24" fill="#f00690"/>
<rect x="401" y="1007" width="30" fill="#f00c90"/>
<rect x="431" y="1007" width="12" fill="#f00c8a"/>
<rect x="443" y="1007" width="12" fill="#f00c84"/>
<rect x="149" y="1013" width="18" fill="#4290d8"/>
<rect x="167" y="1013" width="12" fill="#4890de"/>
<rect x="179" y="1013" width="12" fill="#4e90de"/>
<rect x="191" y="1013" width="6" fill="#5490de"/>
<rect x="197" y="1013" width="6" fill="#5490e4"/>
<rect x="203" y="1013" width="6" fill="#4e90e4"/>
<rect x="209" y="1013" width="6" fill="#4284de"/>
<rect x="215" y="1013" width="6" fill="#487ede"/>
<rect x="221" y="1013" width="6" fill="#6c78de"/>
<rect x="227" y="1013" width="6" fill="#786cd8"/>
<rect x="233" y="1013" width="6" fill="#7e6cd8"/>
<rect x="239" y="1013" width="6" fill="#8a6cd8"/>
<rect x="245" y="1013" width="6" fill="#906cd2"/>
<rect x="251" y="1013" width="6" fill="#9c72cc"/>
<rect x="257" y="1013" width="6" fill="#a872cc"/>
<rect x="263" y="1013" width="6" fill="#ae72cc"/>
<rect x="269" y="1013" width="6" fill="#ba72c6"/>
<rect x="275" y="1013" width="6" fill="#c072c6"/>
<rect x="281" y="1013" width="6" fill="#cc6cc6"/>
<rect x="287" y="1013" width="6" fill="#d26cc6"/>
<rect x="293" y="1013" width="6" fill="#d866c0"/>
<rect x="299" y="1013" width="6" fill="#d85aba"/>
<rect x="305" y="1013" width="6" fill="#d854b4"/>
<rect x="311" y="1013" width="6" fill="#de42ae"/>
<rect x="317" y="1013" width="6" fill="#e430a8"/>
<rect x="323" y="1013" width="6" fill="#e424a8"/>
<rect x="329" y="1013" width="6" fill="#e41ea2"/>
<rect x="335" y="1013" width="6" fill="#ea189c"/>
<rect x="341" y="1013" width="6" fill="#ea129c"/>
<rect x="347" y="1013" width="12" fill="#f00c96"/>
<rect x="359" y="1013" width="30" fill="#f00690"/>
<rect x="389" y="1013" width="48" fill="#f00c90"/>
<rect x="437" y="1013" width="6" fill="#f00c8a"/>
<rect x="149" y="1019" width="6" fill="#3c84d2"/>
<rect x="155" y="1019" width="6" fill="#4284d2"/>
<rect x="161" y="1019" width="12" fill="#4284d8"/>
<rect x="173" y="1019" width="12" fill="#4884d8"/>
<rect x="185" y="1019" width="12" fill="#4e84d8"/>
<rect x="197" y="1019" width="6" fill="#4e84de"/>
<rect x="203" y="1019" width="6" fill="#4884de"/>
<rect x="209" y="1019" width="6" fill="#3c78de"/>
<rect x="215" y="1019" width="6" fill="#5472d8"/>
<rect x="221" y="1019" width="6" fill="#6c66d8"/>
<rect x="227" y="1019" width="6" fill="#7260d8"/>
<rect x="233" y="1019" width="6" fill="#7860d2"/>
<rect x="239" y="1019" width="6" fill="#8460d2"/>
<rect x="245" y="1019" width="6" fill="#8a66cc"/>
<rect x="251" y="1019" width="6" fill="#966ccc"/>
<rect x="257" y="1019" width="6" fill="#a26cc6"/>
<rect x="263" y="1019" width="6" fill="#a86cc6"/>
<rect x="269" y="1019" width="6" fill="#b46cc0"/>
<rect x="275" y="1019" width="6" fill="#ba6cc0"/>
<rect x="281" y="1019" width="6" fill="#c066c0"/>
<rect x="287" y="1019" width="6" fill="#cc60c0"/>
<rect x="293" y="1019" width="6" fill="#d254c0"/>
<rect x="299" y="1019" width="6" fill="#d242b4"/>
<rect x="305" y="1019" width="6" fill="#d830b4"/>
<rect x="311" y="1019" width="6" fill="#de2aae"/>
<rect x="317" y="1019" width="6" fill="#de2aa8"/>
<rect x="323" y="1019" width="6" fill="#e424a8"/>
<rect x="329" y="1019" width="6" fill="#e424a2"/>
<rect x="335" y="1019" width="6" fill="#ea1e9c"/>
<rect x="341" y="1019" width="6" fill="#ea189c"/>
<rect x="347" y="1019" width="6" fill="#ea1296"/>
<rect x="353" y="1019" width="6" fill="#f00c96"/>
<rect x="359" y="1019" width="54" fill="#f00c90"/>
<rect x="413" y="1019" width="12" fill="#f01290"/>
<rect x="149" y="1025" width="6" fill="#3c7ecc"/>
<rect x="155" y="1025" width="12" fill="#3c7ed2"/>
<rect x="167" y="1025" width="12" fill="#4278d2"/>
<rect x="179" y="1025" width="12" fill="#4878d2"/>
<rect x="191" y="1025" width="12" fill="#4e7ed8"/>
<rect x="203" y="1025" width="6" fill="#4878d8"/>
<rect x="209" y="1025" width="6" fill="#4272d8"/>
<rect x="215" y="1025" width="6" fill="#6066d8"/>
<rect x="221" y="1025" width="6" fill="#6c5ad8"/>
<rect x="227" y="1025" width="6" fill="#6c54d2"/>
<rect x="233" y="1025" width="6" fill="#7854d2"/>
<rect x="239" y="1025" width="6" fill="#7e5acc"/>
<rect x="245" y="1025" width="6" fill="#8a60cc"/>
<rect x="251" y="1025" width="6" fill="#9066c6"/>
<rect x="257" y="1025" width="6" fill="#9c66c6"/>
<rect x="263" y="1025" width="6" fill="#a866c0"/>
<rect x="269" y="1025" width="6" fill="#ae66c0"/>
<rect x="275" y="1025" width="6" fill="#b460c0"/>
<rect x="281" y="1025" width="6" fill="#c054c0"/>
<rect x="287" y="1025" width="6" fill="#c648c0"/>
<rect x="293" y="1025" width="6" fill="#cc30ba"/>
<rect x="299" y="1025" width="6" fill="#d224b4"/>
<rect x="305" y="1025" width="6" fill="#d824ae"/>
<rect x="311" y="1025" width="6" fill="#d82aae"/>
<rect x="317" y="1025" width="6" fill="#de2aa8"/>
<rect x="323" y="1025" width="6" fill="#e424a8"/>
<rect x="329" y="1025" width="6" fill="#e424a2"/>
<rect x="335" y="1025" width="6" fill="#ea1e9c"/>
<rect x="341" y="1025" width="6" fill="#ea189c"/>
<rect x="347" y="1025" width="6" fill="#ea1296"/>
<rect x="353" y="1025" width="6" fill="#f01290"/>
<rect x="359" y="1025" width="42" fill="#f00c90"/>
<rect x="401" y="1025" width="12" fill="#f01290"/>
<rect x="155" y="1031" width="12" fill="#3c78cc"/>
<rect x="167" y="1031" width="6" fill="#3c72cc"/>
<rect x="173" y="1031" width="12" fill="#4272cc"/>
<rect x="185" y="1031" width="6" fill="#4872cc"/>
<rect x="191" y="1031" width="12" fill="#4872d2"/>
<rect x="203" y="1031" width="6" fill="#486cd2"/>
<rect x="209" y="1031" width="6" fill="#4866d2"/>
<rect x="215" y="1031" width="6" fill="#6660d2"/>
<rect x="221" y="1031" width="6" fill="#6c54d2"/>
<rect x="227" y="1031" width="6" fill="#724ecc"/>
<rect x="233" y="1031" width="6" fill="#784ecc"/>
<rect x="239" y="1031" width="6" fill="#7e54cc"/>
<rect x="245" y="1031" width="6" fill="#8a5ac6"/>
<rect x="251" y="1031" width="6" fill="#9060c6"/>
<rect x="257" y="1031" width="6" fill="#9c60c0"/>
<rect x="263" y="1031" width="6" fill="#a260c0"/>
<rect x="269" y="1031" width="6" fill="#ae5ac0"/>
<rect x="275" y="1031" width="6" fill="#b448ba"/>
<rect x="281" y="1031" width="6" fill="#c036ba"/>
<rect x="287" y="1031" width="6" fill="#c624ba"/>
<rect x="293" y="1031" width="6" fill="#cc24ba"/>
<rect x="299" y="1031" width="6" fill="#d224b4"/>
<rect x="305" y="1031" width="6" fill="#d824ae"/>
<rect x="311" y="1031" width="6" fill="#d82aae"/>
<rect x="317" y="1031" width="6" fill="#de2aa8"/>
<rect x="323" y="1031" width="6" fill="#e424a8"/>
<rect x="329" y="1031" width="6" fill="#e424a2"/>
<rect x="335" y="1031" width="6" fill="#e41e9c"/>
<rect x="341" y="1031" width="6" fill="#ea189c"/>
<rect x="347" y="1031" width="6" fill="#ea1296"/>
<rect x="353" y="1031" width="6" fill="#f01290"/>
<rect x="359" y="1031" width="30" fill="#f00c90"/>
<rect x="389" y="1031" width="12" fill="#f01290"/>
<rect x="155" y="1037" width="6" fill="#3c72c6"/>
<rect x="161" y="1037" width="18" fill="#3c6cc6"/>
<rect x="179" y="1037" width="6" fill="#4266c6"/>
<rect x="185" y="1037" width="6" fill="#4266cc"/>
<rect x="191" y="1037" width="12" fill="#4866cc"/>
<rect x="203" y="1037" width="6" fill="#4266cc"/>
<rect x="209" y="1037" width="6" fill="#5460cc"/>
<rect x="215" y="1037" width="6" fill="#6c5acc"/>
<rect x="221" y="1037" width="6" fill="#7854cc"/>
<rect x="227" y="1037" width="12" fill="#784ecc"/>
<rect x="239" y="1037" width="6" fill="#8454c6"/>
<rect x="245" y="1037" width="6" fill="#8a54c6"/>
<rect x="251" y="1037" width="6" fill="#905ac0"/>
<rect x="257" y="1037" width="6" fill="#9c5ac0"/>
<rect x="263" y="1037" width="6" fill="#a24ec0"/>
<rect x="269" y="1037" width="6" fill="#ae3cba"/>
<rect x="275" y="1037" width="6" fill="#b42aba"/>
<rect x="281" y="1037" width="6" fill="#c024ba"/>
<rect x="287" y="1037" width="6" fill="#c624ba"/>
<rect x="293" y="1037" width="6" fill="#cc24ba"/>
<rect x="299" y="1037" width="6" fill="#d224b4"/>
<rect x="305" y="1037" width="12" fill="#d824ae"/>
<rect x="317" y="1037" width="12" fill="#de24a8"/>
<rect x="329" y="1037" width="6" fill="#e424a8"/>
<rect x="335" y="1037" width="6" fill="#e41ea2"/>
<rect x="341" y="1037" width="6" fill="#ea189c"/>
<rect x="347" y="1037" width="6" fill="#ea1296"/>
<rect x="353" y="1037" width="12" fill="#ea1290"/>
<rect x="365" y="1037" width="18" fill="#f00c90"/>
<rect x="383" y="1037" width="6" fill="#f01290"/>
<rect x="155" y="1043" width="6" fill="#366cc6"/>
<rect x="161" y="1043" width="6" fill="#3666c6"/>
<rect x="167" y="1043" width="6" fill="#3c66c6"/>
<rect x="173" y="1043" width="12" fill="#3c60c6"/>
<rect x="185" y="1043" width="18" fill="#4260c6"/>
<rect x="203" y="1043" width="6" fill="#425acc"/>
<rect x="209" y="1043" width="6" fill="#605acc"/>
<rect x="215" y="1043" width="6" fill="#7854cc"/>
<rect x="221" y="1043" width="6" fill="#7e4ecc"/>
<rect x="227" y="1043" width="6" fill="#7e48cc"/>
<rect x="233" y="1043" width="6" fill="#8448c6"/>
<rect x="239" y="1043" width="6" fill="#844ec6"/>
<rect x="245" y="1043" width="6" fill="#904ec0"/>
<rect x="251" y="1043" width="6" fill="#9648c0"/>
<rect x="257" y="1043" width="6" fill="#9c3cc0"/>
<rect x="263" y="1043" width="6" fill="#a830ba"/>
<rect x="269" y="1043" width="6" fill="#ae30ba"/>
<rect x="275" y="1043" width="6" fill="#b42aba"/>
<rect x="281" y="1043" width="6" fill="#c02aba"/>
<rect x="287" y="1043" width="6" fill="#cc24ba"/>
<rect x="293" y="1043" width="6" fill="#d224ba"/>
<rect x="299" y="1043" width="6" fill="#d224b4"/>
<rect x="305" y="1043" width="12" fill="#d824ae"/>
<rect x="317" y="1043" width="12" fill="#de24a8"/>
<rect x="329" y="1043" width="6" fill="#e41ea8"/>
<rect x="335" y="1043" width="6" fill="#e418a2"/>
<rect x="341" y="1043" width="6" fill="#e4189c"/>
<rect x="347" y="1043" width="12" fill="#ea1296"/>
<rect x="359" y="1043" width="12" fill="#ea1290"/>
<rect x="161" y="1049" width="12" fill="#3660c0"/>
<rect x="173" y="1049" width="6" fill="#3c60c0"/>
<rect x="179" y="1049" width="12" fill="#3c5ac0"/>
<rect x="191" y="1049" width="6" fill="#4254c0"/>
<rect x="197" y="1049" width="6" fill="#4254c6"/>
<rect x="203" y="1049" width="6" fill="#4854c6"/>
<rect x="209" y="1049" width="6" fill="#6c54c6"/>
<rect x="215" y="1049" width="6" fill="#7e4ec6"/>
<rect x="221" y="1049" width="12" fill="#8448c6"/>
<rect x="233" y="1049" width="6" fill="#8442c6"/>
<rect x="239" y="1049" width="6" fill="#8a3cc6"/>
<rect x="245" y="1049" width="6" fill="#9036c0"/>
<rect x="251" y="1049" width="6" fill="#9630c0"/>
<rect x="257" y="1049" width="6" fill="#9c30c0"/>
<rect x="263" y="1049" width="6" fill="#a836ba"/>
<rect x="269" y="1049" width="6" fill="#ae30ba"/>
<rect x="275" y="1049" width="6" fill="#b430ba"/>
<rect x="281" y="1049" width="6" fill="#c02aba"/>
<rect x="287" y="1049" width="6" fill="#cc24ba"/>
<rect x="293" y="1049" width="6" fill="#d224ba"/>
<rect x="299" y="1049" width="6" fill="#d81eb4"/>
<rect x="305" y="1049" width="12" fill="#d81eae"/>
<rect x="317" y="1049" width="6" fill="#de1eae"/>
<rect x="323" y="1049" width="6" fill="#de1ea8"/>
<rect x="329" y="1049" width="6" fill="#e41ea8"/>
<rect x="335" y="1049" width="6" fill="#e418a2"/>
<rect x="341" y="1049" width="6" fill="#e4189c"/>
<rect x="347" y="1049" width="6" fill="#e4129c"/>
<rect x="353" y="1049" width="6" fill="#ea1296"/>
<rect x="161" y="1055" width="6" fill="#3660c0"/>
<rect x="167" y="1055" width="12" fill="#365ac0"/>
<rect x="179" y="1055" width="18" fill="#3c54c0"/>
<rect x="197" y="1055" width="6" fill="#4254c0"/>
<rect x="203" y="1055" width="6" fill="#544ec6"/>
<rect x="209" y="1055" width="6" fill="#784ec6"/>
<rect x="215" y="1055" width="6" fill="#8448c6"/>
<rect x="221" y="1055" width="6" fill="#8442c6"/>
<rect x="227" y="1055" width="6" fill="#8436c6"/>
<rect x="233" y="1055" width="6" fill="#8a2ac6"/>
<rect x="239" y="1055" width="6" fill="#8a24c6"/>
<rect x="245" y="1055" width="6" fill="#9024c0"/>
<rect x="251" y="1055" width="6" fill="#9630c0"/>
<rect x="257" y="1055" width="6" fill="#9c36c0"/>
<rect x="263" y="1055" width="6" fill="#a836c0"/>
<rect x="269" y="1055" width="6" fill="#ae30ba"/>
<rect x="275" y="1055" width="6" fill="#ba30ba"/>
<rect x="281" y="1055" width="6" fill="#c02aba"/>
<rect x="287" y="1055" width="6" fill="#cc24ba"/>
<rect x="293" y="1055" width="6" fill="#d824ba"/>
<rect x="299" y="1055" width="6" fill="#d81eb4"/>
<rect x="305" y="1055" width="12" fill="#d81eae"/>
<rect x="317" y="1055" width="6" fill="#de1eae"/>
<rect x="323" y="1055" width="6" fill="#de1ea8"/>
<rect x="329" y="1055" width="6" fill="#de18a8"/>
<rect x="335" y="1055" width="6" fill="#e418a8"/>
<rect x="341" y="1055" width="6" fill="#e418a2"/>
<rect x="167" y="1061" width="6" fill="#365ac0"/>
<rect x="173" y="1061" width="6" fill="#3654c0"/>
<rect x="179" y="1061" width="6" fill="#3c54c0"/>
<rect x="185" y="1061" width="6" fill="#3c4ec0"/>
<rect x="191" y="1061" width="6" fill="#424ec0"/>
<rect x="197" y="1061" width="6" fill="#484ec0"/>
<rect x="203" y="1061" width="6" fill="#6648c6"/>
<rect x="209" y="1061" width="6" fill="#7e42c6"/>
<rect x="215" y="1061" width="6" fill="#843cc6"/>
<rect x="221" y="1061" width="6" fill="#8a2ac6"/>
<rect x="227" y="1061" width="12" fill="#8a1ec6"/>
<rect x="239" y="1061" width="6" fill="#8a24c6"/>
<rect x="245" y="1061" width="6" fill="#902ac0"/>
<rect x="251" y="1061" width="6" fill="#9630c0"/>
<rect x="257" y="1061" width="6" fill="#9c36c0"/>
<rect x="263" y="1061" width="6" fill="#a836c0"/>
<rect x="269" y="1061" width="6" fill="#ae30c0"/>
<rect x="275" y="1061" width="6" fill="#b430ba"/>
<rect x="281" y="1061" width="6" fill="#c02aba"/>
<rect x="287" y="1061" width="6" fill="#cc24ba"/>
<rect x="293" y="1061" width="6" fill="#d824ba"/>
<rect x="299" y="1061" width="6" fill="#d81eb4"/>
<rect x="305" y="1061" width="6" fill="#d81eae"/>
<rect x="311" y="1061" width="12" fill="#d818ae"/>
<rect x="323" y="1061" width="6" fill="#de18a8"/>
<rect x="167" y="1067" width="6" fill="#3054c0"/>
<rect x="173" y="1067" width="6" fill="#3654c0"/>
<rect x="179" y="1067" width="6" fill="#364ec0"/>
<rect x="185" y="1067" width="6" fill="#3c48c0"/>
<rect x="191" y="1067" width="6" fill="#4248c0"/>
<rect x="197" y="1067" width="6" fill="#4848c0"/>
<rect x="203" y="1067" width="6" fill="#723cc6"/>
<rect x="209" y="1067" width="6" fill="#8430c6"/>
<rect x="215" y="1067" width="6" fill="#8424c6"/>
<rect x="221" y="1067" width="6" fill="#841ec6"/>
<rect x="227" y="1067" width="12" fill="#8424c6"/>
<rect x="239" y="1067" width="6" fill="#8a2ac6"/>
<rect x="245" y="1067" width="12" fill="#9030c6"/>
<rect x="257" y="1067" width="6" fill="#9c30c0"/>
<rect x="263" y="1067" width="6" fill="#a230c0"/>
<rect x="269" y="1067" width="6" fill="#ae30c0"/>
<rect x="275" y="1067" width="6" fill="#b430c0"/>
<rect x="281" y="1067" width="6" fill="#c02ac0"/>
<rect x="287" y="1067" width="6" fill="#cc24c0"/>
<rect x="293" y="1067" width="6" fill="#d224c0"/>
<rect x="299" y="1067" width="12" fill="#d81eb4"/>
<rect x="311" y="1067" width="6" fill="#d818ae"/>
<rect x="173" y="1073" width="6" fill="#304ec0"/>
<rect x="179" y="1073" width="12" fill="#3648c0"/>
<rect x="191" y="1073" width="6" fill="#3c3cc0"/>
<rect x="197" y="1073" width="6" fill="#4836c6"/>
<rect x="203" y="1073" width="6" fill="#722ac6"/>
<rect x="209" y="1073" width="6" fill="#7e24cc"/>
<rect x="215" y="1073" width="6" fill="#8424cc"/>
<rect x="221" y="1073" width="12" fill="#842acc"/>
<rect x="233" y="1073" width="6" fill="#842ac6"/>
<rect x="239" y="1073" width="6" fill="#8430c6"/>
<rect x="245" y="1073" width="6" fill="#8a30c6"/>
<rect x="251" y="1073" width="6" fill="#9030c6"/>
<rect x="257" y="1073" width="6" fill="#9630c6"/>
<rect x="263" y="1073" width="6" fill="#a230c6"/>
<rect x="269" y="1073" width="6" fill="#a830c0"/>
<rect x="275" y="1073" width="6" fill="#b430c0"/>
<rect x="281" y="1073" width="6" fill="#c02ac0"/>
<rect x="287" y="1073" width="6" fill="#c624c0"/>
<rect x="293" y="1073" width="6" fill="#d224c0"/>
<rect x="299" y="1073" width="6" fill="#d21eba"/>
<rect x="173" y="1079" width="6" fill="#2a48c0"/>
<rect x="179" y="1079" width="6" fill="#303cc0"/>
<rect x="185" y="1079" width="6" fill="#3036c6"/>
<rect x="191" y="1079" width="6" fill="#302ac6"/>
<rect x="197" y="1079" width="6" fill="#482acc"/>
<rect x="203" y="1079" width="6" fill="#662acc"/>
<rect x="209" y="1079" width="6" fill="#7230cc"/>
<rect x="215" y="1079" width="18" fill="#7830cc"/>
<rect x="233" y="1079" width="6" fill="#7e30cc"/>
<rect x="239" y="1079" width="6" fill="#7e30c6"/>
<rect x="245" y="1079" width="6" fill="#8430c6"/>
<rect x="251" y="1079" width="6" fill="#8a30c6"/>
<rect x="257" y="1079" width="6" fill="#9030c6"/>
<rect x="263" y="1079" width="6" fill="#9c30c6"/>
<rect x="269" y="1079" width="6" fill="#a830c6"/>
<rect x="275" y="1079" width="6" fill="#ae30c6"/>
<rect x="281" y="1079" width="6" fill="#ba2ac6"/>
<rect x="287" y="1079" width="6" fill="#c624c6"/>
<rect x="179" y="1085" width="6" fill="#242ac6"/>
<rect x="185" y="1085" width="6" fill="#2424c6"/>
<rect x="191" y="1085" width="6" fill="#242acc"/>
<rect x="197" y="1085" width="6" fill="#4830cc"/>
<rect x="203" y="1085" width="6" fill="#6036cc"/>
<rect x="209" y="1085" width="6" fill="#663cd2"/>
<rect x="215" y="1085" width="6" fill="#6c3cd2"/>
<rect x="221" y="1085" width="6" fill="#723ccc"/>
<rect x="227" y="1085" width="18" fill="#7836cc"/>
<rect x="245" y="1085" width="6" fill="#7e36cc"/>
<rect x="251" y="1085" width="6" fill="#8430cc"/>
<rect x="257" y="1085" width="6" fill="#9030cc"/>
<rect x="263" y="1085" width="6" fill="#9630cc"/>
<rect x="269" y="1085" width="6" fill="#a230c6"/>
<rect x="179" y="1091" width="6" fill="#182ac6"/>
<rect x="185" y="1091" width="6" fill="#1830cc"/>
<rect x="191" y="1091" width="6" fill="#1e36cc"/>
<rect x="197" y="1091" width="6" fill="#483ccc"/>
<rect x="203" y="1091" width="6" fill="#5a3cd2"/>
<rect x="209" y="1091" width="6" fill="#6042d2"/>
<rect x="215" y="1091" width="6" fill="#6642d2"/>
<rect x="221" y="1091" width="6" fill="#6c42d2"/>
<rect x="227" y="1091" width="6" fill="#6c3ccc"/>
<rect x="233" y="1091" width="6" fill="#723ccc"/>
<rect x="239" y="1091" width="6" fill="#783ccc"/>
<rect x="245" y="1091" width="6" fill="#7836cc"/>
<rect x="251" y="1091" width="6" fill="#8436cc"/>
<rect x="257" y="1091" width="6" fill="#8a36cc"/>
<rect x="185" y="1097" width="6" fill="#0c36cc"/>
<rect x="191" y="1097" width="6" fill="#1e3ccc"/>
<rect x="197" y="1097" width="6" fill="#423cd2"/>
<rect x="203" y="1097" width="6" fill="#5442d2"/>
<rect x="209" y="1097" width="6" fill="#5a48d2"/>
<rect x="215" y="1097" width="6" fill="#6048d2"/>
<rect x="221" y="1097" width="6" fill="#6648d2"/>
<rect x="227" y="1097" width="12" fill="#6c42d2"/>
<rect x="239" y="1097" width="6" fill="#723ccc"/>
<rect x="245" y="1097" width="6" fill="#783ccc"/>
<rect x="191" y="1103" width="6" fill="#2442cc"/>
<rect x="197" y="1103" width="6" fill="#4248d2"/>
<rect x="203" y="1103" width="6" fill="#4e48d2"/>
<rect x="209" y="1103" width="6" fill="#5448d2"/>
<rect x="215" y="1103" width="6" fill="#5a48d2"/>
<rect x="221" y="1103" width="6" fill="#6048d2"/>
<rect x="227" y="1103" width="6" fill="#6648d2"/>
<rect x="197" y="1109" width="6" fill="#3c48d2"/>
<rect x="203" y="1109" width="6" fill="#484ed2"/>
<rect x="209" y="1109" width="6" fill="#4e4ed2"/>
<rect x="215" y="1109" width="6" fill="#544ed8"/>
</g></g>
<line x1="211.3" y1="1108.4" x2="519.7" y2="973.1" stroke="#505050" stroke-width="2.6"/>
<line x1="211.3" y1="1108.4" x2="519.7" y2="973.1" stroke="#ffffff" stroke-width="1.4" stroke-dasharray="2 2.5"/>
<path d="M211.3 1108.4 L211.3 1108.4 L211.3 1108.4 L211.2 1108.4 L211.2 1108.4 L211.2 1108.4 L211.2 1108.4 L211.1 1108.4 L211.1 1108.5 L211.1 1108.5 L211.1 1108.5 L211.0 1108.5 L211.0 1108.5 L211.0 1108.5 L210.9 1108.5 L210.9 1108.5 L210.8 1108.5 L210.8 1108.5 L210.8 1108.5 L210.7 1108.5 L210.7 1108.5 L210.6 1108.5 L210.6 1108.5 L210.5 1108.5 L210.4 1108.5 L210.4 1108.5 L210.3 1108.5 L210.2 1108.5 L210.2 1108.5 L210.1 1108.5 L210.0 1108.5 L209.9 1108.4 L209.8 1108.3 L209.7 1108.3 L209.5 1108.2 L209.4 1108.1 L209.2 1108.0 L209.0 1107.9 L208.8 1107.7 L208.6 1107.6 L208.4 1107.4 L208.2 1107.2 L207.9 1107.0 L207.6 1106.8 L207.3 1106.5 L207.0 1106.3 L206.7 1106.0 L206.3 1105.7 L205.9 1105.3 L205.5 1105.0 L205.1 1104.6 L204.6 1104.2 L204.1 1103.8 L203.6 1103.4 L203.0 1102.9 L202.3 1102.4 L201.6 1101.8 L200.9 1101.2 L200.2 1100.6 L199.4 1099.9 L198.6 1099.2 L197.7 1098.4 L196.7 1097.6 L195.8 1096.6 L194.7 1095.6 L193.6 1094.5 L192.5 1093.3 L191.3 1091.9 L190.0 1090.3 L188.6 1088.4 L187.1 1086.2 L185.5 1083.8 L183.8 1081.0 L181.9 1077.8 L180.0 1074.3 L178.0 1070.4 L175.8 1065.9 L173.5 1060.8 L171.0 1055.2 L168.5 1049.0 L165.7 1042.0 L162.8 1034.3 L159.7 1025.9 L156.5 1016.8 L153.3 1006.7 L150.1 995.7 L146.9 983.8 L143.6 971.1 L140.5 957.7 L137.3 943.3 L134.2 928.1 L131.2 912.4 L128.4 896.5 L125.9 880.4 L123.6 863.8 L121.6 847.3 L120.0 831.2 L118.8 815.5 L118.0 800.0 L117.5 784.9 L117.6 770.7 L118.3 757.1 L119.4 744.1 L121.0 732.0 L123.1 721.1 L125.9 711.4 L129.1 702.7 L132.9 695.2 L136.9 689.0 L141.3 684.4 L146.1 681.1 L151.2 678.9 L156.4 677.7 L161.7 677.4 L167.2 678.3 L172.8 679.8 L178.3 681.6 L183.9 683.7 L189.5 686.4 L195.1 689.2 L200.6 692.2 L206.0 695.1 L211.2 698.3 L216.4 701.5 L221.6 704.8 L226.7 708.2 L231.8 711.7 L236.8 715.3 L241.8 719.0 L246.8 722.8 L251.8 726.6 L256.8 730.6 L261.7 734.6 L266.7 738.6 L271.6 742.8 L276.5 747.0 L281.4 751.2 L286.3 755.5 L291.2 759.8 L296.1 764.2 L301.0 768.6 L306.0 773.0 L310.9 777.5 L315.8 781.9 L320.7 786.4 L325.6 791.0 L330.5 795.5 L335.4 800.0 L340.3 804.6 L345.2 809.1 L350.1 813.7 L355.0 818.2 L359.8 822.7 L364.6 827.2 L369.4 831.7 L374.2 836.2 L378.9 840.7 L383.6 845.1 L388.2 849.5 L392.9 853.8 L397.4 858.1 L401.9 862.4 L406.4 866.6 L410.8 870.8 L415.2 874.8 L419.5 878.9 L423.7 882.8 L427.9 886.7 L431.9 890.5 L435.9 894.3 L439.8 897.9 L443.5 901.5 L447.2 904.9 L450.6 908.2 L454.0 911.4 L457.3 914.4 L460.4 917.4 L463.5 920.3 L466.5 923.1 L469.3 925.8 L472.1 928.4 L474.7 930.8 L477.2 933.1 L479.5 935.3 L481.8 937.4 L483.9 939.4 L485.9 941.3 L487.8 943.1 L489.6 944.9 L491.3 946.5 L492.9 948.0 L494.5 949.4 L495.9 950.8 L497.3 952.1 L498.5 953.2 L499.7 954.4 L500.9 955.5 L502.0 956.5 L503.0 957.4 L504.0 958.4 L504.9 959.2 L505.8 960.1 L506.7 960.9 L507.5 961.7 L508.3 962.4 L509.0 963.1 L509.7 963.8 L510.4 964.4 L511.0 965.0 L511.6 965.6 L512.2 966.1 L512.7 966.6 L513.2 967.0 L513.7 967.5 L514.1 967.9 L514.5 968.2 L514.9 968.6 L515.2 968.9 L515.5 969.2 L515.9 969.5 L516.1 969.8 L516.4 970.0 L516.6 970.3 L516.9 970.5 L517.1 970.7 L517.3 970.8 L517.4 971.0 L517.5 971.1 L517.7 971.3 L517.8 971.4 L517.9 971.5 L518.1 971.6 L518.2 971.7 L518.3 971.8 L518.4 971.9 L518.5 972.0 L518.6 972.1 L518.7 972.2 L518.8 972.3 L518.9 972.4 L518.9 972.4 L519.0 972.5 L519.1 972.6 L519.2 972.7 L519.3 972.8 L519.3 972.8 L519.4 972.9 L519.4 972.9 L519.5 973.0 L519.5 973.0 L519.6 973.0 L519.6 973.1 L519.6 973.1 L519.6 973.1 L519.6 973.1 L519.6 973.1 L519.7 973.1" stroke="#263a28" stroke-width="2.6" fill="none" stroke-linejoin="round"/>
<path d="M198.6 1099.2L194.9 1103.3M194.7 1095.6L190.7 1099.4M190.0 1090.3L185.6 1093.6M183.8 1081.0L179.0 1083.7M175.8 1065.9L170.8 1068.2M165.7 1042.0L160.6 1044.0M153.3 1006.7L148.0 1008.3M140.5 957.7L135.1 958.9M128.4 896.5L123.0 897.4M120.0 831.2L114.5 831.7M117.6 770.7L112.1 770.5M123.1 721.1L117.8 719.9M136.9 689.0L132.5 685.7M156.4 677.7L155.4 672.3M178.3 681.6L180.0 676.4M200.6 692.2L203.2 687.3M221.6 704.8L224.6 700.2M241.8 719.0L245.1 714.6M261.7 734.6L265.2 730.3M281.4 751.2L285.0 747.1M301.0 768.6L304.7 764.5M320.7 786.4L324.5 782.4M340.3 804.6L344.1 800.6M359.8 822.7L363.6 818.7M378.9 840.7L382.7 836.6M397.4 858.1L401.2 854.1M415.2 874.8L419.0 870.8M431.9 890.5L435.7 886.5M447.2 904.9L450.9 900.9M460.4 917.4L464.2 913.4M472.1 928.4L475.8 924.4M481.8 937.4L485.5 933.4M489.6 944.9L493.4 940.9M495.9 950.8L499.7 946.8M500.9 955.5L504.7 951.4M504.9 959.2L508.7 955.2M508.3 962.4L512.0 958.4M511.0 965.0L514.8 961.0M513.2 967.0L517.0 963.0M514.9 968.6L518.6 964.6M516.1 969.8L519.9 965.8M517.1 970.7L520.9 966.7M517.7 971.3L521.5 967.3M518.2 971.7L522.0 967.7M518.6 972.1L522.3 968.1M518.9 972.4L522.7 968.4M519.3 972.8L523.1 968.8M519.5 973.0L523.3 969.0M519.6 973.1L523.4 969.1M519.7 973.1L523.4 969.1" stroke="#3a3a4a" stroke-width="2.2" fill="none"/>
<line x1="296.6" y1="809.9" x2="450.9" y2="928.0" stroke="#1a1a0a" stroke-width="3" stroke-opacity="0.8"/>
<line x1="449.2" y1="948.3" x2="211.7" y2="1072.7" stroke="#2a0028" stroke-width="3" stroke-opacity="0.8"/>
<line x1="202.3" y1="1066.3" x2="274.5" y2="818.8" stroke="#0a2a2a" stroke-width="3" stroke-opacity="0.8"/>
<path d="M264.5 750.5 L276.5 768.5 L252.5 768.5 Z" fill="#1c1420" stroke="#1c1420" stroke-width="1.5" stroke-linejoin="round"/>
<path d="M490.0 937.5 L502.0 956.0 L478.0 956.0 Z" fill="#1c1420" stroke="#1c1420" stroke-width="1.5" stroke-linejoin="round"/>
<path d="M205.0 1092.0 L216.0 1111.0 L194.0 1111.0 Z" fill="#1c1420" stroke="#1c1420" stroke-width="1.5" stroke-linejoin="round"/>
<path d="M193 1088 L210 1086 L213 1110 L196 1108 Z" fill="#1c1420" filter="url(#b1)"/>
<path d="M280.7 784.0 L284.8 793.3 L295.0 794.4 L287.4 801.2 L289.5 811.1 L280.7 806.0 L271.9 811.1 L274.0 801.2 L266.4 794.4 L276.6 793.3 Z" fill="#fff" stroke="#1a1a1a" stroke-width="3.2" stroke-linejoin="miter"/>
<path d="M466.0 926.0 L470.1 935.3 L480.3 936.4 L472.7 943.2 L474.8 953.1 L466.0 948.0 L457.2 953.1 L459.3 943.2 L451.7 936.4 L461.9 935.3 Z" fill="#fff" stroke="#1a1a1a" stroke-width="3.2" stroke-linejoin="miter"/>
<path d="M198.4 1066.0 L202.5 1075.3 L212.7 1076.4 L205.1 1083.2 L207.2 1093.1 L198.4 1088.0 L189.6 1093.1 L191.7 1083.2 L184.1 1076.4 L194.3 1075.3 Z" fill="#fff" stroke="#1a1a1a" stroke-width="3.2" stroke-linejoin="miter"/>
<rect x="369.5" y="651" width="170.5" height="95.5" fill="#fff" stroke="#3a3a3a" stroke-width="2.4"/>
<path d="M400.5 667.3 L404.4 676.2 L414.0 677.1 L406.8 683.5 L408.8 693.0 L400.5 688.1 L392.2 693.0 L394.2 683.5 L387.0 677.1 L396.6 676.2 Z" fill="#fff" stroke="#1a1a1a" stroke-width="3.0" stroke-linejoin="miter"/>
<path d="M400.5 712.0 L410.5 727.0 L390.5 727.0 Z" fill="#222" stroke="#222" stroke-width="1.5" stroke-linejoin="round"/>
<text x="436.57" y="693.24" font-size="26.06" textLength="65.84" lengthAdjust="spacingAndGlyphs" fill="#5a5a5a" font-family="'Liberation Sans',sans-serif" font-weight="normal" >NTSC</text>
<text x="424.89" y="726.34" font-size="21.91" textLength="100.26" lengthAdjust="spacingAndGlyphs" fill="#5a5a5a" font-family="'Liberation Sans',sans-serif" font-weight="normal" >QD -LED</text>
<text x="131.85" y="663.12" font-size="17.75" textLength="31.48" lengthAdjust="spacingAndGlyphs" fill="#8890c8" font-family="'Liberation Sans',sans-serif" font-weight="normal" >520</text>
<text x="242.95" y="709.62" font-size="17.75" textLength="31.48" lengthAdjust="spacingAndGlyphs" fill="#8890c8" font-family="'Liberation Sans',sans-serif" font-weight="normal" >540</text>
<text x="322.75" y="776.12" font-size="17.75" textLength="31.48" lengthAdjust="spacingAndGlyphs" fill="#8890c8" font-family="'Liberation Sans',sans-serif" font-weight="normal" >560</text>
<text x="404.55" y="847.82" font-size="17.75" textLength="31.48" lengthAdjust="spacingAndGlyphs" fill="#8890c8" font-family="'Liberation Sans',sans-serif" font-weight="normal" >580</text>
<text x="463.05" y="909.12" font-size="17.75" textLength="31.68" lengthAdjust="spacingAndGlyphs" fill="#8890c8" font-family="'Liberation Sans',sans-serif" font-weight="normal" >600</text>
<text x="495.55" y="945.62" font-size="17.75" textLength="31.68" lengthAdjust="spacingAndGlyphs" fill="#8890c8" font-family="'Liberation Sans',sans-serif" font-weight="normal" >620</text>
<text x="522.05" y="975.12" font-size="17.75" textLength="31.68" lengthAdjust="spacingAndGlyphs" fill="#8890c8" font-family="'Liberation Sans',sans-serif" font-weight="normal" >700</text>
<text x="80.75" y="835.62" font-size="17.75" textLength="31.48" lengthAdjust="spacingAndGlyphs" fill="#8890c8" font-family="'Liberation Sans',sans-serif" font-weight="normal" >500</text>
<text x="105.33" y="976.52" font-size="17.75" textLength="31.09" lengthAdjust="spacingAndGlyphs" fill="#8890c8" font-family="'Liberation Sans',sans-serif" font-weight="normal" >490</text>
<text x="123.63" y="1052.12" font-size="17.75" textLength="31.09" lengthAdjust="spacingAndGlyphs" fill="#8890c8" font-family="'Liberation Sans',sans-serif" font-weight="normal" >480</text>
<text x="147.63" y="1091.12" font-size="17.75" textLength="31.09" lengthAdjust="spacingAndGlyphs" fill="#8890c8" font-family="'Liberation Sans',sans-serif" font-weight="normal" >470</text>
<text x="161.63" y="1108.12" font-size="17.75" textLength="31.09" lengthAdjust="spacingAndGlyphs" fill="#8890c8" font-family="'Liberation Sans',sans-serif" font-weight="normal" >460</text>
<text x="220.30" y="1117.85" font-size="15.49" textLength="29.38" lengthAdjust="spacingAndGlyphs" fill="#8890c8" font-family="'Liberation Sans',sans-serif" font-weight="normal" opacity="0.6">380</text>
<text x="153.80" y="755.30" font-size="12.83" textLength="96.42" lengthAdjust="spacingAndGlyphs" fill="#b4ee98" font-family="'Liberation Sans',sans-serif" font-weight="normal" >(0.27,0.67)</text>
<text x="412.83" y="977.42" font-size="12.30" textLength="94.37" lengthAdjust="spacingAndGlyphs" fill="#f4d4e4" font-family="'Liberation Sans',sans-serif" font-weight="normal" >(0.68,0.31)</text>
<text x="222.84" y="1088.80" font-size="12.83" textLength="93.35" lengthAdjust="spacingAndGlyphs" fill="#5e566a" font-family="'Liberation Sans',sans-serif" font-weight="normal" opacity="0.8">(0.17,0.02)</text>
<rect x="115.5" y="643.3" width="440.1" height="467.70000000000005" fill="none" stroke="#3a3a3a" stroke-width="2.6"/>
<line x1="104.5" y1="1111.0" x2="115.5" y2="1111.0" stroke="#3a3a3a" stroke-width="2.6" />
<line x1="111.0" y1="1085.0" x2="115.5" y2="1085.0" stroke="#3a3a3a" stroke-width="2.6" />
<line x1="104.5" y1="1059.0" x2="115.5" y2="1059.0" stroke="#3a3a3a" stroke-width="2.6" />
<line x1="111.0" y1="1033.0" x2="115.5" y2="1033.0" stroke="#3a3a3a" stroke-width="2.6" />
<line x1="104.5" y1="1007.1" x2="115.5" y2="1007.1" stroke="#3a3a3a" stroke-width="2.6" />
<line x1="111.0" y1="981.1" x2="115.5" y2="981.1" stroke="#3a3a3a" stroke-width="2.6" />
<line x1="104.5" y1="955.1" x2="115.5" y2="955.1" stroke="#3a3a3a" stroke-width="2.6" />
<line x1="111.0" y1="929.1" x2="115.5" y2="929.1" stroke="#3a3a3a" stroke-width="2.6" />
<line x1="104.5" y1="903.1" x2="115.5" y2="903.1" stroke="#3a3a3a" stroke-width="2.6" />
<line x1="111.0" y1="877.1" x2="115.5" y2="877.1" stroke="#3a3a3a" stroke-width="2.6" />
<line x1="104.5" y1="851.1" x2="115.5" y2="851.1" stroke="#3a3a3a" stroke-width="2.6" />
<line x1="111.0" y1="825.2" x2="115.5" y2="825.2" stroke="#3a3a3a" stroke-width="2.6" />
<line x1="104.5" y1="799.2" x2="115.5" y2="799.2" stroke="#3a3a3a" stroke-width="2.6" />
<line x1="111.0" y1="773.2" x2="115.5" y2="773.2" stroke="#3a3a3a" stroke-width="2.6" />
<line x1="104.5" y1="747.2" x2="115.5" y2="747.2" stroke="#3a3a3a" stroke-width="2.6" />
<line x1="111.0" y1="721.2" x2="115.5" y2="721.2" stroke="#3a3a3a" stroke-width="2.6" />
<line x1="104.5" y1="695.2" x2="115.5" y2="695.2" stroke="#3a3a3a" stroke-width="2.6" />
<line x1="111.0" y1="669.3" x2="115.5" y2="669.3" stroke="#3a3a3a" stroke-width="2.6" />
<line x1="104.5" y1="643.3" x2="115.5" y2="643.3" stroke="#3a3a3a" stroke-width="2.6" />
<line x1="115.5" y1="1111.0" x2="115.5" y2="1122.5" stroke="#3a3a3a" stroke-width="2.6" />
<line x1="143.0" y1="1111.0" x2="143.0" y2="1117.0" stroke="#3a3a3a" stroke-width="2.6" />
<line x1="170.5" y1="1111.0" x2="170.5" y2="1122.5" stroke="#3a3a3a" stroke-width="2.6" />
<line x1="198.0" y1="1111.0" x2="198.0" y2="1117.0" stroke="#3a3a3a" stroke-width="2.6" />
<line x1="225.5" y1="1111.0" x2="225.5" y2="1122.5" stroke="#3a3a3a" stroke-width="2.6" />
<line x1="253.0" y1="1111.0" x2="253.0" y2="1117.0" stroke="#3a3a3a" stroke-width="2.6" />
<line x1="280.5" y1="1111.0" x2="280.5" y2="1122.5" stroke="#3a3a3a" stroke-width="2.6" />
<line x1="308.0" y1="1111.0" x2="308.0" y2="1117.0" stroke="#3a3a3a" stroke-width="2.6" />
<line x1="335.5" y1="1111.0" x2="335.5" y2="1122.5" stroke="#3a3a3a" stroke-width="2.6" />
<line x1="363.0" y1="1111.0" x2="363.0" y2="1117.0" stroke="#3a3a3a" stroke-width="2.6" />
<line x1="390.6" y1="1111.0" x2="390.6" y2="1122.5" stroke="#3a3a3a" stroke-width="2.6" />
<line x1="418.1" y1="1111.0" x2="418.1" y2="1117.0" stroke="#3a3a3a" stroke-width="2.6" />
<line x1="445.6" y1="1111.0" x2="445.6" y2="1122.5" stroke="#3a3a3a" stroke-width="2.6" />
<line x1="473.1" y1="1111.0" x2="473.1" y2="1117.0" stroke="#3a3a3a" stroke-width="2.6" />
<line x1="500.6" y1="1111.0" x2="500.6" y2="1122.5" stroke="#3a3a3a" stroke-width="2.6" />
<line x1="528.1" y1="1111.0" x2="528.1" y2="1117.0" stroke="#3a3a3a" stroke-width="2.6" />
<line x1="555.6" y1="1111.0" x2="555.6" y2="1122.5" stroke="#3a3a3a" stroke-width="2.6" />
<text x="55.47" y="1118.23" font-size="26.76" textLength="35.94" lengthAdjust="spacingAndGlyphs" fill="#707070" font-family="'Liberation Sans',sans-serif" font-weight="normal" >0.0</text>
<text x="55.46" y="1066.26" font-size="26.76" textLength="36.22" lengthAdjust="spacingAndGlyphs" fill="#707070" font-family="'Liberation Sans',sans-serif" font-weight="normal" >0.1</text>
<text x="55.45" y="1014.29" font-size="26.76" textLength="36.36" lengthAdjust="spacingAndGlyphs" fill="#707070" font-family="'Liberation Sans',sans-serif" font-weight="normal" >0.2</text>
<text x="55.46" y="962.32" font-size="26.76" textLength="36.08" lengthAdjust="spacingAndGlyphs" fill="#707070" font-family="'Liberation Sans',sans-serif" font-weight="normal" >0.3</text>
<text x="55.47" y="910.35" font-size="26.76" textLength="35.81" lengthAdjust="spacingAndGlyphs" fill="#707070" font-family="'Liberation Sans',sans-serif" font-weight="normal" >0.4</text>
<text x="55.46" y="858.38" font-size="26.76" textLength="36.08" lengthAdjust="spacingAndGlyphs" fill="#707070" font-family="'Liberation Sans',sans-serif" font-weight="normal" >0.5</text>
<text x="55.46" y="806.41" font-size="26.76" textLength="36.08" lengthAdjust="spacingAndGlyphs" fill="#707070" font-family="'Liberation Sans',sans-serif" font-weight="normal" >0.6</text>
<text x="55.45" y="754.44" font-size="26.76" textLength="36.36" lengthAdjust="spacingAndGlyphs" fill="#707070" font-family="'Liberation Sans',sans-serif" font-weight="normal" >0.7</text>
<text x="55.46" y="702.47" font-size="26.76" textLength="36.08" lengthAdjust="spacingAndGlyphs" fill="#707070" font-family="'Liberation Sans',sans-serif" font-weight="normal" >0.8</text>
<text x="55.46" y="650.50" font-size="26.76" textLength="36.22" lengthAdjust="spacingAndGlyphs" fill="#707070" font-family="'Liberation Sans',sans-serif" font-weight="normal" >0.9</text>
<text x="96.40" y="1156.75" font-size="24.65" textLength="38.06" lengthAdjust="spacingAndGlyphs" fill="#707070" font-family="'Liberation Sans',sans-serif" font-weight="normal" >0.0</text>
<text x="151.41" y="1156.75" font-size="24.65" textLength="38.35" lengthAdjust="spacingAndGlyphs" fill="#707070" font-family="'Liberation Sans',sans-serif" font-weight="normal" >0.1</text>
<text x="206.41" y="1156.75" font-size="24.65" textLength="38.50" lengthAdjust="spacingAndGlyphs" fill="#707070" font-family="'Liberation Sans',sans-serif" font-weight="normal" >0.2</text>
<text x="261.43" y="1156.75" font-size="24.65" textLength="38.20" lengthAdjust="spacingAndGlyphs" fill="#707070" font-family="'Liberation Sans',sans-serif" font-weight="normal" >0.3</text>
<text x="316.45" y="1156.75" font-size="24.65" textLength="37.91" lengthAdjust="spacingAndGlyphs" fill="#707070" font-family="'Liberation Sans',sans-serif" font-weight="normal" >0.4</text>
<text x="371.45" y="1156.75" font-size="24.65" textLength="38.20" lengthAdjust="spacingAndGlyphs" fill="#707070" font-family="'Liberation Sans',sans-serif" font-weight="normal" >0.5</text>
<text x="426.46" y="1156.75" font-size="24.65" textLength="38.20" lengthAdjust="spacingAndGlyphs" fill="#707070" font-family="'Liberation Sans',sans-serif" font-weight="normal" >0.6</text>
<text x="481.46" y="1156.75" font-size="24.65" textLength="38.50" lengthAdjust="spacingAndGlyphs" fill="#707070" font-family="'Liberation Sans',sans-serif" font-weight="normal" >0.7</text>
<text x="536.48" y="1156.75" font-size="24.65" textLength="38.20" lengthAdjust="spacingAndGlyphs" fill="#707070" font-family="'Liberation Sans',sans-serif" font-weight="normal" >0.8</text>
<text x="307.89" y="1202.73" font-size="26.76" textLength="37.05" lengthAdjust="spacingAndGlyphs" fill="#707070" font-family="'Liberation Sans',sans-serif" font-weight="normal" >CIE</text>
<text x="353.31" y="1203.00" font-size="24.53" textLength="10.09" lengthAdjust="spacingAndGlyphs" fill="#707070" font-family="'Liberation Sans',sans-serif" font-weight="normal"  font-style="italic">x</text>
<text transform="translate(28.25,905.63) rotate(-90)" x="0" y="0" font-size="25.35" textLength="37.57" lengthAdjust="spacingAndGlyphs" fill="#707070" font-family="'Liberation Sans',sans-serif" font-weight="normal" >CIE</text>
<text transform="translate(30.03,858.14) rotate(-90)" x="0" y="0" font-size="23.65" textLength="7.85" lengthAdjust="spacingAndGlyphs" fill="#707070" font-family="'Liberation Sans',sans-serif" font-weight="normal"  font-style="italic">y</text>
<text x="35.12" y="614.62" font-size="38.30" textLength="20.93" lengthAdjust="spacingAndGlyphs" fill="#111" font-family="'Liberation Serif',serif" font-weight="bold" >b</text>
<path d="M980.0 184.8 L982.0 184.5 L984.0 184.2 L986.0 184.0 L988.0 183.8 L990.0 183.6 L992.0 183.4 L994.0 183.3 L996.0 183.1 L998.0 183.0 L1000.0 182.9 L1002.0 182.9 L1004.0 182.8 L1006.0 182.8 L1008.0 182.8 L1010.0 182.8 L1012.0 182.9 L1014.0 182.9 L1016.0 183.0 L1018.0 183.1 L1020.0 183.2 L1022.0 183.4 L1024.0 183.6 L1026.0 183.8 L1028.0 184.0 L1030.0 184.2 L1032.0 184.5" stroke="#e8121e" stroke-width="8" stroke-linecap="round" fill="none"/>
<path d="M1041.4 184.3 L1043.4 185.5 L1045.4 186.7 L1047.4 188.0 L1049.4 189.2 L1051.4 190.5 L1053.4 191.8 L1055.4 193.1 L1057.4 194.4 L1059.4 195.8 L1061.4 197.2 L1063.4 198.6 L1065.4 200.0 L1067.4 201.4 L1069.4 202.9 L1071.4 204.3 L1073.4 205.8 L1075.4 207.3 L1077.4 208.9" stroke="#e8121e" stroke-width="8" stroke-linecap="round" fill="none"/>
<path d="M979.0 136.6 L981.0 136.3 L983.0 136.1 L985.0 135.8 L987.0 135.6 L989.0 135.4 L991.0 135.2 L993.0 135.1 L995.0 134.9 L997.0 134.8 L999.0 134.7 L1001.0 134.7 L1003.0 134.6 L1005.0 134.6 L1007.0 134.6 L1009.0 134.6 L1011.0 134.7 L1013.0 134.7 L1015.0 134.8 L1017.0 134.9 L1019.0 135.0 L1021.0 135.2 L1023.0 135.4 L1025.0 135.6 L1027.0 135.8 L1029.0 136.0 L1031.0 136.3" stroke="#e83848" stroke-width="7.5" stroke-linecap="round" fill="none"/>
<path d="M979.0 136.6 L981.0 136.3 L983.0 136.1 L985.0 135.8 L987.0 135.6 L989.0 135.4 L991.0 135.2 L993.0 135.1 L995.0 134.9 L997.0 134.8 L999.0 134.7 L1001.0 134.7 L1003.0 134.6 L1005.0 134.6 L1007.0 134.6 L1009.0 134.6 L1011.0 134.7 L1013.0 134.7 L1015.0 134.8 L1017.0 134.9 L1019.0 135.0 L1021.0 135.2 L1023.0 135.4 L1025.0 135.6 L1027.0 135.8 L1029.0 136.0 L1031.0 136.3" stroke="#f27884" stroke-width="2.5" stroke-linecap="round" fill="none"/>
<path d="M1040.5 135.5 L1042.5 136.6 L1044.5 137.7 L1046.5 138.9 L1048.5 140.1 L1050.5 141.4 L1052.5 142.8 L1054.5 144.2 L1056.5 145.7 L1058.5 147.3 L1060.5 148.9 L1062.5 150.6 L1064.5 152.4 L1066.5 154.2 L1068.5 156.0 L1070.5 158.0 L1072.5 160.0 L1074.5 162.1 L1076.5 164.2 L1078.5 166.4" stroke="#e83848" stroke-width="7.5" stroke-linecap="round" fill="none"/>
<path d="M1040.5 135.5 L1042.5 136.6 L1044.5 137.7 L1046.5 138.9 L1048.5 140.1 L1050.5 141.4 L1052.5 142.8 L1054.5 144.2 L1056.5 145.7 L1058.5 147.3 L1060.5 148.9 L1062.5 150.6 L1064.5 152.4 L1066.5 154.2 L1068.5 156.0 L1070.5 158.0 L1072.5 160.0 L1074.5 162.1 L1076.5 164.2 L1078.5 166.4" stroke="#f27884" stroke-width="2.5" stroke-linecap="round" fill="none"/>
<path d="M767.6 461.0l4.8 8.5h-9.5zM788.5 450.3l4.8 8.5h-9.5zM809.6 434.9l4.8 8.5h-9.5zM824.2 418.0l4.8 8.5h-9.5zM839.7 394.4l4.8 8.5h-9.5zM853.0 367.9l4.8 8.5h-9.5zM867.0 334.8l4.8 8.5h-9.5zM878.4 310.5l4.8 8.5h-9.5zM888.7 285.3l4.8 8.5h-9.5zM898.0 266.1l4.8 8.5h-9.5zM907.7 251.2l4.8 8.5h-9.5zM917.3 233.3l4.8 8.5h-9.5zM927.0 221.4l4.8 8.5h-9.5zM935.2 212.5l4.8 8.5h-9.5zM943.6 204.9l4.8 8.5h-9.5zM951.8 198.6l4.8 8.5h-9.5zM959.1 194.9l4.8 8.5h-9.5zM966.4 192.2l4.8 8.5h-9.5zM973.7 189.5l4.8 8.5h-9.5zM1033.9 193.5l4.8 8.5h-9.5z" fill="#e8141f" stroke="#e8141f" stroke-width="0.8" stroke-linejoin="round"/>
<path d="M767.6 461.3l4.5 8.0h-9.0zM788.5 450.6l4.5 8.0h-9.0zM809.6 431.2l4.5 8.0h-9.0zM824.2 410.8l4.5 8.0h-9.0zM839.7 382.8l4.5 8.0h-9.0zM853.0 351.7l4.5 8.0h-9.0zM866.6 313.6l4.5 8.0h-9.0zM878.4 282.8l4.5 8.0h-9.0zM888.5 254.2l4.5 8.0h-9.0zM899.5 230.6l4.5 8.0h-9.0zM907.7 214.2l4.5 8.0h-9.0zM917.3 194.9l4.5 8.0h-9.0zM927.0 179.2l4.5 8.0h-9.0zM935.2 168.8l4.5 8.0h-9.0zM943.6 161.6l4.5 8.0h-9.0zM950.9 154.3l4.5 8.0h-9.0zM959.1 148.9l4.5 8.0h-9.0zM966.4 145.2l4.5 8.0h-9.0zM972.8 141.6l4.5 8.0h-9.0zM1034.7 146.4l4.5 8.0h-9.0z" fill="#f47a86" stroke="#e62c3c" stroke-width="1.5" stroke-linejoin="round"/>
<path d="M938 155.6 H892" stroke="#333" stroke-width="2.6"/><path d="M884.5 155.6 l15 -7 v14 z" fill="#222"/>
<path d="M1080 202.2 H1115" stroke="#333" stroke-width="2.6"/><path d="M1126 202.2 l-15 -7 v14 z" fill="#222"/>
<rect x="985.8" y="239.3" width="175.79999999999995" height="169.59999999999997" fill="#fff" stroke="#e05a6c" stroke-width="2.6" rx="1.5"/>
<path d="M985.8 405.5 L986.2 405.5 L986.5 405.5 L986.9 405.5 L987.2 405.5 L987.6 405.5 L987.9 405.5 L988.3 405.5 L988.6 405.5 L989.0 405.5 L989.3 405.5 L989.7 405.5 L990.0 405.5 L990.4 405.5 L990.7 405.5 L991.1 405.5 L991.4 405.5 L991.8 405.5 L992.1 405.5 L992.5 405.5 L992.8 405.4 L993.2 405.4 L993.5 405.4 L993.9 405.4 L994.2 405.4 L994.6 405.4 L994.9 405.4 L995.3 405.4 L995.6 405.4 L996.0 405.4 L996.3 405.4 L996.7 405.4 L997.0 405.4 L997.4 405.4 L997.8 405.4 L998.1 405.4 L998.5 405.4 L998.8 405.4 L999.2 405.4 L999.5 405.4 L999.9 405.4 L1000.2 405.4 L1000.6 405.4 L1000.9 405.4 L1001.3 405.4 L1001.6 405.4 L1002.0 405.4 L1002.3 405.3 L1002.7 405.3 L1003.0 405.3 L1003.4 405.3 L1003.7 405.3 L1004.1 405.3 L1004.4 405.3 L1004.8 405.3 L1005.1 405.3 L1005.5 405.3 L1005.8 405.3 L1006.2 405.3 L1006.5 405.3 L1006.9 405.3 L1007.2 405.3 L1007.6 405.3 L1007.9 405.3 L1008.3 405.3 L1008.6 405.3 L1009.0 405.3 L1009.4 405.2 L1009.7 405.2 L1010.1 405.2 L1010.4 405.2 L1010.8 405.2 L1011.1 405.2 L1011.5 405.2 L1011.8 405.2 L1012.2 405.2 L1012.5 405.2 L1012.9 405.2 L1013.2 405.2 L1013.6 405.2 L1013.9 405.2 L1014.3 405.2 L1014.6 405.1 L1015.0 405.1 L1015.3 405.1 L1015.7 405.1 L1016.0 405.1 L1016.4 405.1 L1016.7 405.1 L1017.1 405.1 L1017.4 405.1 L1017.8 405.1 L1018.1 405.1 L1018.5 405.1 L1018.8 405.0 L1019.2 405.0 L1019.5 405.0 L1019.9 405.0 L1020.2 405.0 L1020.6 405.0 L1020.9 405.0 L1021.3 405.0 L1021.7 405.0 L1022.0 404.9 L1022.4 404.9 L1022.7 404.9 L1023.1 404.9 L1023.4 404.9 L1023.8 404.9 L1024.1 404.9 L1024.5 404.9 L1024.8 404.8 L1025.2 404.8 L1025.5 404.8 L1025.9 404.8 L1026.2 404.8 L1026.6 404.8 L1026.9 404.8 L1027.3 404.7 L1027.6 404.7 L1028.0 404.7 L1028.3 404.7 L1028.7 404.7 L1029.0 404.7 L1029.4 404.6 L1029.7 404.6 L1030.1 404.6 L1030.4 404.6 L1030.8 404.6 L1031.1 404.6 L1031.5 404.5 L1031.8 404.5 L1032.2 404.5 L1032.5 404.5 L1032.9 404.4 L1033.3 404.4 L1033.6 404.4 L1034.0 404.4 L1034.3 404.3 L1034.7 404.3 L1035.0 404.3 L1035.4 404.3 L1035.7 404.2 L1036.1 404.2 L1036.4 404.2 L1036.8 404.2 L1037.1 404.1 L1037.5 404.1 L1037.8 404.1 L1038.2 404.0 L1038.5 404.0 L1038.9 404.0 L1039.2 403.9 L1039.6 403.9 L1039.9 403.8 L1040.3 403.8 L1040.6 403.8 L1041.0 403.7 L1041.3 403.7 L1041.7 403.6 L1042.0 403.6 L1042.4 403.5 L1042.7 403.5 L1043.1 403.4 L1043.4 403.4 L1043.8 403.3 L1044.1 403.3 L1044.5 403.2 L1044.9 403.2 L1045.2 403.1 L1045.6 403.0 L1045.9 403.0 L1046.3 402.9 L1046.6 402.8 L1047.0 402.8 L1047.3 402.7 L1047.7 402.6 L1048.0 402.5 L1048.4 402.4 L1048.7 402.3 L1049.1 402.2 L1049.4 402.1 L1049.8 402.0 L1050.1 401.9 L1050.5 401.8 L1050.8 401.7 L1051.2 401.6 L1051.5 401.4 L1051.9 401.3 L1052.2 401.1 L1052.6 401.0 L1052.9 400.8 L1053.3 400.6 L1053.6 400.4 L1054.0 400.2 L1054.3 399.9 L1054.7 399.6 L1055.0 399.4 L1055.4 399.0 L1055.7 398.7 L1056.1 398.3 L1056.5 397.9 L1056.8 397.4 L1057.2 396.9 L1057.5 396.3 L1057.9 395.7 L1058.2 395.0 L1058.6 394.2 L1058.9 393.3 L1059.3 392.3 L1059.6 391.3 L1060.0 390.1 L1060.3 388.8 L1060.7 387.4 L1061.0 385.9 L1061.4 384.2 L1061.7 382.3 L1062.1 380.3 L1062.4 378.2 L1062.8 375.8 L1063.1 373.3 L1063.5 370.6 L1063.8 367.7 L1064.2 364.6 L1064.5 361.3 L1064.9 357.8 L1065.2 354.2 L1065.6 350.3 L1065.9 346.3 L1066.3 342.1 L1066.6 337.8 L1067.0 333.3 L1067.3 328.7 L1067.7 324.0 L1068.1 319.3 L1068.4 314.5 L1068.8 309.7 L1069.1 305.0 L1069.5 300.3 L1069.8 295.7 L1070.2 291.3 L1070.5 287.0 L1070.9 283.1 L1071.2 279.4 L1071.6 276.1 L1071.9 273.2 L1072.3 270.7 L1072.6 268.8 L1073.0 267.4 L1073.3 266.5 L1073.7 266.2 L1074.0 266.4 L1074.4 267.0 L1074.7 267.9 L1075.1 269.2 L1075.4 270.9 L1075.8 272.8 L1076.1 275.1 L1076.5 277.6 L1076.8 280.4 L1077.2 283.4 L1077.5 286.5 L1077.9 289.8 L1078.2 293.3 L1078.6 296.8 L1078.9 300.4 L1079.3 304.0 L1079.7 307.7 L1080.0 311.4 L1080.4 315.0 L1080.7 318.7 L1081.1 322.3 L1081.4 325.8 L1081.8 329.3 L1082.1 332.7 L1082.5 336.0 L1082.8 339.2 L1083.2 342.4 L1083.5 345.4 L1083.9 348.3 L1084.2 351.2 L1084.6 353.9 L1084.9 356.5 L1085.3 359.0 L1085.6 361.4 L1086.0 363.7 L1086.3 365.9 L1086.7 368.0 L1087.0 369.9 L1087.4 371.8 L1087.7 373.6 L1088.1 375.3 L1088.4 376.8 L1088.8 378.3 L1089.1 379.7 L1089.5 381.0 L1089.8 382.3 L1090.2 383.4 L1090.5 384.5 L1090.9 385.6 L1091.2 386.5 L1091.6 387.4 L1092.0 388.3 L1092.3 389.0 L1092.7 389.8 L1093.0 390.5 L1093.4 391.1 L1093.7 391.7 L1094.1 392.3 L1094.4 392.8 L1094.8 393.3 L1095.1 393.7 L1095.5 394.2 L1095.8 394.6 L1096.2 395.0 L1096.5 395.3 L1096.9 395.7 L1097.2 396.0 L1097.6 396.3 L1097.9 396.6 L1098.3 396.8 L1098.6 397.1 L1099.0 397.3 L1099.3 397.6 L1099.7 397.8 L1100.0 398.0 L1100.4 398.2 L1100.7 398.4 L1101.1 398.6 L1101.4 398.7 L1101.8 398.9 L1102.1 399.1 L1102.5 399.2 L1102.8 399.4 L1103.2 399.5 L1103.6 399.7 L1103.9 399.8 L1104.3 399.9 L1104.6 400.1 L1105.0 400.2 L1105.3 400.3 L1105.7 400.4 L1106.0 400.5 L1106.4 400.6 L1106.7 400.7 L1107.1 400.8 L1107.4 400.9 L1107.8 401.0 L1108.1 401.1 L1108.5 401.2 L1108.8 401.3 L1109.2 401.4 L1109.5 401.4 L1109.9 401.5 L1110.2 401.6 L1110.6 401.7 L1110.9 401.8 L1111.3 401.8 L1111.6 401.9 L1112.0 402.0 L1112.3 402.0 L1112.7 402.1 L1113.0 402.2 L1113.4 402.2 L1113.7 402.3 L1114.1 402.3 L1114.4 402.4 L1114.8 402.4 L1115.2 402.5 L1115.5 402.6 L1115.9 402.6 L1116.2 402.7 L1116.6 402.7 L1116.9 402.8 L1117.3 402.8 L1117.6 402.8 L1118.0 402.9 L1118.3 402.9 L1118.7 403.0 L1119.0 403.0 L1119.4 403.1 L1119.7 403.1 L1120.1 403.1 L1120.4 403.2 L1120.8 403.2 L1121.1 403.3 L1121.5 403.3 L1121.8 403.3 L1122.2 403.4 L1122.5 403.4 L1122.9 403.4 L1123.2 403.5 L1123.6 403.5 L1123.9 403.5 L1124.3 403.6 L1124.6 403.6 L1125.0 403.6 L1125.3 403.6 L1125.7 403.7 L1126.0 403.7 L1126.4 403.7 L1126.8 403.8 L1127.1 403.8 L1127.5 403.8 L1127.8 403.8 L1128.2 403.9 L1128.5 403.9 L1128.9 403.9 L1129.2 403.9 L1129.6 403.9 L1129.9 404.0 L1130.3 404.0 L1130.6 404.0 L1131.0 404.0 L1131.3 404.1 L1131.7 404.1 L1132.0 404.1 L1132.4 404.1 L1132.7 404.1 L1133.1 404.2 L1133.4 404.2 L1133.8 404.2 L1134.1 404.2 L1134.5 404.2 L1134.8 404.2 L1135.2 404.3 L1135.5 404.3 L1135.9 404.3 L1136.2 404.3 L1136.6 404.3 L1136.9 404.3 L1137.3 404.4 L1137.6 404.4 L1138.0 404.4 L1138.4 404.4 L1138.7 404.4 L1139.1 404.4 L1139.4 404.5 L1139.8 404.5 L1140.1 404.5 L1140.5 404.5 L1140.8 404.5 L1141.2 404.5 L1141.5 404.5 L1141.9 404.5 L1142.2 404.6 L1142.6 404.6 L1142.9 404.6 L1143.3 404.6 L1143.6 404.6 L1144.0 404.6 L1144.3 404.6 L1144.7 404.6 L1145.0 404.7 L1145.4 404.7 L1145.7 404.7 L1146.1 404.7 L1146.4 404.7 L1146.8 404.7 L1147.1 404.7 L1147.5 404.7 L1147.8 404.7 L1148.2 404.7 L1148.5 404.8 L1148.9 404.8 L1149.2 404.8 L1149.6 404.8 L1150.0 404.8 L1150.3 404.8 L1150.7 404.8 L1151.0 404.8 L1151.4 404.8 L1151.7 404.8 L1152.1 404.8 L1152.4 404.9 L1152.8 404.9 L1153.1 404.9 L1153.5 404.9 L1153.8 404.9 L1154.2 404.9 L1154.5 404.9 L1154.9 404.9 L1155.2 404.9 L1155.6 404.9 L1155.9 404.9 L1156.3 404.9 L1156.6 404.9 L1157.0 405.0 L1157.3 405.0 L1157.7 405.0 L1158.0 405.0 L1158.4 405.0 L1158.7 405.0 L1159.1 405.0 L1159.4 405.0 L1159.8 405.0 L1160.1 405.0 L1160.5 405.0 L1160.8 405.0 L1161.2 405.0 L1161.5 405.0" stroke="#e05a70" stroke-width="2.6" fill="none"/>
<path d="M985.8 405.5 H1161.6" stroke="#e06a7a" stroke-width="2.4"/>
<line x1="1056.1" y1="408.9" x2="1056.1" y2="412.9" stroke="#c05a6a" stroke-width="2" />
<line x1="1126.4" y1="408.9" x2="1126.4" y2="412.9" stroke="#c05a6a" stroke-width="2" />
<text x="968.99" y="436.82" font-size="17.61" textLength="33.58" lengthAdjust="spacingAndGlyphs" fill="#7a7a7a" font-family="'Liberation Sans',sans-serif" font-weight="normal" >500</text>
<text x="1039.09" y="436.82" font-size="17.61" textLength="33.79" lengthAdjust="spacingAndGlyphs" fill="#7a7a7a" font-family="'Liberation Sans',sans-serif" font-weight="normal" >600</text>
<text x="1109.39" y="436.82" font-size="17.61" textLength="33.79" lengthAdjust="spacingAndGlyphs" fill="#7a7a7a" font-family="'Liberation Sans',sans-serif" font-weight="normal" >700</text>
<text x="1003.41" y="460.24" font-size="15.51" textLength="140.74" lengthAdjust="spacingAndGlyphs" fill="#7a7a7a" font-family="'Liberation Sans',sans-serif" font-weight="normal" >Wavelength (nm)</text>
<text transform="translate(948.30,415.59) rotate(-90)" x="0" y="0" font-size="20.41" textLength="183.52" lengthAdjust="spacingAndGlyphs" fill="#7a7a7a" font-family="'Liberation Sans',sans-serif" font-weight="normal" >Electroluminescence</text>
<text transform="translate(971.02,381.27) rotate(-90)" x="0" y="0" font-size="16.58" textLength="122.54" lengthAdjust="spacingAndGlyphs" fill="#7a7a7a" font-family="'Liberation Sans',sans-serif" font-weight="normal" >intensity (a.u.)</text>
<rect x="744.4" y="111" width="433.1" height="364.5" fill="none" stroke="#555" stroke-width="3"/>
<line x1="731.5" y1="475.5" x2="744.4" y2="475.5" stroke="#555" stroke-width="3" />
<line x1="738.5" y1="429.9" x2="744.4" y2="429.9" stroke="#555" stroke-width="3" />
<line x1="731.5" y1="384.4" x2="744.4" y2="384.4" stroke="#555" stroke-width="3" />
<line x1="738.5" y1="338.8" x2="744.4" y2="338.8" stroke="#555" stroke-width="3" />
<line x1="731.5" y1="293.2" x2="744.4" y2="293.2" stroke="#555" stroke-width="3" />
<line x1="738.5" y1="247.7" x2="744.4" y2="247.7" stroke="#555" stroke-width="3" />
<line x1="731.5" y1="202.1" x2="744.4" y2="202.1" stroke="#555" stroke-width="3" />
<line x1="738.5" y1="156.6" x2="744.4" y2="156.6" stroke="#555" stroke-width="3" />
<line x1="731.5" y1="111.0" x2="744.4" y2="111.0" stroke="#555" stroke-width="3" />
<line x1="1177.5" y1="475.5" x2="1190.5" y2="475.5" stroke="#555" stroke-width="3" />
<line x1="1177.5" y1="414.8" x2="1184.0" y2="414.8" stroke="#555" stroke-width="3" />
<line x1="1177.5" y1="354.0" x2="1190.5" y2="354.0" stroke="#555" stroke-width="3" />
<line x1="1177.5" y1="293.2" x2="1184.0" y2="293.2" stroke="#555" stroke-width="3" />
<line x1="1177.5" y1="232.5" x2="1190.5" y2="232.5" stroke="#555" stroke-width="3" />
<line x1="1177.5" y1="171.8" x2="1184.0" y2="171.8" stroke="#555" stroke-width="3" />
<line x1="1177.5" y1="111.0" x2="1190.5" y2="111.0" stroke="#555" stroke-width="3" />
<line x1="744.4" y1="475.5" x2="744.4" y2="481.0" stroke="#555" stroke-width="2.4" />
<line x1="749.1" y1="475.5" x2="749.1" y2="481.0" stroke="#555" stroke-width="2.4" />
<line x1="753.1" y1="475.5" x2="753.1" y2="481.0" stroke="#555" stroke-width="2.4" />
<line x1="756.5" y1="475.5" x2="756.5" y2="481.0" stroke="#555" stroke-width="2.4" />
<line x1="759.6" y1="475.5" x2="759.6" y2="481.0" stroke="#555" stroke-width="2.4" />
<line x1="762.3" y1="475.5" x2="762.3" y2="485.5" stroke="#555" stroke-width="2.4" />
<line x1="780.2" y1="475.5" x2="780.2" y2="481.0" stroke="#555" stroke-width="2.4" />
<line x1="790.6" y1="475.5" x2="790.6" y2="481.0" stroke="#555" stroke-width="2.4" />
<line x1="798.0" y1="475.5" x2="798.0" y2="481.0" stroke="#555" stroke-width="2.4" />
<line x1="803.8" y1="475.5" x2="803.8" y2="481.0" stroke="#555" stroke-width="2.4" />
<line x1="808.5" y1="475.5" x2="808.5" y2="481.0" stroke="#555" stroke-width="2.4" />
<line x1="812.5" y1="475.5" x2="812.5" y2="481.0" stroke="#555" stroke-width="2.4" />
<line x1="815.9" y1="475.5" x2="815.9" y2="481.0" stroke="#555" stroke-width="2.4" />
<line x1="818.9" y1="475.5" x2="818.9" y2="481.0" stroke="#555" stroke-width="2.4" />
<line x1="821.7" y1="475.5" x2="821.7" y2="485.5" stroke="#555" stroke-width="2.4" />
<line x1="839.5" y1="475.5" x2="839.5" y2="481.0" stroke="#555" stroke-width="2.4" />
<line x1="850.0" y1="475.5" x2="850.0" y2="481.0" stroke="#555" stroke-width="2.4" />
<line x1="857.4" y1="475.5" x2="857.4" y2="481.0" stroke="#555" stroke-width="2.4" />
<line x1="863.2" y1="475.5" x2="863.2" y2="481.0" stroke="#555" stroke-width="2.4" />
<line x1="867.9" y1="475.5" x2="867.9" y2="481.0" stroke="#555" stroke-width="2.4" />
<line x1="871.8" y1="475.5" x2="871.8" y2="481.0" stroke="#555" stroke-width="2.4" />
<line x1="875.3" y1="475.5" x2="875.3" y2="481.0" stroke="#555" stroke-width="2.4" />
<line x1="878.3" y1="475.5" x2="878.3" y2="481.0" stroke="#555" stroke-width="2.4" />
<line x1="881.0" y1="475.5" x2="881.0" y2="485.5" stroke="#555" stroke-width="2.4" />
<line x1="898.9" y1="475.5" x2="898.9" y2="481.0" stroke="#555" stroke-width="2.4" />
<line x1="909.3" y1="475.5" x2="909.3" y2="481.0" stroke="#555" stroke-width="2.4" />
<line x1="916.8" y1="475.5" x2="916.8" y2="481.0" stroke="#555" stroke-width="2.4" />
<line x1="922.5" y1="475.5" x2="922.5" y2="481.0" stroke="#555" stroke-width="2.4" />
<line x1="927.2" y1="475.5" x2="927.2" y2="481.0" stroke="#555" stroke-width="2.4" />
<line x1="931.2" y1="475.5" x2="931.2" y2="481.0" stroke="#555" stroke-width="2.4" />
<line x1="934.6" y1="475.5" x2="934.6" y2="481.0" stroke="#555" stroke-width="2.4" />
<line x1="937.7" y1="475.5" x2="937.7" y2="481.0" stroke="#555" stroke-width="2.4" />
<line x1="940.4" y1="475.5" x2="940.4" y2="485.5" stroke="#555" stroke-width="2.4" />
<line x1="958.2" y1="475.5" x2="958.2" y2="481.0" stroke="#555" stroke-width="2.4" />
<line x1="968.7" y1="475.5" x2="968.7" y2="481.0" stroke="#555" stroke-width="2.4" />
<line x1="976.1" y1="475.5" x2="976.1" y2="481.0" stroke="#555" stroke-width="2.4" />
<line x1="981.9" y1="475.5" x2="981.9" y2="481.0" stroke="#555" stroke-width="2.4" />
<line x1="986.6" y1="475.5" x2="986.6" y2="481.0" stroke="#555" stroke-width="2.4" />
<line x1="990.5" y1="475.5" x2="990.5" y2="481.0" stroke="#555" stroke-width="2.4" />
<line x1="994.0" y1="475.5" x2="994.0" y2="481.0" stroke="#555" stroke-width="2.4" />
<line x1="997.0" y1="475.5" x2="997.0" y2="481.0" stroke="#555" stroke-width="2.4" />
<line x1="999.7" y1="475.5" x2="999.7" y2="485.5" stroke="#555" stroke-width="2.4" />
<line x1="1017.6" y1="475.5" x2="1017.6" y2="481.0" stroke="#555" stroke-width="2.4" />
<line x1="1028.1" y1="475.5" x2="1028.1" y2="481.0" stroke="#555" stroke-width="2.4" />
<line x1="1035.5" y1="475.5" x2="1035.5" y2="481.0" stroke="#555" stroke-width="2.4" />
<line x1="1041.2" y1="475.5" x2="1041.2" y2="481.0" stroke="#555" stroke-width="2.4" />
<line x1="1045.9" y1="475.5" x2="1045.9" y2="481.0" stroke="#555" stroke-width="2.4" />
<line x1="1049.9" y1="475.5" x2="1049.9" y2="481.0" stroke="#555" stroke-width="2.4" />
<line x1="1053.3" y1="475.5" x2="1053.3" y2="481.0" stroke="#555" stroke-width="2.4" />
<line x1="1056.4" y1="475.5" x2="1056.4" y2="481.0" stroke="#555" stroke-width="2.4" />
<line x1="1059.1" y1="475.5" x2="1059.1" y2="485.5" stroke="#555" stroke-width="2.4" />
<line x1="1077.0" y1="475.5" x2="1077.0" y2="481.0" stroke="#555" stroke-width="2.4" />
<line x1="1087.4" y1="475.5" x2="1087.4" y2="481.0" stroke="#555" stroke-width="2.4" />
<line x1="1094.8" y1="475.5" x2="1094.8" y2="481.0" stroke="#555" stroke-width="2.4" />
<line x1="1100.6" y1="475.5" x2="1100.6" y2="481.0" stroke="#555" stroke-width="2.4" />
<line x1="1105.3" y1="475.5" x2="1105.3" y2="481.0" stroke="#555" stroke-width="2.4" />
<line x1="1109.3" y1="475.5" x2="1109.3" y2="481.0" stroke="#555" stroke-width="2.4" />
<line x1="1112.7" y1="475.5" x2="1112.7" y2="481.0" stroke="#555" stroke-width="2.4" />
<line x1="1115.7" y1="475.5" x2="1115.7" y2="481.0" stroke="#555" stroke-width="2.4" />
<line x1="1118.5" y1="475.5" x2="1118.5" y2="485.5" stroke="#555" stroke-width="2.4" />
<line x1="1136.3" y1="475.5" x2="1136.3" y2="481.0" stroke="#555" stroke-width="2.4" />
<line x1="1146.8" y1="475.5" x2="1146.8" y2="481.0" stroke="#555" stroke-width="2.4" />
<line x1="1154.2" y1="475.5" x2="1154.2" y2="481.0" stroke="#555" stroke-width="2.4" />
<line x1="1160.0" y1="475.5" x2="1160.0" y2="481.0" stroke="#555" stroke-width="2.4" />
<line x1="1164.7" y1="475.5" x2="1164.7" y2="481.0" stroke="#555" stroke-width="2.4" />
<line x1="1168.6" y1="475.5" x2="1168.6" y2="481.0" stroke="#555" stroke-width="2.4" />
<line x1="1172.1" y1="475.5" x2="1172.1" y2="481.0" stroke="#555" stroke-width="2.4" />
<line x1="1175.1" y1="475.5" x2="1175.1" y2="481.0" stroke="#555" stroke-width="2.4" />
<text x="706.06" y="485.22" font-size="28.17" textLength="14.48" lengthAdjust="spacingAndGlyphs" fill="#707070" font-family="'Liberation Sans',sans-serif" font-weight="normal" >0</text>
<text x="706.60" y="394.38" font-size="28.99" textLength="13.77" lengthAdjust="spacingAndGlyphs" fill="#707070" font-family="'Liberation Sans',sans-serif" font-weight="normal" >4</text>
<text x="705.90" y="302.97" font-size="28.17" textLength="14.79" lengthAdjust="spacingAndGlyphs" fill="#707070" font-family="'Liberation Sans',sans-serif" font-weight="normal" >8</text>
<text x="693.77" y="212.12" font-size="28.57" textLength="27.10" lengthAdjust="spacingAndGlyphs" fill="#707070" font-family="'Liberation Sans',sans-serif" font-weight="normal" >12</text>
<text x="693.79" y="120.72" font-size="28.17" textLength="26.83" lengthAdjust="spacingAndGlyphs" fill="#707070" font-family="'Liberation Sans',sans-serif" font-weight="normal" >16</text>
<text x="1201.96" y="485.22" font-size="28.17" textLength="14.48" lengthAdjust="spacingAndGlyphs" fill="#707070" font-family="'Liberation Sans',sans-serif" font-weight="normal" >0</text>
<text x="1201.95" y="363.71" font-size="28.57" textLength="14.64" lengthAdjust="spacingAndGlyphs" fill="#707070" font-family="'Liberation Sans',sans-serif" font-weight="normal" >5</text>
<text x="1201.24" y="242.22" font-size="28.17" textLength="26.14" lengthAdjust="spacingAndGlyphs" fill="#707070" font-family="'Liberation Sans',sans-serif" font-weight="normal" >10</text>
<text x="1201.23" y="120.71" font-size="28.57" textLength="26.27" lengthAdjust="spacingAndGlyphs" fill="#707070" font-family="'Liberation Sans',sans-serif" font-weight="normal" >15</text>
<text x="739.50" y="523.44" font-size="26.06" textLength="26.70" lengthAdjust="spacingAndGlyphs" fill="#707070" font-family="'Liberation Sans',sans-serif" font-weight="normal" >10</text>
<text x="766.68" y="515.20" font-size="17.39" textLength="14.18" lengthAdjust="spacingAndGlyphs" fill="#707070" font-family="'Liberation Sans',sans-serif" font-weight="normal" >−1</text>
<text x="798.86" y="523.44" font-size="26.06" textLength="26.70" lengthAdjust="spacingAndGlyphs" fill="#707070" font-family="'Liberation Sans',sans-serif" font-weight="normal" >10</text>
<text x="826.08" y="515.03" font-size="16.90" textLength="8.11" lengthAdjust="spacingAndGlyphs" fill="#707070" font-family="'Liberation Sans',sans-serif" font-weight="normal" >0</text>
<text x="858.22" y="523.44" font-size="26.06" textLength="26.70" lengthAdjust="spacingAndGlyphs" fill="#707070" font-family="'Liberation Sans',sans-serif" font-weight="normal" >10</text>
<text x="884.81" y="515.20" font-size="17.39" textLength="8.95" lengthAdjust="spacingAndGlyphs" fill="#707070" font-family="'Liberation Sans',sans-serif" font-weight="normal" >1</text>
<text x="917.58" y="523.44" font-size="26.06" textLength="26.70" lengthAdjust="spacingAndGlyphs" fill="#707070" font-family="'Liberation Sans',sans-serif" font-weight="normal" >10</text>
<text x="944.61" y="515.20" font-size="17.14" textLength="8.56" lengthAdjust="spacingAndGlyphs" fill="#707070" font-family="'Liberation Sans',sans-serif" font-weight="normal" >2</text>
<text x="976.94" y="523.44" font-size="26.06" textLength="26.70" lengthAdjust="spacingAndGlyphs" fill="#707070" font-family="'Liberation Sans',sans-serif" font-weight="normal" >10</text>
<text x="1004.15" y="515.03" font-size="16.90" textLength="8.20" lengthAdjust="spacingAndGlyphs" fill="#707070" font-family="'Liberation Sans',sans-serif" font-weight="normal" >3</text>
<text x="1036.30" y="523.44" font-size="26.06" textLength="26.70" lengthAdjust="spacingAndGlyphs" fill="#707070" font-family="'Liberation Sans',sans-serif" font-weight="normal" >10</text>
<text x="1063.82" y="515.20" font-size="17.39" textLength="7.71" lengthAdjust="spacingAndGlyphs" fill="#707070" font-family="'Liberation Sans',sans-serif" font-weight="normal" >4</text>
<text x="1095.66" y="523.44" font-size="26.06" textLength="26.70" lengthAdjust="spacingAndGlyphs" fill="#707070" font-family="'Liberation Sans',sans-serif" font-weight="normal" >10</text>
<text x="1122.87" y="515.03" font-size="17.14" textLength="8.20" lengthAdjust="spacingAndGlyphs" fill="#707070" font-family="'Liberation Sans',sans-serif" font-weight="normal" >5</text>
<text x="1155.02" y="523.44" font-size="26.06" textLength="26.70" lengthAdjust="spacingAndGlyphs" fill="#707070" font-family="'Liberation Sans',sans-serif" font-weight="normal" >10</text>
<text x="1182.07" y="515.03" font-size="16.90" textLength="8.37" lengthAdjust="spacingAndGlyphs" fill="#707070" font-family="'Liberation Sans',sans-serif" font-weight="normal" >6</text>
<text transform="translate(676.32,359.66) rotate(-90)" x="0" y="0" font-size="23.73" textLength="17.05" lengthAdjust="spacingAndGlyphs" fill="#707070" font-family="'Liberation Sans',sans-serif" font-weight="normal"  font-style="italic">η</text>
<text transform="translate(684.00,342.50) rotate(-90)" x="0" y="0" font-size="20.29" textLength="11.54" lengthAdjust="spacingAndGlyphs" fill="#707070" font-family="'Liberation Sans',sans-serif" font-weight="normal" >A</text>
<text transform="translate(674.06,323.60) rotate(-90)" x="0" y="0" font-size="23.53" textLength="60.70" lengthAdjust="spacingAndGlyphs" fill="#707070" font-family="'Liberation Sans',sans-serif" font-weight="normal" >(cd A</text>
<text transform="translate(666.00,257.46) rotate(-90)" x="0" y="0" font-size="16.67" textLength="19.53" lengthAdjust="spacingAndGlyphs" fill="#707070" font-family="'Liberation Sans',sans-serif" font-weight="normal" >−1</text>
<text transform="translate(674.06,238.89) rotate(-90)" x="0" y="0" font-size="23.53" textLength="12.82" lengthAdjust="spacingAndGlyphs" fill="#707070" font-family="'Liberation Sans',sans-serif" font-weight="normal" >)</text>
<text x="897.11" y="569.90" font-size="27.25" textLength="11.00" lengthAdjust="spacingAndGlyphs" fill="#707070" font-family="'Liberation Sans',sans-serif" font-weight="normal"  font-style="italic">L</text>
<text x="915.81" y="567.14" font-size="23.64" textLength="36.90" lengthAdjust="spacingAndGlyphs" fill="#707070" font-family="'Liberation Sans',sans-serif" font-weight="normal" >(cd</text>
<text x="959.42" y="569.90" font-size="21.67" textLength="22.81" lengthAdjust="spacingAndGlyphs" fill="#707070" font-family="'Liberation Sans',sans-serif" font-weight="normal" >m</text>
<text x="983.36" y="560.10" font-size="16.71" textLength="14.58" lengthAdjust="spacingAndGlyphs" fill="#707070" font-family="'Liberation Sans',sans-serif" font-weight="normal" >−2</text>
<text x="1006.85" y="567.25" font-size="23.10" textLength="10.05" lengthAdjust="spacingAndGlyphs" fill="#707070" font-family="'Liberation Sans',sans-serif" font-weight="normal" >)</text>
<text transform="translate(1254.80,242.56) rotate(90)" x="0" y="0" font-size="24.27" textLength="12.67" lengthAdjust="spacingAndGlyphs" fill="#707070" font-family="'Liberation Sans',sans-serif" font-weight="normal"  font-style="italic">η</text>
<text transform="translate(1249.38,254.84) rotate(90)" x="0" y="0" font-size="19.89" textLength="35.98" lengthAdjust="spacingAndGlyphs" fill="#707070" font-family="'Liberation Sans',sans-serif" font-weight="normal" >EQE</text>
<text transform="translate(1258.63,298.18) rotate(90)" x="0" y="0" font-size="23.96" textLength="47.09" lengthAdjust="spacingAndGlyphs" fill="#707070" font-family="'Liberation Sans',sans-serif" font-weight="normal" >(%)</text>
<text x="689.14" y="41.56" font-size="43.75" textLength="17.29" lengthAdjust="spacingAndGlyphs" fill="#111" font-family="'Liberation Serif',serif" font-weight="bold" >c</text>
<path d="M737.4 1001.5a3.6 3.6 0 1 0 7.2 0a3.6 3.6 0 1 0 -7.2 0M743.4 1000.0a3.6 3.6 0 1 0 7.2 0a3.6 3.6 0 1 0 -7.2 0M749.4 998.5a3.6 3.6 0 1 0 7.2 0a3.6 3.6 0 1 0 -7.2 0M755.4 997.0a3.6 3.6 0 1 0 7.2 0a3.6 3.6 0 1 0 -7.2 0M761.4 995.0a3.6 3.6 0 1 0 7.2 0a3.6 3.6 0 1 0 -7.2 0M767.4 992.5a3.6 3.6 0 1 0 7.2 0a3.6 3.6 0 1 0 -7.2 0M773.4 989.0a3.6 3.6 0 1 0 7.2 0a3.6 3.6 0 1 0 -7.2 0M779.4 985.0a3.6 3.6 0 1 0 7.2 0a3.6 3.6 0 1 0 -7.2 0M785.4 980.0a3.6 3.6 0 1 0 7.2 0a3.6 3.6 0 1 0 -7.2 0M791.9 974.0a3.6 3.6 0 1 0 7.2 0a3.6 3.6 0 1 0 -7.2 0M799.0 966.0a3.6 3.6 0 1 0 7.2 0a3.6 3.6 0 1 0 -7.2 0M806.8 956.5a3.6 3.6 0 1 0 7.2 0a3.6 3.6 0 1 0 -7.2 0M813.1 947.0a3.6 3.6 0 1 0 7.2 0a3.6 3.6 0 1 0 -7.2 0M820.2 937.6a3.6 3.6 0 1 0 7.2 0a3.6 3.6 0 1 0 -7.2 0M826.4 927.4a3.6 3.6 0 1 0 7.2 0a3.6 3.6 0 1 0 -7.2 0M832.7 915.6a3.6 3.6 0 1 0 7.2 0a3.6 3.6 0 1 0 -7.2 0M839.8 903.8a3.6 3.6 0 1 0 7.2 0a3.6 3.6 0 1 0 -7.2 0M850.0 878.7a3.6 3.6 0 1 0 7.2 0a3.6 3.6 0 1 0 -7.2 0M856.3 866.1a3.6 3.6 0 1 0 7.2 0a3.6 3.6 0 1 0 -7.2 0M862.6 855.1a3.6 3.6 0 1 0 7.2 0a3.6 3.6 0 1 0 -7.2 0M868.9 842.6a3.6 3.6 0 1 0 7.2 0a3.6 3.6 0 1 0 -7.2 0M876.7 831.9a3.6 3.6 0 1 0 7.2 0a3.6 3.6 0 1 0 -7.2 0M883.3 831.9a3.6 3.6 0 1 0 7.2 0a3.6 3.6 0 1 0 -7.2 0M890.8 801.9a3.6 3.6 0 1 0 7.2 0a3.6 3.6 0 1 0 -7.2 0M897.4 792.5a3.6 3.6 0 1 0 7.2 0a3.6 3.6 0 1 0 -7.2 0M916.1 767.2a3.6 3.6 0 1 0 7.2 0a3.6 3.6 0 1 0 -7.2 0M922.7 762.5a3.6 3.6 0 1 0 7.2 0a3.6 3.6 0 1 0 -7.2 0M929.2 757.8a3.6 3.6 0 1 0 7.2 0a3.6 3.6 0 1 0 -7.2 0M935.8 755.0a3.6 3.6 0 1 0 7.2 0a3.6 3.6 0 1 0 -7.2 0M944.2 752.2a3.6 3.6 0 1 0 7.2 0a3.6 3.6 0 1 0 -7.2 0M985.4 747.5a3.6 3.6 0 1 0 7.2 0a3.6 3.6 0 1 0 -7.2 0M993.0 750.3a3.6 3.6 0 1 0 7.2 0a3.6 3.6 0 1 0 -7.2 0M999.5 752.2a3.6 3.6 0 1 0 7.2 0a3.6 3.6 0 1 0 -7.2 0M1007.0 754.1a3.6 3.6 0 1 0 7.2 0a3.6 3.6 0 1 0 -7.2 0M1014.5 755.9a3.6 3.6 0 1 0 7.2 0a3.6 3.6 0 1 0 -7.2 0M1021.1 782.2a3.6 3.6 0 1 0 7.2 0a3.6 3.6 0 1 0 -7.2 0M1027.7 758.8a3.6 3.6 0 1 0 7.2 0a3.6 3.6 0 1 0 -7.2 0M1030.7 760.1a3.6 3.6 0 1 0 7.2 0a3.6 3.6 0 1 0 -7.2 0M1033.7 761.7a3.6 3.6 0 1 0 7.2 0a3.6 3.6 0 1 0 -7.2 0M1036.7 763.6a3.6 3.6 0 1 0 7.2 0a3.6 3.6 0 1 0 -7.2 0M1039.7 765.8a3.6 3.6 0 1 0 7.2 0a3.6 3.6 0 1 0 -7.2 0M1042.7 768.3a3.6 3.6 0 1 0 7.2 0a3.6 3.6 0 1 0 -7.2 0M1045.7 771.0a3.6 3.6 0 1 0 7.2 0a3.6 3.6 0 1 0 -7.2 0M1048.7 774.0a3.6 3.6 0 1 0 7.2 0a3.6 3.6 0 1 0 -7.2 0M1051.7 777.3a3.6 3.6 0 1 0 7.2 0a3.6 3.6 0 1 0 -7.2 0M1054.7 780.8a3.6 3.6 0 1 0 7.2 0a3.6 3.6 0 1 0 -7.2 0" fill="#3a3ea8" stroke="#2a30a0" stroke-width="0.8"/>
<path d="M738.0 999.7a3.3 3.3 0 1 0 6.6 0a3.3 3.3 0 1 0 -6.6 0M745.1 997.3a3.3 3.3 0 1 0 6.6 0a3.3 3.3 0 1 0 -6.6 0M751.3 995.8a3.3 3.3 0 1 0 6.6 0a3.3 3.3 0 1 0 -6.6 0M758.4 993.4a3.3 3.3 0 1 0 6.6 0a3.3 3.3 0 1 0 -6.6 0M764.7 990.3a3.3 3.3 0 1 0 6.6 0a3.3 3.3 0 1 0 -6.6 0M771.8 985.5a3.3 3.3 0 1 0 6.6 0a3.3 3.3 0 1 0 -6.6 0M778.8 980.8a3.3 3.3 0 1 0 6.6 0a3.3 3.3 0 1 0 -6.6 0M785.1 974.5a3.3 3.3 0 1 0 6.6 0a3.3 3.3 0 1 0 -6.6 0M792.2 968.3a3.3 3.3 0 1 0 6.6 0a3.3 3.3 0 1 0 -6.6 0M799.3 960.0a3.3 3.3 0 1 0 6.6 0a3.3 3.3 0 1 0 -6.6 0M800.8 954.1a3.3 3.3 0 1 0 6.6 0a3.3 3.3 0 1 0 -6.6 0M807.1 943.1a3.3 3.3 0 1 0 6.6 0a3.3 3.3 0 1 0 -6.6 0M813.4 931.3a3.3 3.3 0 1 0 6.6 0a3.3 3.3 0 1 0 -6.6 0M820.5 920.3a3.3 3.3 0 1 0 6.6 0a3.3 3.3 0 1 0 -6.6 0M826.0 907.8a3.3 3.3 0 1 0 6.6 0a3.3 3.3 0 1 0 -6.6 0M833.0 892.8a3.3 3.3 0 1 0 6.6 0a3.3 3.3 0 1 0 -6.6 0M839.3 879.5a3.3 3.3 0 1 0 6.6 0a3.3 3.3 0 1 0 -6.6 0M850.3 847.3a3.3 3.3 0 1 0 6.6 0a3.3 3.3 0 1 0 -6.6 0M856.6 833.1a3.3 3.3 0 1 0 6.6 0a3.3 3.3 0 1 0 -6.6 0M849.8 846.9a3.3 3.3 0 1 0 6.6 0a3.3 3.3 0 1 0 -6.6 0M862.0 818.8a3.3 3.3 0 1 0 6.6 0a3.3 3.3 0 1 0 -6.6 0M868.6 803.8a3.3 3.3 0 1 0 6.6 0a3.3 3.3 0 1 0 -6.6 0M875.1 789.7a3.3 3.3 0 1 0 6.6 0a3.3 3.3 0 1 0 -6.6 0M881.7 790.6a3.3 3.3 0 1 0 6.6 0a3.3 3.3 0 1 0 -6.6 0M891.1 754.1a3.3 3.3 0 1 0 6.6 0a3.3 3.3 0 1 0 -6.6 0M897.7 741.9a3.3 3.3 0 1 0 6.6 0a3.3 3.3 0 1 0 -6.6 0M915.5 710.0a3.3 3.3 0 1 0 6.6 0a3.3 3.3 0 1 0 -6.6 0M922.0 704.4a3.3 3.3 0 1 0 6.6 0a3.3 3.3 0 1 0 -6.6 0M928.6 700.6a3.3 3.3 0 1 0 6.6 0a3.3 3.3 0 1 0 -6.6 0M934.2 696.9a3.3 3.3 0 1 0 6.6 0a3.3 3.3 0 1 0 -6.6 0M944.5 693.1a3.3 3.3 0 1 0 6.6 0a3.3 3.3 0 1 0 -6.6 0M985.7 686.6a3.3 3.3 0 1 0 6.6 0a3.3 3.3 0 1 0 -6.6 0M992.3 690.3a3.3 3.3 0 1 0 6.6 0a3.3 3.3 0 1 0 -6.6 0M999.8 693.1a3.3 3.3 0 1 0 6.6 0a3.3 3.3 0 1 0 -6.6 0M1006.4 696.0a3.3 3.3 0 1 0 6.6 0a3.3 3.3 0 1 0 -6.6 0M1013.9 697.8a3.3 3.3 0 1 0 6.6 0a3.3 3.3 0 1 0 -6.6 0M1021.4 730.6a3.3 3.3 0 1 0 6.6 0a3.3 3.3 0 1 0 -6.6 0M1028.0 700.6a3.3 3.3 0 1 0 6.6 0a3.3 3.3 0 1 0 -6.6 0M1031.0 702.2a3.3 3.3 0 1 0 6.6 0a3.3 3.3 0 1 0 -6.6 0M1034.0 704.1a3.3 3.3 0 1 0 6.6 0a3.3 3.3 0 1 0 -6.6 0M1037.0 706.5a3.3 3.3 0 1 0 6.6 0a3.3 3.3 0 1 0 -6.6 0M1040.0 709.2a3.3 3.3 0 1 0 6.6 0a3.3 3.3 0 1 0 -6.6 0M1043.0 712.3a3.3 3.3 0 1 0 6.6 0a3.3 3.3 0 1 0 -6.6 0M1046.0 715.9a3.3 3.3 0 1 0 6.6 0a3.3 3.3 0 1 0 -6.6 0M1049.0 719.8a3.3 3.3 0 1 0 6.6 0a3.3 3.3 0 1 0 -6.6 0M1052.0 724.1a3.3 3.3 0 1 0 6.6 0a3.3 3.3 0 1 0 -6.6 0M1055.0 728.8a3.3 3.3 0 1 0 6.6 0a3.3 3.3 0 1 0 -6.6 0" fill="#a0a6dc" stroke="#5a60c0" stroke-width="1.8"/>
<path d="M897 737.2 H872" stroke="#333" stroke-width="2.6"/><path d="M864.4 737.2 l14 -6.5 v13 z" fill="#222"/>
<path d="M1060 770.2 H1092" stroke="#333" stroke-width="2.6"/><path d="M1101 770.2 l-13 -6.5 v13 z" fill="#222"/>
<rect x="965.1" y="790.7" width="178.89999999999998" height="165.39999999999998" fill="#fff" stroke="#6870c4" stroke-width="2.6" rx="1.5"/>
<path d="M965.6 953.6 L966.1 953.5 L966.6 953.5 L967.1 953.5 L967.6 953.5 L968.1 953.5 L968.6 953.5 L969.1 953.5 L969.6 953.5 L970.1 953.5 L970.6 953.5 L971.1 953.5 L971.6 953.5 L972.1 953.5 L972.6 953.5 L973.1 953.5 L973.6 953.5 L974.1 953.5 L974.6 953.5 L975.1 953.4 L975.6 953.4 L976.1 953.4 L976.6 953.4 L977.1 953.4 L977.6 953.4 L978.1 953.4 L978.6 953.4 L979.1 953.4 L979.5 953.4 L980.0 953.4 L980.5 953.4 L981.0 953.4 L981.5 953.4 L982.0 953.3 L982.5 953.3 L983.0 953.3 L983.5 953.3 L984.0 953.3 L984.5 953.3 L985.0 953.3 L985.5 953.3 L986.0 953.3 L986.5 953.3 L987.0 953.3 L987.5 953.2 L988.0 953.2 L988.5 953.2 L989.0 953.2 L989.5 953.2 L990.0 953.2 L990.5 953.2 L991.0 953.2 L991.5 953.2 L992.0 953.1 L992.5 953.1 L993.0 953.1 L993.5 953.1 L994.0 953.1 L994.5 953.1 L995.0 953.1 L995.5 953.1 L996.0 953.0 L996.4 953.0 L996.9 953.0 L997.4 953.0 L997.9 953.0 L998.4 953.0 L998.9 952.9 L999.4 952.9 L999.9 952.9 L1000.4 952.9 L1000.9 952.9 L1001.4 952.9 L1001.9 952.8 L1002.4 952.8 L1002.9 952.8 L1003.4 952.8 L1003.9 952.8 L1004.4 952.7 L1004.9 952.7 L1005.4 952.7 L1005.9 952.7 L1006.4 952.6 L1006.9 952.6 L1007.4 952.6 L1007.9 952.6 L1008.4 952.5 L1008.9 952.5 L1009.4 952.5 L1009.9 952.4 L1010.4 952.4 L1010.9 952.4 L1011.4 952.4 L1011.9 952.3 L1012.4 952.3 L1012.8 952.2 L1013.3 952.2 L1013.8 952.2 L1014.3 952.1 L1014.8 952.1 L1015.3 952.1 L1015.8 952.0 L1016.3 952.0 L1016.8 951.9 L1017.3 951.9 L1017.8 951.8 L1018.3 951.8 L1018.8 951.7 L1019.3 951.7 L1019.8 951.6 L1020.3 951.6 L1020.8 951.5 L1021.3 951.4 L1021.8 951.4 L1022.3 951.3 L1022.8 951.2 L1023.3 951.2 L1023.8 951.1 L1024.3 951.0 L1024.8 950.9 L1025.3 950.8 L1025.8 950.8 L1026.3 950.7 L1026.8 950.6 L1027.3 950.5 L1027.8 950.3 L1028.3 950.2 L1028.8 950.1 L1029.2 950.0 L1029.7 949.8 L1030.2 949.7 L1030.7 949.5 L1031.2 949.3 L1031.7 949.1 L1032.2 948.9 L1032.7 948.7 L1033.2 948.4 L1033.7 948.1 L1034.2 947.8 L1034.7 947.5 L1035.2 947.1 L1035.7 946.6 L1036.2 946.1 L1036.7 945.6 L1037.2 945.0 L1037.7 944.3 L1038.2 943.6 L1038.7 942.7 L1039.2 941.8 L1039.7 940.8 L1040.2 939.6 L1040.7 938.4 L1041.2 937.0 L1041.7 935.4 L1042.2 933.7 L1042.7 931.8 L1043.2 929.8 L1043.7 927.6 L1044.2 925.1 L1044.7 922.5 L1045.2 919.7 L1045.7 916.7 L1046.1 913.4 L1046.6 910.0 L1047.1 906.3 L1047.6 902.4 L1048.1 898.3 L1048.6 894.1 L1049.1 889.6 L1049.6 885.0 L1050.1 880.2 L1050.6 875.3 L1051.1 870.3 L1051.6 865.2 L1052.1 860.0 L1052.6 854.9 L1053.1 849.8 L1053.6 844.8 L1054.1 839.9 L1054.6 835.1 L1055.1 830.6 L1055.6 826.3 L1056.1 822.4 L1056.6 818.9 L1057.1 815.8 L1057.6 813.1 L1058.1 811.1 L1058.6 809.5 L1059.1 808.6 L1059.6 808.3 L1060.1 808.6 L1060.6 809.4 L1061.1 810.8 L1061.6 812.8 L1062.1 815.2 L1062.5 818.1 L1063.0 821.4 L1063.5 825.0 L1064.0 829.0 L1064.5 833.3 L1065.0 837.7 L1065.5 842.4 L1066.0 847.2 L1066.5 852.0 L1067.0 857.0 L1067.5 861.9 L1068.0 866.8 L1068.5 871.7 L1069.0 876.5 L1069.5 881.1 L1070.0 885.7 L1070.5 890.1 L1071.0 894.4 L1071.5 898.5 L1072.0 902.4 L1072.5 906.1 L1073.0 909.7 L1073.5 913.0 L1074.0 916.2 L1074.5 919.1 L1075.0 921.9 L1075.5 924.4 L1076.0 926.8 L1076.5 929.0 L1077.0 931.0 L1077.5 932.9 L1078.0 934.6 L1078.5 936.2 L1079.0 937.6 L1079.4 938.9 L1079.9 940.1 L1080.4 941.1 L1080.9 942.1 L1081.4 943.0 L1081.9 943.7 L1082.4 944.4 L1082.9 945.1 L1083.4 945.7 L1083.9 946.2 L1084.4 946.6 L1084.9 947.0 L1085.4 947.4 L1085.9 947.8 L1086.4 948.1 L1086.9 948.4 L1087.4 948.6 L1087.9 948.8 L1088.4 949.1 L1088.9 949.3 L1089.4 949.4 L1089.9 949.6 L1090.4 949.7 L1090.9 949.9 L1091.4 950.0 L1091.9 950.2 L1092.4 950.3 L1092.9 950.4 L1093.4 950.5 L1093.9 950.6 L1094.4 950.7 L1094.9 950.8 L1095.4 950.9 L1095.8 950.9 L1096.3 951.0 L1096.8 951.1 L1097.3 951.2 L1097.8 951.2 L1098.3 951.3 L1098.8 951.4 L1099.3 951.4 L1099.8 951.5 L1100.3 951.5 L1100.8 951.6 L1101.3 951.7 L1101.8 951.7 L1102.3 951.8 L1102.8 951.8 L1103.3 951.9 L1103.8 951.9 L1104.3 951.9 L1104.8 952.0 L1105.3 952.0 L1105.8 952.1 L1106.3 952.1 L1106.8 952.1 L1107.3 952.2 L1107.8 952.2 L1108.3 952.3 L1108.8 952.3 L1109.3 952.3 L1109.8 952.4 L1110.3 952.4 L1110.8 952.4 L1111.3 952.4 L1111.8 952.5 L1112.2 952.5 L1112.7 952.5 L1113.2 952.6 L1113.7 952.6 L1114.2 952.6 L1114.7 952.6 L1115.2 952.6 L1115.7 952.7 L1116.2 952.7 L1116.7 952.7 L1117.2 952.7 L1117.7 952.8 L1118.2 952.8 L1118.7 952.8 L1119.2 952.8 L1119.7 952.8 L1120.2 952.9 L1120.7 952.9 L1121.2 952.9 L1121.7 952.9 L1122.2 952.9 L1122.7 952.9 L1123.2 953.0 L1123.7 953.0 L1124.2 953.0 L1124.7 953.0 L1125.2 953.0 L1125.7 953.0 L1126.2 953.0 L1126.7 953.1 L1127.2 953.1 L1127.7 953.1 L1128.2 953.1 L1128.7 953.1 L1129.1 953.1 L1129.6 953.1 L1130.1 953.1 L1130.6 953.2 L1131.1 953.2 L1131.6 953.2 L1132.1 953.2 L1132.6 953.2 L1133.1 953.2 L1133.6 953.2 L1134.1 953.2 L1134.6 953.2 L1135.1 953.3 L1135.6 953.3 L1136.1 953.3 L1136.6 953.3 L1137.1 953.3 L1137.6 953.3 L1138.1 953.3 L1138.6 953.3 L1139.1 953.3 L1139.6 953.3 L1140.1 953.3 L1140.6 953.4 L1141.1 953.4 L1141.6 953.4 L1142.1 953.4 L1142.6 953.4 L1143.1 953.4 L1143.6 953.4" stroke="#6068c0" stroke-width="2.6" fill="none"/>
<line x1="1004.4" y1="956.1" x2="1004.4" y2="960.1" stroke="#7078c0" stroke-width="2" />
<line x1="1054.1" y1="956.1" x2="1054.1" y2="960.1" stroke="#7078c0" stroke-width="2" />
<line x1="1103.8" y1="956.1" x2="1103.8" y2="960.1" stroke="#7078c0" stroke-width="2" />
<text x="988.51" y="979.82" font-size="17.61" textLength="32.13" lengthAdjust="spacingAndGlyphs" fill="#7a7a7a" font-family="'Liberation Sans',sans-serif" font-weight="normal" >400</text>
<text x="1038.21" y="979.82" font-size="17.61" textLength="32.13" lengthAdjust="spacingAndGlyphs" fill="#7a7a7a" font-family="'Liberation Sans',sans-serif" font-weight="normal" >450</text>
<text x="1087.52" y="979.82" font-size="17.61" textLength="32.53" lengthAdjust="spacingAndGlyphs" fill="#7a7a7a" font-family="'Liberation Sans',sans-serif" font-weight="normal" >500</text>
<text x="983.41" y="997.86" font-size="14.97" textLength="142.76" lengthAdjust="spacingAndGlyphs" fill="#7a7a7a" font-family="'Liberation Sans',sans-serif" font-weight="normal" >Wavelength (nm)</text>
<text transform="translate(927.81,965.56) rotate(-90)" x="0" y="0" font-size="19.05" textLength="179.47" lengthAdjust="spacingAndGlyphs" fill="#7a7a7a" font-family="'Liberation Sans',sans-serif" font-weight="normal" >Electroluminescence</text>
<text transform="translate(951.36,936.80) rotate(-90)" x="0" y="0" font-size="14.97" textLength="125.61" lengthAdjust="spacingAndGlyphs" fill="#7a7a7a" font-family="'Liberation Sans',sans-serif" font-weight="normal" >intensity (a.u.)</text>
<rect x="739.3" y="641.8" width="433.70000000000005" height="366.0" fill="none" stroke="#555" stroke-width="3"/>
<line x1="728.3" y1="1007.8" x2="739.3" y2="1007.8" stroke="#555" stroke-width="3" />
<line x1="733.5" y1="971.2" x2="739.3" y2="971.2" stroke="#555" stroke-width="3" />
<line x1="728.3" y1="934.6" x2="739.3" y2="934.6" stroke="#555" stroke-width="3" />
<line x1="733.5" y1="898.0" x2="739.3" y2="898.0" stroke="#555" stroke-width="3" />
<line x1="728.3" y1="861.4" x2="739.3" y2="861.4" stroke="#555" stroke-width="3" />
<line x1="733.5" y1="824.8" x2="739.3" y2="824.8" stroke="#555" stroke-width="3" />
<line x1="728.3" y1="788.2" x2="739.3" y2="788.2" stroke="#555" stroke-width="3" />
<line x1="733.5" y1="751.6" x2="739.3" y2="751.6" stroke="#555" stroke-width="3" />
<line x1="728.3" y1="715.0" x2="739.3" y2="715.0" stroke="#555" stroke-width="3" />
<line x1="733.5" y1="678.4" x2="739.3" y2="678.4" stroke="#555" stroke-width="3" />
<line x1="728.3" y1="641.8" x2="739.3" y2="641.8" stroke="#555" stroke-width="3" />
<line x1="1173.0" y1="1007.8" x2="1185.0" y2="1007.8" stroke="#555" stroke-width="3" />
<line x1="1173.0" y1="946.8" x2="1179.0" y2="946.8" stroke="#555" stroke-width="3" />
<line x1="1173.0" y1="885.8" x2="1185.0" y2="885.8" stroke="#555" stroke-width="3" />
<line x1="1173.0" y1="824.8" x2="1179.0" y2="824.8" stroke="#555" stroke-width="3" />
<line x1="1173.0" y1="763.8" x2="1185.0" y2="763.8" stroke="#555" stroke-width="3" />
<line x1="1173.0" y1="702.8" x2="1179.0" y2="702.8" stroke="#555" stroke-width="3" />
<line x1="1173.0" y1="641.8" x2="1185.0" y2="641.8" stroke="#555" stroke-width="3" />
<line x1="739.5" y1="1007.8" x2="739.5" y2="1013.3" stroke="#555" stroke-width="2.4" />
<line x1="744.7" y1="1007.8" x2="744.7" y2="1013.3" stroke="#555" stroke-width="2.4" />
<line x1="749.1" y1="1007.8" x2="749.1" y2="1013.3" stroke="#555" stroke-width="2.4" />
<line x1="752.9" y1="1007.8" x2="752.9" y2="1013.3" stroke="#555" stroke-width="2.4" />
<line x1="756.3" y1="1007.8" x2="756.3" y2="1013.3" stroke="#555" stroke-width="2.4" />
<line x1="759.3" y1="1007.8" x2="759.3" y2="1017.8" stroke="#555" stroke-width="2.4" />
<line x1="779.1" y1="1007.8" x2="779.1" y2="1013.3" stroke="#555" stroke-width="2.4" />
<line x1="790.7" y1="1007.8" x2="790.7" y2="1013.3" stroke="#555" stroke-width="2.4" />
<line x1="798.9" y1="1007.8" x2="798.9" y2="1013.3" stroke="#555" stroke-width="2.4" />
<line x1="805.3" y1="1007.8" x2="805.3" y2="1013.3" stroke="#555" stroke-width="2.4" />
<line x1="810.5" y1="1007.8" x2="810.5" y2="1013.3" stroke="#555" stroke-width="2.4" />
<line x1="814.9" y1="1007.8" x2="814.9" y2="1013.3" stroke="#555" stroke-width="2.4" />
<line x1="818.8" y1="1007.8" x2="818.8" y2="1013.3" stroke="#555" stroke-width="2.4" />
<line x1="822.1" y1="1007.8" x2="822.1" y2="1013.3" stroke="#555" stroke-width="2.4" />
<line x1="825.1" y1="1007.8" x2="825.1" y2="1017.8" stroke="#555" stroke-width="2.4" />
<line x1="845.0" y1="1007.8" x2="845.0" y2="1013.3" stroke="#555" stroke-width="2.4" />
<line x1="856.6" y1="1007.8" x2="856.6" y2="1013.3" stroke="#555" stroke-width="2.4" />
<line x1="864.8" y1="1007.8" x2="864.8" y2="1013.3" stroke="#555" stroke-width="2.4" />
<line x1="871.2" y1="1007.8" x2="871.2" y2="1013.3" stroke="#555" stroke-width="2.4" />
<line x1="876.4" y1="1007.8" x2="876.4" y2="1013.3" stroke="#555" stroke-width="2.4" />
<line x1="880.8" y1="1007.8" x2="880.8" y2="1013.3" stroke="#555" stroke-width="2.4" />
<line x1="884.6" y1="1007.8" x2="884.6" y2="1013.3" stroke="#555" stroke-width="2.4" />
<line x1="888.0" y1="1007.8" x2="888.0" y2="1013.3" stroke="#555" stroke-width="2.4" />
<line x1="891.0" y1="1007.8" x2="891.0" y2="1017.8" stroke="#555" stroke-width="2.4" />
<line x1="910.8" y1="1007.8" x2="910.8" y2="1013.3" stroke="#555" stroke-width="2.4" />
<line x1="922.4" y1="1007.8" x2="922.4" y2="1013.3" stroke="#555" stroke-width="2.4" />
<line x1="930.6" y1="1007.8" x2="930.6" y2="1013.3" stroke="#555" stroke-width="2.4" />
<line x1="937.0" y1="1007.8" x2="937.0" y2="1013.3" stroke="#555" stroke-width="2.4" />
<line x1="942.2" y1="1007.8" x2="942.2" y2="1013.3" stroke="#555" stroke-width="2.4" />
<line x1="946.6" y1="1007.8" x2="946.6" y2="1013.3" stroke="#555" stroke-width="2.4" />
<line x1="950.5" y1="1007.8" x2="950.5" y2="1013.3" stroke="#555" stroke-width="2.4" />
<line x1="953.8" y1="1007.8" x2="953.8" y2="1013.3" stroke="#555" stroke-width="2.4" />
<line x1="956.8" y1="1007.8" x2="956.8" y2="1017.8" stroke="#555" stroke-width="2.4" />
<line x1="976.7" y1="1007.8" x2="976.7" y2="1013.3" stroke="#555" stroke-width="2.4" />
<line x1="988.3" y1="1007.8" x2="988.3" y2="1013.3" stroke="#555" stroke-width="2.4" />
<line x1="996.5" y1="1007.8" x2="996.5" y2="1013.3" stroke="#555" stroke-width="2.4" />
<line x1="1002.9" y1="1007.8" x2="1002.9" y2="1013.3" stroke="#555" stroke-width="2.4" />
<line x1="1008.1" y1="1007.8" x2="1008.1" y2="1013.3" stroke="#555" stroke-width="2.4" />
<line x1="1012.5" y1="1007.8" x2="1012.5" y2="1013.3" stroke="#555" stroke-width="2.4" />
<line x1="1016.3" y1="1007.8" x2="1016.3" y2="1013.3" stroke="#555" stroke-width="2.4" />
<line x1="1019.7" y1="1007.8" x2="1019.7" y2="1013.3" stroke="#555" stroke-width="2.4" />
<line x1="1022.7" y1="1007.8" x2="1022.7" y2="1017.8" stroke="#555" stroke-width="2.4" />
<line x1="1042.5" y1="1007.8" x2="1042.5" y2="1013.3" stroke="#555" stroke-width="2.4" />
<line x1="1054.1" y1="1007.8" x2="1054.1" y2="1013.3" stroke="#555" stroke-width="2.4" />
<line x1="1062.3" y1="1007.8" x2="1062.3" y2="1013.3" stroke="#555" stroke-width="2.4" />
<line x1="1068.7" y1="1007.8" x2="1068.7" y2="1013.3" stroke="#555" stroke-width="2.4" />
<line x1="1073.9" y1="1007.8" x2="1073.9" y2="1013.3" stroke="#555" stroke-width="2.4" />
<line x1="1078.3" y1="1007.8" x2="1078.3" y2="1013.3" stroke="#555" stroke-width="2.4" />
<line x1="1082.2" y1="1007.8" x2="1082.2" y2="1013.3" stroke="#555" stroke-width="2.4" />
<line x1="1085.5" y1="1007.8" x2="1085.5" y2="1013.3" stroke="#555" stroke-width="2.4" />
<line x1="1088.5" y1="1007.8" x2="1088.5" y2="1017.8" stroke="#555" stroke-width="2.4" />
<line x1="1108.4" y1="1007.8" x2="1108.4" y2="1013.3" stroke="#555" stroke-width="2.4" />
<line x1="1120.0" y1="1007.8" x2="1120.0" y2="1013.3" stroke="#555" stroke-width="2.4" />
<line x1="1128.2" y1="1007.8" x2="1128.2" y2="1013.3" stroke="#555" stroke-width="2.4" />
<line x1="1134.6" y1="1007.8" x2="1134.6" y2="1013.3" stroke="#555" stroke-width="2.4" />
<line x1="1139.8" y1="1007.8" x2="1139.8" y2="1013.3" stroke="#555" stroke-width="2.4" />
<line x1="1144.2" y1="1007.8" x2="1144.2" y2="1013.3" stroke="#555" stroke-width="2.4" />
<line x1="1148.0" y1="1007.8" x2="1148.0" y2="1013.3" stroke="#555" stroke-width="2.4" />
<line x1="1151.4" y1="1007.8" x2="1151.4" y2="1013.3" stroke="#555" stroke-width="2.4" />
<line x1="1154.4" y1="1007.8" x2="1154.4" y2="1017.8" stroke="#555" stroke-width="2.4" />
<text x="700.42" y="1017.52" font-size="28.17" textLength="15.06" lengthAdjust="spacingAndGlyphs" fill="#707070" font-family="'Liberation Sans',sans-serif" font-weight="normal" >0</text>
<text x="699.26" y="944.60" font-size="28.99" textLength="16.62" lengthAdjust="spacingAndGlyphs" fill="#707070" font-family="'Liberation Sans',sans-serif" font-weight="normal" >1</text>
<text x="700.07" y="871.40" font-size="28.57" textLength="15.89" lengthAdjust="spacingAndGlyphs" fill="#707070" font-family="'Liberation Sans',sans-serif" font-weight="normal" >2</text>
<text x="700.41" y="797.92" font-size="28.17" textLength="15.22" lengthAdjust="spacingAndGlyphs" fill="#707070" font-family="'Liberation Sans',sans-serif" font-weight="normal" >3</text>
<text x="700.99" y="725.00" font-size="28.99" textLength="14.32" lengthAdjust="spacingAndGlyphs" fill="#707070" font-family="'Liberation Sans',sans-serif" font-weight="normal" >4</text>
<text x="700.41" y="651.51" font-size="28.57" textLength="15.22" lengthAdjust="spacingAndGlyphs" fill="#707070" font-family="'Liberation Sans',sans-serif" font-weight="normal" >5</text>
<text x="1195.46" y="1017.52" font-size="28.17" textLength="14.48" lengthAdjust="spacingAndGlyphs" fill="#707070" font-family="'Liberation Sans',sans-serif" font-weight="normal" >0</text>
<text x="1195.45" y="895.51" font-size="28.57" textLength="14.64" lengthAdjust="spacingAndGlyphs" fill="#707070" font-family="'Liberation Sans',sans-serif" font-weight="normal" >5</text>
<text x="1194.74" y="773.52" font-size="28.17" textLength="26.14" lengthAdjust="spacingAndGlyphs" fill="#707070" font-family="'Liberation Sans',sans-serif" font-weight="normal" >10</text>
<text x="1194.73" y="651.51" font-size="28.57" textLength="26.27" lengthAdjust="spacingAndGlyphs" fill="#707070" font-family="'Liberation Sans',sans-serif" font-weight="normal" >15</text>
<text x="736.50" y="1058.14" font-size="26.06" textLength="26.70" lengthAdjust="spacingAndGlyphs" fill="#707070" font-family="'Liberation Sans',sans-serif" font-weight="normal" >10</text>
<text x="763.68" y="1049.90" font-size="17.39" textLength="14.18" lengthAdjust="spacingAndGlyphs" fill="#707070" font-family="'Liberation Sans',sans-serif" font-weight="normal" >−1</text>
<text x="802.35" y="1058.14" font-size="26.06" textLength="26.70" lengthAdjust="spacingAndGlyphs" fill="#707070" font-family="'Liberation Sans',sans-serif" font-weight="normal" >10</text>
<text x="829.57" y="1049.73" font-size="16.90" textLength="8.11" lengthAdjust="spacingAndGlyphs" fill="#707070" font-family="'Liberation Sans',sans-serif" font-weight="normal" >0</text>
<text x="868.20" y="1058.14" font-size="26.06" textLength="26.70" lengthAdjust="spacingAndGlyphs" fill="#707070" font-family="'Liberation Sans',sans-serif" font-weight="normal" >10</text>
<text x="894.79" y="1049.90" font-size="17.39" textLength="8.95" lengthAdjust="spacingAndGlyphs" fill="#707070" font-family="'Liberation Sans',sans-serif" font-weight="normal" >1</text>
<text x="934.05" y="1058.14" font-size="26.06" textLength="26.70" lengthAdjust="spacingAndGlyphs" fill="#707070" font-family="'Liberation Sans',sans-serif" font-weight="normal" >10</text>
<text x="961.08" y="1049.90" font-size="17.14" textLength="8.56" lengthAdjust="spacingAndGlyphs" fill="#707070" font-family="'Liberation Sans',sans-serif" font-weight="normal" >2</text>
<text x="999.90" y="1058.14" font-size="26.06" textLength="26.70" lengthAdjust="spacingAndGlyphs" fill="#707070" font-family="'Liberation Sans',sans-serif" font-weight="normal" >10</text>
<text x="1027.11" y="1049.73" font-size="16.90" textLength="8.20" lengthAdjust="spacingAndGlyphs" fill="#707070" font-family="'Liberation Sans',sans-serif" font-weight="normal" >3</text>
<text x="1065.75" y="1058.14" font-size="26.06" textLength="26.70" lengthAdjust="spacingAndGlyphs" fill="#707070" font-family="'Liberation Sans',sans-serif" font-weight="normal" >10</text>
<text x="1093.27" y="1049.90" font-size="17.39" textLength="7.71" lengthAdjust="spacingAndGlyphs" fill="#707070" font-family="'Liberation Sans',sans-serif" font-weight="normal" >4</text>
<text x="1131.60" y="1058.14" font-size="26.06" textLength="26.70" lengthAdjust="spacingAndGlyphs" fill="#707070" font-family="'Liberation Sans',sans-serif" font-weight="normal" >10</text>
<text x="1158.81" y="1049.73" font-size="17.14" textLength="8.20" lengthAdjust="spacingAndGlyphs" fill="#707070" font-family="'Liberation Sans',sans-serif" font-weight="normal" >5</text>
<text transform="translate(671.68,889.42) rotate(-90)" x="0" y="0" font-size="22.00" textLength="15.70" lengthAdjust="spacingAndGlyphs" fill="#707070" font-family="'Liberation Sans',sans-serif" font-weight="normal"  font-style="italic">η</text>
<text transform="translate(678.30,873.70) rotate(-90)" x="0" y="0" font-size="17.54" textLength="10.23" lengthAdjust="spacingAndGlyphs" fill="#707070" font-family="'Liberation Sans',sans-serif" font-weight="normal" >A</text>
<text transform="translate(669.06,857.40) rotate(-90)" x="0" y="0" font-size="23.53" textLength="64.51" lengthAdjust="spacingAndGlyphs" fill="#707070" font-family="'Liberation Sans',sans-serif" font-weight="normal" >(cd A</text>
<text transform="translate(661.00,789.79) rotate(-90)" x="0" y="0" font-size="17.39" textLength="18.00" lengthAdjust="spacingAndGlyphs" fill="#707070" font-family="'Liberation Sans',sans-serif" font-weight="normal" >−1</text>
<text transform="translate(669.06,771.37) rotate(-90)" x="0" y="0" font-size="23.53" textLength="11.31" lengthAdjust="spacingAndGlyphs" fill="#707070" font-family="'Liberation Sans',sans-serif" font-weight="normal" >)</text>
<text x="897.11" y="1101.10" font-size="27.25" textLength="11.00" lengthAdjust="spacingAndGlyphs" fill="#707070" font-family="'Liberation Sans',sans-serif" font-weight="normal"  font-style="italic">L</text>
<text x="915.81" y="1098.34" font-size="23.64" textLength="36.90" lengthAdjust="spacingAndGlyphs" fill="#707070" font-family="'Liberation Sans',sans-serif" font-weight="normal" >(cd</text>
<text x="959.42" y="1101.10" font-size="21.67" textLength="22.81" lengthAdjust="spacingAndGlyphs" fill="#707070" font-family="'Liberation Sans',sans-serif" font-weight="normal" >m</text>
<text x="983.36" y="1091.30" font-size="16.71" textLength="14.58" lengthAdjust="spacingAndGlyphs" fill="#707070" font-family="'Liberation Sans',sans-serif" font-weight="normal" >−2</text>
<text x="1006.85" y="1098.45" font-size="23.10" textLength="10.05" lengthAdjust="spacingAndGlyphs" fill="#707070" font-family="'Liberation Sans',sans-serif" font-weight="normal" >)</text>
<text transform="translate(1248.26,774.37) rotate(90)" x="0" y="0" font-size="22.67" textLength="12.22" lengthAdjust="spacingAndGlyphs" fill="#707070" font-family="'Liberation Sans',sans-serif" font-weight="normal"  font-style="italic">η</text>
<text transform="translate(1242.91,787.37) rotate(90)" x="0" y="0" font-size="18.99" textLength="35.02" lengthAdjust="spacingAndGlyphs" fill="#707070" font-family="'Liberation Sans',sans-serif" font-weight="normal" >EQE</text>
<text transform="translate(1251.17,832.05) rotate(90)" x="0" y="0" font-size="23.21" textLength="45.24" lengthAdjust="spacingAndGlyphs" fill="#707070" font-family="'Liberation Sans',sans-serif" font-weight="normal" >(%)</text>
<path d="M659 628 h6" stroke="#999" stroke-width="1.5"/>
</svg></body></html>
